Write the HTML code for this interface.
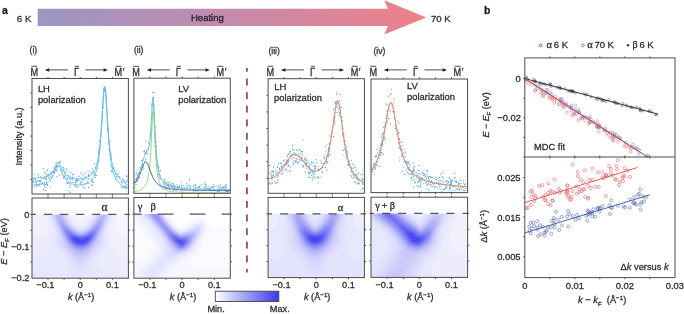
<!DOCTYPE html><html><head><meta charset="utf-8"><style>html,body{margin:0;padding:0;background:#fff;overflow:hidden}svg{display:block;font-family:"Liberation Sans", sans-serif;will-change:transform}text{stroke:#333;stroke-width:0.3px}</style></head><body><svg width="684" height="314" viewBox="0 0 684 314"><defs><linearGradient id="hg" x1="37.7" y1="0" x2="426.3" y2="0" gradientUnits="userSpaceOnUse"><stop offset="0" stop-color="#9a97c4"/><stop offset="0.42" stop-color="#bf8cb0"/><stop offset="1" stop-color="#ee8189"/></linearGradient></defs>
<polygon points="37.7,8.8 387.9,8.8 384.2,0.2 426.3,17.4 384.2,34.6 387.9,26 37.7,26" fill="url(#hg)"/>
<text x="2.00" y="13.60" font-size="10.5" text-anchor="start" font-weight="bold" font-style="normal" fill="#111" >a</text>
<text x="16.80" y="21.90" font-size="9.8" text-anchor="start" font-weight="normal" font-style="normal" fill="#2b2b2b" >6 K</text>
<text x="191.00" y="20.80" font-size="9.5" text-anchor="start" font-weight="normal" font-style="normal" fill="#2a2030" style="stroke:#2a2030">Heating</text>
<text x="431.00" y="21.90" font-size="9.6" text-anchor="start" font-weight="normal" font-style="normal" fill="#2b2b2b" >70 K</text>
<text x="484.00" y="14.00" font-size="10.5" text-anchor="start" font-weight="bold" font-style="normal" fill="#111" >b</text>
<text x="29.60" y="52.60" font-size="8.6" text-anchor="start" font-weight="normal" font-style="normal" fill="#333" >(i)</text>
<text transform="translate(30.40,75.5) scale(0.88,1)" font-size="10.4" fill="#2b2b2b">M</text>
<line x1="31.40" y1="66.3" x2="37.20" y2="66.3" stroke="#2b2b2b" stroke-width="0.85"/>
<text transform="translate(73.90,75.5) scale(0.88,1)" font-size="10.4" fill="#2b2b2b">Γ</text>
<line x1="74.80" y1="66.3" x2="78.90" y2="66.3" stroke="#2b2b2b" stroke-width="0.85"/>
<text transform="translate(114.60,75.5) scale(0.88,1)" font-size="10.4" fill="#2b2b2b">M<tspan dx="0.6">′</tspan></text>
<line x1="115.60" y1="66.3" x2="121.40" y2="66.3" stroke="#2b2b2b" stroke-width="0.85"/>
<line x1="47.80" y1="69.9" x2="67.80" y2="69.9" stroke="#222" stroke-width="0.8"/>
<polygon points="44.80,69.9 49.20,68.15 49.20,71.65" fill="#222"/>
<line x1="85.40" y1="69.9" x2="105.00" y2="69.9" stroke="#222" stroke-width="0.8"/>
<polygon points="108.00,69.9 103.60,68.15 103.60,71.65" fill="#222"/>
<text x="133.90" y="52.60" font-size="8.6" text-anchor="start" font-weight="normal" font-style="normal" fill="#333" >(ii)</text>
<text transform="translate(132.30,75.5) scale(0.88,1)" font-size="10.4" fill="#2b2b2b">M</text>
<line x1="133.30" y1="66.3" x2="139.10" y2="66.3" stroke="#2b2b2b" stroke-width="0.85"/>
<text transform="translate(175.80,75.5) scale(0.88,1)" font-size="10.4" fill="#2b2b2b">Γ</text>
<line x1="176.70" y1="66.3" x2="180.80" y2="66.3" stroke="#2b2b2b" stroke-width="0.85"/>
<text transform="translate(216.50,75.5) scale(0.88,1)" font-size="10.4" fill="#2b2b2b">M<tspan dx="0.6">′</tspan></text>
<line x1="217.50" y1="66.3" x2="223.30" y2="66.3" stroke="#2b2b2b" stroke-width="0.85"/>
<line x1="149.70" y1="69.9" x2="169.70" y2="69.9" stroke="#222" stroke-width="0.8"/>
<polygon points="146.70,69.9 151.10,68.15 151.10,71.65" fill="#222"/>
<line x1="187.30" y1="69.9" x2="206.90" y2="69.9" stroke="#222" stroke-width="0.8"/>
<polygon points="209.90,69.9 205.50,68.15 205.50,71.65" fill="#222"/>
<text x="268.40" y="54.40" font-size="8.6" text-anchor="start" font-weight="normal" font-style="normal" fill="#333" >(iii)</text>
<text transform="translate(266.50,75.5) scale(0.88,1)" font-size="10.4" fill="#2b2b2b">M</text>
<line x1="267.50" y1="66.3" x2="273.30" y2="66.3" stroke="#2b2b2b" stroke-width="0.85"/>
<text transform="translate(310.00,75.5) scale(0.88,1)" font-size="10.4" fill="#2b2b2b">Γ</text>
<line x1="310.90" y1="66.3" x2="315.00" y2="66.3" stroke="#2b2b2b" stroke-width="0.85"/>
<text transform="translate(350.70,75.5) scale(0.88,1)" font-size="10.4" fill="#2b2b2b">M<tspan dx="0.6">′</tspan></text>
<line x1="351.70" y1="66.3" x2="357.50" y2="66.3" stroke="#2b2b2b" stroke-width="0.85"/>
<line x1="283.90" y1="69.9" x2="303.90" y2="69.9" stroke="#222" stroke-width="0.8"/>
<polygon points="280.90,69.9 285.30,68.15 285.30,71.65" fill="#222"/>
<line x1="321.50" y1="69.9" x2="341.10" y2="69.9" stroke="#222" stroke-width="0.8"/>
<polygon points="344.10,69.9 339.70,68.15 339.70,71.65" fill="#222"/>
<text x="373.50" y="54.40" font-size="8.6" text-anchor="start" font-weight="normal" font-style="normal" fill="#333" >(iv)</text>
<text transform="translate(369.40,75.5) scale(0.88,1)" font-size="10.4" fill="#2b2b2b">M</text>
<line x1="370.40" y1="66.3" x2="376.20" y2="66.3" stroke="#2b2b2b" stroke-width="0.85"/>
<text transform="translate(412.90,75.5) scale(0.88,1)" font-size="10.4" fill="#2b2b2b">Γ</text>
<line x1="413.80" y1="66.3" x2="417.90" y2="66.3" stroke="#2b2b2b" stroke-width="0.85"/>
<text transform="translate(453.60,75.5) scale(0.88,1)" font-size="10.4" fill="#2b2b2b">M<tspan dx="0.6">′</tspan></text>
<line x1="454.60" y1="66.3" x2="460.40" y2="66.3" stroke="#2b2b2b" stroke-width="0.85"/>
<line x1="386.80" y1="69.9" x2="406.80" y2="69.9" stroke="#222" stroke-width="0.8"/>
<polygon points="383.80,69.9 388.20,68.15 388.20,71.65" fill="#222"/>
<line x1="424.40" y1="69.9" x2="444.00" y2="69.9" stroke="#222" stroke-width="0.8"/>
<polygon points="447.00,69.9 442.60,68.15 442.60,71.65" fill="#222"/>
<path fill="#4d9fd6" opacity="0.9" d="M62.6 167.1h1.1v1.1h-1.1zM38.3 173.5h1.1v1.1h-1.1zM83.1 178.5h1.1v1.1h-1.1zM80.4 177.2h1.1v1.1h-1.1zM35.0 178.6h1.1v1.1h-1.1zM40.1 176.6h1.1v1.1h-1.1zM72.4 176.7h1.1v1.1h-1.1zM52.9 171.3h1.1v1.1h-1.1zM92.0 168.6h1.1v1.1h-1.1zM69.7 178.0h1.1v1.1h-1.1zM125.7 175.3h1.1v1.1h-1.1zM59.3 161.6h1.1v1.1h-1.1zM45.3 174.1h1.1v1.1h-1.1zM110.2 152.8h1.1v1.1h-1.1zM48.8 178.6h1.1v1.1h-1.1zM67.3 177.8h1.1v1.1h-1.1zM84.3 176.5h1.1v1.1h-1.1zM51.2 171.7h1.1v1.1h-1.1zM97.1 162.9h1.1v1.1h-1.1zM87.9 174.9h1.1v1.1h-1.1zM75.1 179.7h1.1v1.1h-1.1zM98.9 140.8h1.1v1.1h-1.1zM54.9 169.9h1.1v1.1h-1.1zM115.9 176.0h1.1v1.1h-1.1zM101.8 115.0h1.1v1.1h-1.1zM42.8 167.9h1.1v1.1h-1.1zM71.7 177.3h1.1v1.1h-1.1zM78.6 180.0h1.1v1.1h-1.1zM35.1 180.2h1.1v1.1h-1.1zM86.7 181.6h1.1v1.1h-1.1zM115.9 176.2h1.1v1.1h-1.1zM88.8 171.0h1.1v1.1h-1.1zM87.4 182.5h1.1v1.1h-1.1zM122.6 178.3h1.1v1.1h-1.1zM77.1 178.7h1.1v1.1h-1.1zM99.1 147.5h1.1v1.1h-1.1zM93.9 163.3h1.1v1.1h-1.1zM58.8 163.4h1.1v1.1h-1.1zM68.6 176.5h1.1v1.1h-1.1zM75.9 178.6h1.1v1.1h-1.1zM47.6 174.3h1.1v1.1h-1.1zM105.6 96.2h1.1v1.1h-1.1zM43.8 176.5h1.1v1.1h-1.1zM115.5 170.2h1.1v1.1h-1.1zM39.1 181.1h1.1v1.1h-1.1zM116.7 173.9h1.1v1.1h-1.1zM110.5 154.9h1.1v1.1h-1.1zM71.5 179.2h1.1v1.1h-1.1zM66.0 168.1h1.1v1.1h-1.1zM45.9 181.5h1.1v1.1h-1.1zM48.4 174.4h1.1v1.1h-1.1zM78.2 175.8h1.1v1.1h-1.1zM88.3 176.0h1.1v1.1h-1.1zM71.8 177.1h1.1v1.1h-1.1zM67.0 182.8h1.1v1.1h-1.1zM98.1 158.5h1.1v1.1h-1.1zM81.1 181.6h1.1v1.1h-1.1zM36.6 180.7h1.1v1.1h-1.1zM118.2 175.7h1.1v1.1h-1.1zM108.4 149.2h1.1v1.1h-1.1zM69.3 177.7h1.1v1.1h-1.1zM92.6 171.0h1.1v1.1h-1.1zM37.4 175.3h1.1v1.1h-1.1zM47.0 174.5h1.1v1.1h-1.1zM64.2 172.4h1.1v1.1h-1.1zM46.0 175.9h1.1v1.1h-1.1zM41.2 177.5h1.1v1.1h-1.1zM115.8 173.4h1.1v1.1h-1.1zM90.7 172.8h1.1v1.1h-1.1zM64.9 171.2h1.1v1.1h-1.1zM66.5 170.2h1.1v1.1h-1.1zM76.4 179.4h1.1v1.1h-1.1zM41.2 176.9h1.1v1.1h-1.1zM64.4 173.4h1.1v1.1h-1.1zM46.9 169.3h1.1v1.1h-1.1zM33.6 173.7h1.1v1.1h-1.1zM45.5 177.3h1.1v1.1h-1.1zM83.8 173.7h1.1v1.1h-1.1zM125.9 180.6h1.1v1.1h-1.1zM114.7 173.0h1.1v1.1h-1.1zM66.8 177.5h1.1v1.1h-1.1zM47.5 174.7h1.1v1.1h-1.1zM106.6 121.3h1.1v1.1h-1.1zM63.2 169.9h1.1v1.1h-1.1zM126.5 175.9h1.1v1.1h-1.1zM113.7 167.6h1.1v1.1h-1.1zM102.8 106.8h1.1v1.1h-1.1zM53.3 172.4h1.1v1.1h-1.1zM34.1 177.8h1.1v1.1h-1.1zM34.0 177.9h1.1v1.1h-1.1zM98.2 149.8h1.1v1.1h-1.1zM123.7 187.4h1.1v1.1h-1.1zM126.8 179.2h1.1v1.1h-1.1zM123.6 181.8h1.1v1.1h-1.1zM53.3 167.2h1.1v1.1h-1.1zM50.4 171.8h1.1v1.1h-1.1zM118.3 172.7h1.1v1.1h-1.1zM112.5 171.7h1.1v1.1h-1.1zM108.6 140.7h1.1v1.1h-1.1zM39.5 181.0h1.1v1.1h-1.1zM106.9 129.6h1.1v1.1h-1.1zM103.8 90.6h1.1v1.1h-1.1zM107.6 128.7h1.1v1.1h-1.1zM63.5 168.5h1.1v1.1h-1.1zM69.6 184.9h1.1v1.1h-1.1zM70.1 171.9h1.1v1.1h-1.1zM47.8 176.8h1.1v1.1h-1.1zM43.6 172.5h1.1v1.1h-1.1zM109.3 140.3h1.1v1.1h-1.1zM45.5 171.8h1.1v1.1h-1.1zM94.8 176.7h1.1v1.1h-1.1zM65.2 175.4h1.1v1.1h-1.1zM32.7 178.0h1.1v1.1h-1.1zM125.1 183.2h1.1v1.1h-1.1zM121.5 182.5h1.1v1.1h-1.1zM73.3 173.5h1.1v1.1h-1.1zM51.7 176.2h1.1v1.1h-1.1zM55.7 165.2h1.1v1.1h-1.1zM88.0 173.8h1.1v1.1h-1.1zM56.4 165.1h1.1v1.1h-1.1zM119.3 177.0h1.1v1.1h-1.1zM65.5 178.3h1.1v1.1h-1.1zM118.7 176.3h1.1v1.1h-1.1zM72.0 174.1h1.1v1.1h-1.1zM82.7 179.7h1.1v1.1h-1.1zM81.9 174.5h1.1v1.1h-1.1zM49.0 173.8h1.1v1.1h-1.1zM77.1 180.0h1.1v1.1h-1.1zM101.4 122.3h1.1v1.1h-1.1zM81.4 179.0h1.1v1.1h-1.1zM85.0 177.0h1.1v1.1h-1.1zM85.5 178.7h1.1v1.1h-1.1zM55.4 166.2h1.1v1.1h-1.1zM80.4 172.6h1.1v1.1h-1.1zM85.6 176.7h1.1v1.1h-1.1zM74.2 184.9h1.1v1.1h-1.1zM90.5 178.4h1.1v1.1h-1.1zM98.3 153.0h1.1v1.1h-1.1zM75.0 181.5h1.1v1.1h-1.1zM122.3 180.5h1.1v1.1h-1.1zM98.9 140.6h1.1v1.1h-1.1zM56.4 169.7h1.1v1.1h-1.1zM85.4 171.4h1.1v1.1h-1.1zM44.6 178.6h1.1v1.1h-1.1zM43.1 177.9h1.1v1.1h-1.1zM54.6 166.0h1.1v1.1h-1.1zM38.4 180.0h1.1v1.1h-1.1zM118.0 181.7h1.1v1.1h-1.1z"/>
<path fill="#4d9fd6" opacity="0.9" d="M46.3 183.0h1.1v1.1h-1.1zM45.2 186.9h1.1v1.1h-1.1zM116.6 178.4h1.1v1.1h-1.1zM123.4 186.3h1.1v1.1h-1.1zM69.8 191.8h1.1v1.1h-1.1zM111.8 167.4h1.1v1.1h-1.1zM46.9 185.0h1.1v1.1h-1.1zM64.1 175.7h1.1v1.1h-1.1zM50.3 180.9h1.1v1.1h-1.1zM33.2 180.2h1.1v1.1h-1.1zM84.9 183.9h1.1v1.1h-1.1zM63.4 175.8h1.1v1.1h-1.1zM91.6 180.1h1.1v1.1h-1.1zM126.5 187.1h1.1v1.1h-1.1zM107.5 128.3h1.1v1.1h-1.1zM57.0 165.9h1.1v1.1h-1.1zM35.2 184.0h1.1v1.1h-1.1zM43.9 185.4h1.1v1.1h-1.1zM72.1 178.8h1.1v1.1h-1.1zM56.3 170.1h1.1v1.1h-1.1zM45.8 178.8h1.1v1.1h-1.1zM99.0 153.8h1.1v1.1h-1.1zM40.0 179.7h1.1v1.1h-1.1zM72.4 181.9h1.1v1.1h-1.1zM38.3 180.2h1.1v1.1h-1.1zM108.8 149.5h1.1v1.1h-1.1zM39.4 183.3h1.1v1.1h-1.1zM114.7 178.2h1.1v1.1h-1.1zM75.2 186.1h1.1v1.1h-1.1zM120.9 181.3h1.1v1.1h-1.1zM57.2 162.3h1.1v1.1h-1.1zM54.4 167.8h1.1v1.1h-1.1zM41.9 183.0h1.1v1.1h-1.1zM50.8 177.1h1.1v1.1h-1.1zM61.5 173.9h1.1v1.1h-1.1zM59.4 161.1h1.1v1.1h-1.1zM79.7 183.0h1.1v1.1h-1.1zM33.1 182.0h1.1v1.1h-1.1zM55.5 162.3h1.1v1.1h-1.1zM84.6 183.0h1.1v1.1h-1.1zM49.7 186.7h1.1v1.1h-1.1zM41.6 182.5h1.1v1.1h-1.1zM110.5 165.4h1.1v1.1h-1.1zM112.0 167.4h1.1v1.1h-1.1zM69.3 187.0h1.1v1.1h-1.1zM126.3 187.1h1.1v1.1h-1.1zM64.5 175.4h1.1v1.1h-1.1zM92.8 181.8h1.1v1.1h-1.1zM70.4 183.5h1.1v1.1h-1.1zM43.9 182.2h1.1v1.1h-1.1zM38.2 184.3h1.1v1.1h-1.1zM47.1 183.9h1.1v1.1h-1.1zM39.5 180.7h1.1v1.1h-1.1zM96.1 174.9h1.1v1.1h-1.1zM58.6 165.6h1.1v1.1h-1.1zM75.7 181.6h1.1v1.1h-1.1zM46.6 184.1h1.1v1.1h-1.1zM124.3 185.5h1.1v1.1h-1.1zM125.3 188.7h1.1v1.1h-1.1zM124.6 187.0h1.1v1.1h-1.1zM61.3 171.5h1.1v1.1h-1.1zM68.2 181.6h1.1v1.1h-1.1zM77.2 186.2h1.1v1.1h-1.1zM80.1 184.2h1.1v1.1h-1.1zM69.9 181.4h1.1v1.1h-1.1zM35.4 181.9h1.1v1.1h-1.1zM53.8 171.8h1.1v1.1h-1.1zM87.9 187.1h1.1v1.1h-1.1zM94.9 174.0h1.1v1.1h-1.1zM100.5 129.9h1.1v1.1h-1.1zM62.9 177.3h1.1v1.1h-1.1zM126.5 184.3h1.1v1.1h-1.1zM93.5 171.8h1.1v1.1h-1.1zM35.6 181.2h1.1v1.1h-1.1zM92.0 184.4h1.1v1.1h-1.1zM102.2 104.2h1.1v1.1h-1.1zM81.9 185.5h1.1v1.1h-1.1zM80.1 181.5h1.1v1.1h-1.1zM111.2 171.2h1.1v1.1h-1.1zM87.8 178.6h1.1v1.1h-1.1zM98.3 160.6h1.1v1.1h-1.1zM53.6 171.1h1.1v1.1h-1.1zM66.2 179.7h1.1v1.1h-1.1zM41.5 181.7h1.1v1.1h-1.1zM92.0 182.0h1.1v1.1h-1.1zM91.8 180.3h1.1v1.1h-1.1zM108.4 142.9h1.1v1.1h-1.1zM83.1 187.3h1.1v1.1h-1.1zM95.0 167.3h1.1v1.1h-1.1zM55.7 165.4h1.1v1.1h-1.1zM38.5 184.6h1.1v1.1h-1.1zM51.2 172.3h1.1v1.1h-1.1zM102.8 88.8h1.1v1.1h-1.1zM68.3 182.3h1.1v1.1h-1.1zM77.6 186.3h1.1v1.1h-1.1zM90.9 184.7h1.1v1.1h-1.1zM93.4 174.5h1.1v1.1h-1.1zM55.9 166.4h1.1v1.1h-1.1zM103.1 94.8h1.1v1.1h-1.1zM32.6 180.9h1.1v1.1h-1.1zM37.2 184.8h1.1v1.1h-1.1zM98.2 151.6h1.1v1.1h-1.1zM96.6 167.8h1.1v1.1h-1.1zM76.2 180.7h1.1v1.1h-1.1zM76.4 179.5h1.1v1.1h-1.1zM50.6 173.7h1.1v1.1h-1.1zM125.8 186.3h1.1v1.1h-1.1zM75.7 184.3h1.1v1.1h-1.1zM110.6 157.7h1.1v1.1h-1.1zM57.3 166.2h1.1v1.1h-1.1zM51.6 174.7h1.1v1.1h-1.1zM87.5 183.0h1.1v1.1h-1.1zM45.0 190.0h1.1v1.1h-1.1zM44.2 184.1h1.1v1.1h-1.1zM110.6 170.1h1.1v1.1h-1.1zM99.3 148.8h1.1v1.1h-1.1zM53.7 169.4h1.1v1.1h-1.1zM33.7 186.5h1.1v1.1h-1.1zM60.5 169.3h1.1v1.1h-1.1zM44.9 184.1h1.1v1.1h-1.1zM112.5 168.7h1.1v1.1h-1.1zM42.9 189.1h1.1v1.1h-1.1zM120.8 186.0h1.1v1.1h-1.1zM59.3 174.6h1.1v1.1h-1.1zM67.3 189.9h1.1v1.1h-1.1zM88.3 174.9h1.1v1.1h-1.1zM66.2 182.3h1.1v1.1h-1.1zM36.0 183.3h1.1v1.1h-1.1zM41.2 182.5h1.1v1.1h-1.1zM121.7 187.1h1.1v1.1h-1.1zM55.4 168.8h1.1v1.1h-1.1zM49.7 175.7h1.1v1.1h-1.1zM67.4 175.0h1.1v1.1h-1.1zM109.8 158.7h1.1v1.1h-1.1zM92.3 171.6h1.1v1.1h-1.1zM84.4 187.2h1.1v1.1h-1.1zM100.9 120.4h1.1v1.1h-1.1zM74.9 182.5h1.1v1.1h-1.1zM104.1 89.3h1.1v1.1h-1.1zM36.1 186.2h1.1v1.1h-1.1zM120.9 182.2h1.1v1.1h-1.1zM64.5 175.4h1.1v1.1h-1.1zM60.1 169.2h1.1v1.1h-1.1zM56.5 176.3h1.1v1.1h-1.1zM94.7 174.7h1.1v1.1h-1.1zM69.4 178.8h1.1v1.1h-1.1z"/>
<path d="M32.38,178.03 L32.87,178.03 L33.35,178.03 L33.83,178.02 L34.32,178.02 L34.80,178.01 L35.28,178.00 L35.76,177.99 L36.25,177.98 L36.73,177.96 L37.21,177.94 L37.70,177.92 L38.18,177.89 L38.66,177.86 L39.15,177.83 L39.63,177.79 L40.11,177.75 L40.59,177.71 L41.08,177.65 L41.56,177.60 L42.04,177.53 L42.53,177.46 L43.01,177.38 L43.49,177.29 L43.98,177.19 L44.46,177.08 L44.94,176.96 L45.42,176.83 L45.91,176.68 L46.39,176.51 L46.87,176.33 L47.36,176.12 L47.84,175.89 L48.32,175.64 L48.81,175.35 L49.29,175.03 L49.77,174.68 L50.25,174.28 L50.74,173.83 L51.22,173.34 L51.70,172.79 L52.19,172.18 L52.67,171.50 L53.15,170.76 L53.64,169.96 L54.12,169.09 L54.60,168.17 L55.08,167.22 L55.57,166.27 L56.05,165.36 L56.53,164.52 L57.02,163.82 L57.50,163.30 L57.98,163.02 L58.47,162.99 L58.95,163.22 L59.43,163.70 L59.91,164.38 L60.40,165.21 L60.88,166.13 L61.36,167.11 L61.85,168.09 L62.33,169.05 L62.81,169.97 L63.30,170.83 L63.78,171.62 L64.26,172.35 L64.74,173.01 L65.23,173.61 L65.71,174.15 L66.19,174.64 L66.68,175.08 L67.16,175.47 L67.64,175.83 L68.12,176.15 L68.61,176.44 L69.09,176.70 L69.57,176.93 L70.06,177.15 L70.54,177.34 L71.02,177.51 L71.51,177.67 L71.99,177.81 L72.47,177.93 L72.96,178.05 L73.44,178.15 L73.92,178.24 L74.40,178.32 L74.89,178.39 L75.37,178.46 L75.85,178.51 L76.34,178.55 L76.82,178.59 L77.30,178.62 L77.78,178.64 L78.27,178.66 L78.75,178.66 L79.23,178.66 L79.72,178.66 L80.20,178.64 L80.68,178.62 L81.17,178.59 L81.65,178.55 L82.13,178.50 L82.62,178.44 L83.10,178.37 L83.58,178.30 L84.06,178.21 L84.55,178.11 L85.03,178.00 L85.51,177.88 L86.00,177.74 L86.48,177.58 L86.96,177.41 L87.44,177.22 L87.93,177.01 L88.41,176.78 L88.89,176.52 L89.38,176.24 L89.86,175.92 L90.34,175.57 L90.83,175.18 L91.31,174.75 L91.79,174.27 L92.28,173.73 L92.76,173.13 L93.24,172.46 L93.72,171.70 L94.21,170.85 L94.69,169.88 L95.17,168.79 L95.66,167.55 L96.14,166.14 L96.62,164.52 L97.11,162.66 L97.59,160.51 L98.07,158.04 L98.55,155.17 L99.04,151.85 L99.52,147.99 L100.00,143.51 L100.49,138.35 L100.97,132.45 L101.45,125.80 L101.94,118.49 L102.42,110.75 L102.90,103.00 L103.38,95.89 L103.87,90.26 L104.35,86.93 L104.83,86.47 L105.32,88.95 L105.80,93.97 L106.28,100.75 L106.77,108.44 L107.25,116.32 L107.73,123.88 L108.21,130.83 L108.70,137.05 L109.18,142.52 L109.66,147.29 L110.15,151.41 L110.63,154.98 L111.11,158.06 L111.59,160.73 L112.08,163.05 L112.56,165.07 L113.04,166.84 L113.53,168.39 L114.01,169.76 L114.49,170.97 L114.98,172.04 L115.46,173.00 L115.94,173.86 L116.43,174.64 L116.91,175.34 L117.39,175.97 L117.87,176.54 L118.36,177.07 L118.84,177.55 L119.32,177.99 L119.81,178.39 L120.29,178.76 L120.77,179.11 L121.26,179.43 L121.74,179.72 L122.22,180.00 L122.70,180.26 L123.19,180.50 L123.67,180.73 L124.15,180.94 L124.64,181.14 L125.12,181.33 L125.60,181.51 L126.09,181.68 L126.57,181.84 L127.05,181.99 L127.53,182.14 L128.02,182.28" fill="none" stroke="#62bde6" stroke-width="0.9"/>
<path d="M32.38,185.08 L32.87,185.07 L33.35,185.05 L33.83,185.03 L34.32,185.01 L34.80,184.99 L35.28,184.97 L35.76,184.94 L36.25,184.91 L36.73,184.87 L37.21,184.84 L37.70,184.79 L38.18,184.75 L38.66,184.70 L39.15,184.65 L39.63,184.59 L40.11,184.52 L40.59,184.45 L41.08,184.37 L41.56,184.29 L42.04,184.19 L42.53,184.09 L43.01,183.98 L43.49,183.86 L43.98,183.72 L44.46,183.57 L44.94,183.41 L45.42,183.23 L45.91,183.03 L46.39,182.81 L46.87,182.57 L47.36,182.30 L47.84,182.01 L48.32,181.68 L48.81,181.31 L49.29,180.90 L49.77,180.45 L50.25,179.95 L50.74,179.39 L51.22,178.76 L51.70,178.07 L52.19,177.30 L52.67,176.46 L53.15,175.53 L53.64,174.52 L54.12,173.44 L54.60,172.29 L55.08,171.11 L55.57,169.92 L56.05,168.77 L56.53,167.73 L57.02,166.85 L57.50,166.20 L57.98,165.84 L58.47,165.79 L58.95,166.07 L59.43,166.64 L59.91,167.46 L60.40,168.48 L60.88,169.61 L61.36,170.81 L61.85,172.01 L62.33,173.19 L62.81,174.31 L63.30,175.35 L63.78,176.32 L64.26,177.21 L64.74,178.02 L65.23,178.74 L65.71,179.40 L66.19,179.99 L66.68,180.53 L67.16,181.00 L67.64,181.43 L68.12,181.82 L68.61,182.17 L69.09,182.48 L69.57,182.76 L70.06,183.02 L70.54,183.24 L71.02,183.45 L71.51,183.63 L71.99,183.80 L72.47,183.95 L72.96,184.08 L73.44,184.20 L73.92,184.31 L74.40,184.40 L74.89,184.48 L75.37,184.56 L75.85,184.62 L76.34,184.67 L76.82,184.71 L77.30,184.74 L77.78,184.77 L78.27,184.78 L78.75,184.79 L79.23,184.79 L79.72,184.78 L80.20,184.76 L80.68,184.73 L81.17,184.70 L81.65,184.65 L82.13,184.60 L82.62,184.53 L83.10,184.46 L83.58,184.37 L84.06,184.27 L84.55,184.16 L85.03,184.04 L85.51,183.90 L86.00,183.75 L86.48,183.58 L86.96,183.40 L87.44,183.19 L87.93,182.96 L88.41,182.71 L88.89,182.43 L89.38,182.12 L89.86,181.77 L90.34,181.39 L90.83,180.97 L91.31,180.51 L91.79,179.99 L92.28,179.41 L92.76,178.76 L93.24,178.04 L93.72,177.23 L94.21,176.32 L94.69,175.29 L95.17,174.12 L95.66,172.80 L96.14,171.29 L96.62,169.56 L97.11,167.57 L97.59,165.29 L98.07,162.66 L98.55,159.60 L99.04,156.06 L99.52,151.96 L100.00,147.20 L100.49,141.71 L100.97,135.44 L101.45,128.37 L101.94,120.60 L102.42,112.37 L102.90,104.13 L103.38,96.57 L103.87,90.59 L104.35,87.04 L104.83,86.54 L105.32,89.17 L105.80,94.49 L106.28,101.68 L106.77,109.84 L107.25,118.19 L107.73,126.21 L108.21,133.59 L108.70,140.18 L109.18,145.99 L109.66,151.04 L110.15,155.41 L110.63,159.19 L111.11,162.45 L111.59,165.28 L112.08,167.73 L112.56,169.87 L113.04,171.73 L113.53,173.37 L114.01,174.82 L114.49,176.09 L114.98,177.23 L115.46,178.24 L115.94,179.14 L116.43,179.96 L116.91,180.69 L117.39,181.35 L117.87,181.95 L118.36,182.50 L118.84,183.00 L119.32,183.46 L119.81,183.88 L120.29,184.26 L120.77,184.62 L121.26,184.95 L121.74,185.26 L122.22,185.54 L122.70,185.81 L123.19,186.06 L123.67,186.29 L124.15,186.50 L124.64,186.71 L125.12,186.90 L125.60,187.08 L126.09,187.25 L126.57,187.42 L127.05,187.57 L127.53,187.71 L128.02,187.85" fill="none" stroke="#62bde6" stroke-width="0.9"/>
<path fill="#4d9fd6" opacity="0.9" d="M149.4 137.4h1.1v1.1h-1.1zM220.8 187.3h1.1v1.1h-1.1zM181.3 186.5h1.1v1.1h-1.1zM176.7 186.0h1.1v1.1h-1.1zM142.0 159.4h1.1v1.1h-1.1zM166.3 182.3h1.1v1.1h-1.1zM158.2 169.4h1.1v1.1h-1.1zM188.3 184.6h1.1v1.1h-1.1zM173.1 189.7h1.1v1.1h-1.1zM173.2 189.4h1.1v1.1h-1.1zM165.9 184.4h1.1v1.1h-1.1zM139.2 172.0h1.1v1.1h-1.1zM145.4 140.3h1.1v1.1h-1.1zM181.9 191.7h1.1v1.1h-1.1zM154.1 131.4h1.1v1.1h-1.1zM159.4 175.2h1.1v1.1h-1.1zM176.3 184.2h1.1v1.1h-1.1zM225.4 185.7h1.1v1.1h-1.1zM135.4 183.9h1.1v1.1h-1.1zM136.4 178.6h1.1v1.1h-1.1zM190.0 185.5h1.1v1.1h-1.1zM222.8 188.9h1.1v1.1h-1.1zM213.0 184.2h1.1v1.1h-1.1zM157.3 174.1h1.1v1.1h-1.1zM143.8 152.8h1.1v1.1h-1.1zM199.1 185.8h1.1v1.1h-1.1zM224.2 189.7h1.1v1.1h-1.1zM177.4 188.1h1.1v1.1h-1.1zM208.8 189.0h1.1v1.1h-1.1zM155.7 145.6h1.1v1.1h-1.1zM162.6 183.3h1.1v1.1h-1.1zM145.6 152.0h1.1v1.1h-1.1zM200.7 184.6h1.1v1.1h-1.1zM144.1 150.1h1.1v1.1h-1.1zM189.6 186.8h1.1v1.1h-1.1zM170.7 185.3h1.1v1.1h-1.1zM162.4 188.7h1.1v1.1h-1.1zM195.5 186.7h1.1v1.1h-1.1zM218.6 190.9h1.1v1.1h-1.1zM157.1 164.4h1.1v1.1h-1.1zM226.0 189.6h1.1v1.1h-1.1zM135.4 181.1h1.1v1.1h-1.1zM181.4 189.1h1.1v1.1h-1.1zM158.1 173.8h1.1v1.1h-1.1zM197.7 186.8h1.1v1.1h-1.1zM136.5 177.6h1.1v1.1h-1.1zM165.9 188.0h1.1v1.1h-1.1zM152.4 91.8h1.1v1.1h-1.1zM210.2 189.0h1.1v1.1h-1.1zM153.1 109.8h1.1v1.1h-1.1zM226.9 190.9h1.1v1.1h-1.1zM155.5 141.1h1.1v1.1h-1.1zM154.6 133.6h1.1v1.1h-1.1zM225.2 191.3h1.1v1.1h-1.1zM181.1 186.9h1.1v1.1h-1.1zM173.5 184.7h1.1v1.1h-1.1zM197.5 187.0h1.1v1.1h-1.1zM171.3 186.6h1.1v1.1h-1.1zM153.8 112.5h1.1v1.1h-1.1zM138.3 173.2h1.1v1.1h-1.1zM139.1 177.0h1.1v1.1h-1.1zM218.6 185.2h1.1v1.1h-1.1zM204.0 182.2h1.1v1.1h-1.1zM165.1 183.5h1.1v1.1h-1.1zM151.2 103.9h1.1v1.1h-1.1zM136.3 179.0h1.1v1.1h-1.1zM197.4 190.5h1.1v1.1h-1.1zM165.3 181.5h1.1v1.1h-1.1zM149.6 133.2h1.1v1.1h-1.1zM167.2 184.6h1.1v1.1h-1.1zM225.6 183.8h1.1v1.1h-1.1zM153.3 92.1h1.1v1.1h-1.1zM167.7 182.5h1.1v1.1h-1.1zM138.0 176.9h1.1v1.1h-1.1zM222.1 188.5h1.1v1.1h-1.1zM151.9 111.4h1.1v1.1h-1.1zM136.2 171.7h1.1v1.1h-1.1zM172.9 184.7h1.1v1.1h-1.1zM137.2 180.7h1.1v1.1h-1.1zM136.6 169.2h1.1v1.1h-1.1zM158.1 167.1h1.1v1.1h-1.1zM205.4 186.7h1.1v1.1h-1.1zM159.6 177.4h1.1v1.1h-1.1zM225.8 190.6h1.1v1.1h-1.1zM202.5 190.1h1.1v1.1h-1.1zM163.8 182.4h1.1v1.1h-1.1zM206.2 188.5h1.1v1.1h-1.1zM135.6 184.0h1.1v1.1h-1.1zM155.8 164.4h1.1v1.1h-1.1zM225.4 187.9h1.1v1.1h-1.1zM170.6 186.0h1.1v1.1h-1.1zM180.9 184.7h1.1v1.1h-1.1zM222.9 186.9h1.1v1.1h-1.1zM204.6 184.1h1.1v1.1h-1.1zM212.7 188.3h1.1v1.1h-1.1zM164.9 187.5h1.1v1.1h-1.1zM164.1 186.2h1.1v1.1h-1.1zM140.9 160.0h1.1v1.1h-1.1zM152.3 97.4h1.1v1.1h-1.1zM139.5 172.4h1.1v1.1h-1.1zM136.5 179.4h1.1v1.1h-1.1zM227.9 189.8h1.1v1.1h-1.1zM218.6 186.7h1.1v1.1h-1.1zM141.4 163.9h1.1v1.1h-1.1zM142.6 166.3h1.1v1.1h-1.1zM176.4 187.1h1.1v1.1h-1.1zM155.9 159.0h1.1v1.1h-1.1zM198.4 186.6h1.1v1.1h-1.1zM205.5 186.4h1.1v1.1h-1.1zM145.0 158.6h1.1v1.1h-1.1zM214.5 189.8h1.1v1.1h-1.1zM169.3 181.8h1.1v1.1h-1.1zM204.5 188.0h1.1v1.1h-1.1zM156.9 160.7h1.1v1.1h-1.1zM148.1 142.3h1.1v1.1h-1.1zM164.8 185.9h1.1v1.1h-1.1zM171.5 182.7h1.1v1.1h-1.1zM155.6 150.3h1.1v1.1h-1.1zM143.1 168.7h1.1v1.1h-1.1zM179.1 185.2h1.1v1.1h-1.1zM137.1 175.8h1.1v1.1h-1.1zM151.6 103.3h1.1v1.1h-1.1zM169.2 188.9h1.1v1.1h-1.1zM216.9 190.9h1.1v1.1h-1.1zM208.4 188.1h1.1v1.1h-1.1zM224.6 186.0h1.1v1.1h-1.1zM193.1 186.1h1.1v1.1h-1.1zM154.3 128.4h1.1v1.1h-1.1zM153.0 96.8h1.1v1.1h-1.1zM157.9 173.7h1.1v1.1h-1.1zM152.9 105.3h1.1v1.1h-1.1zM151.1 105.9h1.1v1.1h-1.1zM163.4 180.4h1.1v1.1h-1.1zM186.2 183.2h1.1v1.1h-1.1zM139.4 167.0h1.1v1.1h-1.1zM186.4 186.4h1.1v1.1h-1.1zM195.0 187.1h1.1v1.1h-1.1zM200.4 187.7h1.1v1.1h-1.1zM172.8 187.0h1.1v1.1h-1.1zM225.3 186.6h1.1v1.1h-1.1zM163.4 184.7h1.1v1.1h-1.1zM173.5 187.8h1.1v1.1h-1.1zM216.7 186.2h1.1v1.1h-1.1zM152.3 97.7h1.1v1.1h-1.1zM203.6 188.6h1.1v1.1h-1.1zM220.3 188.6h1.1v1.1h-1.1zM174.2 185.5h1.1v1.1h-1.1zM218.5 191.5h1.1v1.1h-1.1zM177.8 187.1h1.1v1.1h-1.1zM186.5 187.7h1.1v1.1h-1.1zM195.1 187.5h1.1v1.1h-1.1zM193.4 189.1h1.1v1.1h-1.1zM169.1 187.1h1.1v1.1h-1.1zM160.6 178.1h1.1v1.1h-1.1zM183.6 186.7h1.1v1.1h-1.1zM180.6 188.3h1.1v1.1h-1.1zM211.0 187.0h1.1v1.1h-1.1zM145.5 152.7h1.1v1.1h-1.1zM224.4 185.8h1.1v1.1h-1.1zM138.4 173.1h1.1v1.1h-1.1zM193.2 184.5h1.1v1.1h-1.1zM212.9 186.2h1.1v1.1h-1.1zM154.7 127.0h1.1v1.1h-1.1zM172.3 183.3h1.1v1.1h-1.1zM150.9 128.3h1.1v1.1h-1.1zM154.3 133.0h1.1v1.1h-1.1zM170.3 183.8h1.1v1.1h-1.1zM145.1 152.6h1.1v1.1h-1.1zM219.9 184.4h1.1v1.1h-1.1zM137.2 180.6h1.1v1.1h-1.1zM136.9 177.9h1.1v1.1h-1.1zM214.2 186.1h1.1v1.1h-1.1zM186.4 185.5h1.1v1.1h-1.1zM193.8 189.4h1.1v1.1h-1.1zM189.5 185.5h1.1v1.1h-1.1zM174.4 188.5h1.1v1.1h-1.1zM175.6 189.7h1.1v1.1h-1.1zM135.5 181.0h1.1v1.1h-1.1zM156.0 158.2h1.1v1.1h-1.1zM207.0 188.2h1.1v1.1h-1.1zM150.6 130.8h1.1v1.1h-1.1zM179.0 186.3h1.1v1.1h-1.1zM174.8 186.0h1.1v1.1h-1.1zM142.1 165.8h1.1v1.1h-1.1zM137.2 173.7h1.1v1.1h-1.1zM194.7 184.5h1.1v1.1h-1.1zM208.4 186.5h1.1v1.1h-1.1zM182.7 184.7h1.1v1.1h-1.1zM169.8 184.5h1.1v1.1h-1.1zM225.1 185.3h1.1v1.1h-1.1zM204.0 188.0h1.1v1.1h-1.1zM228.1 190.7h1.1v1.1h-1.1zM180.8 181.5h1.1v1.1h-1.1zM149.2 144.2h1.1v1.1h-1.1zM209.4 187.9h1.1v1.1h-1.1zM167.1 185.1h1.1v1.1h-1.1zM206.3 185.5h1.1v1.1h-1.1zM159.8 170.1h1.1v1.1h-1.1zM212.0 186.8h1.1v1.1h-1.1zM222.1 186.3h1.1v1.1h-1.1zM153.4 107.1h1.1v1.1h-1.1zM164.1 178.9h1.1v1.1h-1.1zM136.8 175.1h1.1v1.1h-1.1zM223.7 187.4h1.1v1.1h-1.1zM198.9 187.2h1.1v1.1h-1.1zM209.1 189.8h1.1v1.1h-1.1zM144.4 160.7h1.1v1.1h-1.1zM168.0 185.8h1.1v1.1h-1.1zM218.5 190.1h1.1v1.1h-1.1zM143.4 150.9h1.1v1.1h-1.1zM171.3 186.3h1.1v1.1h-1.1zM210.3 189.6h1.1v1.1h-1.1zM189.0 179.6h1.1v1.1h-1.1zM168.1 184.7h1.1v1.1h-1.1zM150.3 134.8h1.1v1.1h-1.1zM205.1 183.8h1.1v1.1h-1.1zM157.8 166.6h1.1v1.1h-1.1zM195.0 184.8h1.1v1.1h-1.1zM197.4 188.9h1.1v1.1h-1.1zM163.5 181.2h1.1v1.1h-1.1zM147.7 148.3h1.1v1.1h-1.1zM192.8 191.5h1.1v1.1h-1.1zM219.8 187.5h1.1v1.1h-1.1zM146.0 150.3h1.1v1.1h-1.1zM135.4 173.5h1.1v1.1h-1.1zM167.8 183.8h1.1v1.1h-1.1zM154.9 145.2h1.1v1.1h-1.1zM153.0 104.8h1.1v1.1h-1.1zM193.5 189.9h1.1v1.1h-1.1zM223.7 188.7h1.1v1.1h-1.1zM156.8 161.3h1.1v1.1h-1.1zM194.9 187.4h1.1v1.1h-1.1zM217.4 188.3h1.1v1.1h-1.1zM158.8 176.7h1.1v1.1h-1.1zM134.4 182.3h1.1v1.1h-1.1zM167.1 187.7h1.1v1.1h-1.1zM204.1 186.4h1.1v1.1h-1.1zM157.3 164.8h1.1v1.1h-1.1zM184.6 188.5h1.1v1.1h-1.1zM172.5 186.3h1.1v1.1h-1.1zM208.5 187.8h1.1v1.1h-1.1zM134.4 187.0h1.1v1.1h-1.1zM147.0 153.3h1.1v1.1h-1.1zM152.5 103.8h1.1v1.1h-1.1zM195.2 190.6h1.1v1.1h-1.1z"/>
<path d="M134.04,181.27 L134.28,181.01 L134.52,180.73 L134.77,180.45 L135.01,180.15 L135.25,179.84 L135.49,179.52 L135.73,179.18 L135.97,178.83 L136.22,178.47 L136.46,178.09 L136.70,177.69 L136.94,177.27 L137.18,176.84 L137.42,176.39 L137.66,175.92 L137.91,175.43 L138.15,174.92 L138.39,174.39 L138.63,173.84 L138.87,173.27 L139.11,172.67 L139.35,172.05 L139.60,171.41 L139.84,170.75 L140.08,170.07 L140.32,169.36 L140.56,168.63 L140.80,167.89 L141.05,167.12 L141.29,166.34 L141.53,165.55 L141.77,164.74 L142.01,163.93 L142.25,163.10 L142.49,162.28 L142.74,161.46 L142.98,160.64 L143.22,159.84 L143.46,159.05 L143.70,158.29 L143.94,157.54 L144.18,156.83 L144.43,156.16 L144.67,155.52 L144.91,154.92 L145.15,154.36 L145.39,153.84 L145.63,153.36 L145.88,152.92 L146.12,152.51 L146.36,152.12 L146.60,151.76 L146.84,151.40 L147.08,151.04 L147.32,150.67 L147.57,150.26 L147.81,149.81 L148.05,149.29 L148.29,148.68 L148.53,147.95 L148.77,147.09 L149.01,146.07 L149.26,144.85 L149.50,143.41 L149.74,141.70 L149.98,139.69 L150.22,137.35 L150.46,134.63 L150.71,131.53 L150.95,128.01 L151.19,124.11 L151.43,119.86 L151.67,115.38 L151.91,110.84 L152.15,106.49 L152.40,102.65 L152.64,99.68 L152.88,97.92 L153.12,97.62 L153.36,98.86 L153.60,101.56 L153.84,105.47 L154.09,110.25 L154.33,115.54 L154.57,121.03 L154.81,126.46 L155.05,131.65 L155.29,136.51 L155.54,140.97 L155.78,145.03 L156.02,148.69 L156.26,151.98 L156.50,154.93 L156.74,157.57 L156.98,159.93 L157.23,162.05 L157.47,163.96 L157.71,165.67 L157.95,167.22 L158.19,168.61 L158.43,169.88 L158.67,171.04 L158.92,172.09 L159.16,173.05 L159.40,173.93 L159.64,174.74 L159.88,175.48 L160.12,176.17 L160.37,176.81 L160.61,177.40 L160.85,177.95 L161.09,178.46 L161.33,178.93 L161.57,179.38 L161.81,179.79 L162.06,180.18 L162.30,180.55 L162.54,180.89 L162.78,181.22 L163.02,181.52 L163.26,181.81 L163.50,182.09 L163.75,182.34 L163.99,182.59 L164.23,182.82 L164.47,183.04 L164.71,183.25 L164.95,183.45 L165.20,183.64 L165.44,183.82 L165.68,184.00 L165.92,184.16 L166.16,184.32 L166.40,184.47 L166.64,184.62 L166.89,184.76 L167.13,184.89 L167.37,185.02 L167.61,185.14 L167.85,185.26 L168.09,185.37 L168.33,185.48 L168.58,185.58 L168.82,185.69 L169.06,185.78 L169.30,185.88 L169.54,185.97 L169.78,186.05 L170.03,186.14 L170.27,186.22 L170.51,186.30 L170.75,186.37 L170.99,186.45 L171.23,186.52 L171.47,186.59 L171.72,186.65 L171.96,186.72 L172.20,186.78 L172.44,186.84 L172.68,186.90 L172.92,186.96 L173.16,187.01 L173.41,187.06 L173.65,187.12 L173.89,187.17 L174.13,187.22 L174.37,187.26 L174.61,187.31 L174.86,187.35 L175.10,187.40 L175.34,187.44 L175.58,187.48 L175.82,187.52 L176.06,187.56 L176.30,187.60 L176.55,187.64 L176.79,187.67 L177.03,187.71 L177.27,187.74 L177.51,187.78 L177.75,187.81 L177.99,187.84 L178.24,187.87 L178.48,187.91 L178.72,187.93 L178.96,187.96 L179.20,187.99 L179.44,188.02 L179.69,188.05 L179.93,188.07 L180.17,188.10 L180.41,188.12 L180.65,188.15 L180.89,188.17 L181.13,188.20 L181.38,188.22 L181.62,188.24 L181.86,188.27 L182.10,188.29 L182.34,188.31 L182.58,188.33 L182.82,188.35 L183.07,188.37 L183.31,188.39 L183.55,188.41 L183.79,188.43 L184.03,188.44 L184.27,188.46 L184.52,188.48 L184.76,188.50 L185.00,188.51 L185.24,188.53 L185.48,188.55 L185.72,188.56 L185.96,188.58 L186.21,188.59 L186.45,188.61 L186.69,188.62 L186.93,188.64 L187.17,188.65 L187.41,188.67 L187.65,188.68 L187.90,188.69 L188.14,188.71 L188.38,188.72 L188.62,188.73 L188.86,188.75 L189.10,188.76 L189.35,188.77 L189.59,188.78 L189.83,188.79 L190.07,188.81 L190.31,188.82 L190.55,188.83 L190.79,188.84 L191.04,188.85 L191.28,188.86 L191.52,188.87 L191.76,188.88 L192.00,188.89 L192.24,188.90 L192.48,188.91 L192.73,188.92 L192.97,188.93 L193.21,188.94 L193.45,188.95 L193.69,188.96 L193.93,188.97 L194.18,188.97 L194.42,188.98 L194.66,188.99 L194.90,189.00 L195.14,189.01 L195.38,189.02 L195.62,189.02 L195.87,189.03 L196.11,189.04 L196.35,189.05 L196.59,189.05 L196.83,189.06 L197.07,189.07 L197.31,189.08 L197.56,189.08 L197.80,189.09 L198.04,189.10 L198.28,189.10 L198.52,189.11 L198.76,189.12 L199.01,189.12 L199.25,189.13 L199.49,189.13 L199.73,189.14 L199.97,189.15 L200.21,189.15 L200.45,189.16 L200.70,189.16 L200.94,189.17 L201.18,189.18 L201.42,189.18 L201.66,189.19 L201.90,189.19 L202.14,189.20 L202.39,189.20 L202.63,189.21 L202.87,189.21 L203.11,189.22 L203.35,189.22 L203.59,189.23 L203.84,189.23 L204.08,189.24 L204.32,189.24 L204.56,189.25 L204.80,189.25 L205.04,189.26 L205.28,189.26 L205.53,189.27 L205.77,189.27 L206.01,189.28 L206.25,189.28 L206.49,189.28 L206.73,189.29 L206.97,189.29 L207.22,189.30 L207.46,189.30 L207.70,189.30 L207.94,189.31 L208.18,189.31 L208.42,189.32 L208.67,189.32 L208.91,189.32 L209.15,189.33 L209.39,189.33 L209.63,189.34 L209.87,189.34 L210.11,189.34 L210.36,189.35 L210.60,189.35 L210.84,189.35 L211.08,189.36 L211.32,189.36 L211.56,189.36 L211.80,189.37 L212.05,189.37 L212.29,189.37 L212.53,189.38 L212.77,189.38 L213.01,189.38 L213.25,189.38 L213.50,189.39 L213.74,189.39 L213.98,189.39 L214.22,189.40 L214.46,189.40 L214.70,189.40 L214.94,189.41 L215.19,189.41 L215.43,189.41 L215.67,189.41 L215.91,189.42 L216.15,189.42 L216.39,189.42 L216.63,189.42 L216.88,189.43 L217.12,189.43 L217.36,189.43 L217.60,189.43 L217.84,189.44 L218.08,189.44 L218.33,189.44 L218.57,189.44 L218.81,189.45 L219.05,189.45 L219.29,189.45 L219.53,189.45 L219.77,189.46 L220.02,189.46 L220.26,189.46 L220.50,189.46 L220.74,189.47 L220.98,189.47 L221.22,189.47 L221.46,189.47 L221.71,189.47 L221.95,189.48 L222.19,189.48 L222.43,189.48 L222.67,189.48 L222.91,189.48 L223.16,189.49 L223.40,189.49 L223.64,189.49 L223.88,189.49 L224.12,189.49 L224.36,189.50 L224.60,189.50 L224.85,189.50 L225.09,189.50 L225.33,189.50 L225.57,189.51 L225.81,189.51 L226.05,189.51 L226.29,189.51 L226.54,189.51 L226.78,189.51 L227.02,189.52 L227.26,189.52 L227.50,189.52 L227.74,189.52 L227.99,189.52 L228.23,189.52 L228.47,189.53 L228.71,189.53 L228.95,189.53 L229.19,189.53 L229.43,189.53 L229.68,189.53 L229.92,189.54 L230.16,189.54" fill="none" stroke="#62bde6" stroke-width="1.0"/>
<path d="M134.04,191.52 L134.28,191.49 L134.52,191.46 L134.77,191.42 L135.01,191.39 L135.25,191.35 L135.49,191.31 L135.73,191.27 L135.97,191.22 L136.22,191.18 L136.46,191.13 L136.70,191.09 L136.94,191.03 L137.18,190.98 L137.42,190.93 L137.66,190.87 L137.91,190.81 L138.15,190.75 L138.39,190.68 L138.63,190.61 L138.87,190.54 L139.11,190.46 L139.35,190.38 L139.60,190.30 L139.84,190.21 L140.08,190.11 L140.32,190.02 L140.56,189.91 L140.80,189.80 L141.05,189.68 L141.29,189.56 L141.53,189.43 L141.77,189.29 L142.01,189.14 L142.25,188.99 L142.49,188.82 L142.74,188.64 L142.98,188.45 L143.22,188.25 L143.46,188.04 L143.70,187.80 L143.94,187.55 L144.18,187.29 L144.43,187.00 L144.67,186.69 L144.91,186.35 L145.15,185.99 L145.39,185.59 L145.63,185.17 L145.88,184.70 L146.12,184.19 L146.36,183.64 L146.60,183.03 L146.84,182.36 L147.08,181.63 L147.32,180.82 L147.57,179.92 L147.81,178.93 L148.05,177.83 L148.29,176.60 L148.53,175.23 L148.77,173.70 L149.01,171.98 L149.26,170.05 L149.50,167.88 L149.74,165.44 L149.98,162.69 L150.22,159.60 L150.46,156.15 L150.71,152.30 L150.95,148.05 L151.19,143.41 L151.43,138.44 L151.67,133.24 L151.91,128.00 L152.15,122.97 L152.40,118.49 L152.64,114.92 L152.88,112.60 L153.12,111.80 L153.36,112.60 L153.60,114.92 L153.84,118.49 L154.09,122.97 L154.33,128.00 L154.57,133.24 L154.81,138.44 L155.05,143.41 L155.29,148.05 L155.54,152.30 L155.78,156.15 L156.02,159.60 L156.26,162.69 L156.50,165.44 L156.74,167.88 L156.98,170.05 L157.23,171.98 L157.47,173.70 L157.71,175.23 L157.95,176.60 L158.19,177.83 L158.43,178.93 L158.67,179.92 L158.92,180.82 L159.16,181.63 L159.40,182.36 L159.64,183.03 L159.88,183.64 L160.12,184.19 L160.37,184.70 L160.61,185.17 L160.85,185.59 L161.09,185.99 L161.33,186.35 L161.57,186.69 L161.81,187.00 L162.06,187.29 L162.30,187.55 L162.54,187.80 L162.78,188.04 L163.02,188.25 L163.26,188.45 L163.50,188.64 L163.75,188.82 L163.99,188.99 L164.23,189.14 L164.47,189.29 L164.71,189.43 L164.95,189.56 L165.20,189.68 L165.44,189.80 L165.68,189.91 L165.92,190.02 L166.16,190.11 L166.40,190.21 L166.64,190.30 L166.89,190.38 L167.13,190.46 L167.37,190.54 L167.61,190.61 L167.85,190.68 L168.09,190.75 L168.33,190.81 L168.58,190.87 L168.82,190.93 L169.06,190.98 L169.30,191.03 L169.54,191.09 L169.78,191.13 L170.03,191.18 L170.27,191.22 L170.51,191.27 L170.75,191.31 L170.99,191.35 L171.23,191.39 L171.47,191.42 L171.72,191.46 L171.96,191.49 L172.20,191.52 L172.44,191.55 L172.68,191.58 L172.92,191.61 L173.16,191.64 L173.41,191.67 L173.65,191.69 L173.89,191.72 L174.13,191.74 L174.37,191.77 L174.61,191.79 L174.86,191.81 L175.10,191.83 L175.34,191.85 L175.58,191.87 L175.82,191.89 L176.06,191.91 L176.30,191.93 L176.55,191.95 L176.79,191.97 L177.03,191.98 L177.27,192.00 L177.51,192.01 L177.75,192.03 L177.99,192.04 L178.24,192.06 L178.48,192.07 L178.72,192.09 L178.96,192.10 L179.20,192.11 L179.44,192.12 L179.69,192.14 L179.93,192.15 L180.17,192.16 L180.41,192.17 L180.65,192.18 L180.89,192.19 L181.13,192.20 L181.38,192.21 L181.62,192.22 L181.86,192.23 L182.10,192.24 L182.34,192.25 L182.58,192.26 L182.82,192.27 L183.07,192.28 L183.31,192.28 L183.55,192.29 L183.79,192.30 L184.03,192.31 L184.27,192.32 L184.52,192.32 L184.76,192.33 L185.00,192.34 L185.24,192.34 L185.48,192.35 L185.72,192.36 L185.96,192.36 L186.21,192.37 L186.45,192.38 L186.69,192.38 L186.93,192.39 L187.17,192.39 L187.41,192.40 L187.65,192.41 L187.90,192.41 L188.14,192.42 L188.38,192.42 L188.62,192.43 L188.86,192.43 L189.10,192.44 L189.35,192.44 L189.59,192.45 L189.83,192.45 L190.07,192.46 L190.31,192.46 L190.55,192.46 L190.79,192.47 L191.04,192.47 L191.28,192.48 L191.52,192.48 L191.76,192.48 L192.00,192.49 L192.24,192.49 L192.48,192.50 L192.73,192.50 L192.97,192.50 L193.21,192.51 L193.45,192.51 L193.69,192.51 L193.93,192.52 L194.18,192.52 L194.42,192.52 L194.66,192.53 L194.90,192.53 L195.14,192.53 L195.38,192.54 L195.62,192.54 L195.87,192.54 L196.11,192.55 L196.35,192.55 L196.59,192.55 L196.83,192.55 L197.07,192.56 L197.31,192.56 L197.56,192.56 L197.80,192.56 L198.04,192.57 L198.28,192.57 L198.52,192.57 L198.76,192.57 L199.01,192.58 L199.25,192.58 L199.49,192.58 L199.73,192.58 L199.97,192.59 L200.21,192.59 L200.45,192.59 L200.70,192.59 L200.94,192.59 L201.18,192.60 L201.42,192.60 L201.66,192.60 L201.90,192.60 L202.14,192.60 L202.39,192.61 L202.63,192.61 L202.87,192.61 L203.11,192.61 L203.35,192.61 L203.59,192.61 L203.84,192.62 L204.08,192.62 L204.32,192.62 L204.56,192.62 L204.80,192.62 L205.04,192.63 L205.28,192.63 L205.53,192.63 L205.77,192.63 L206.01,192.63 L206.25,192.63 L206.49,192.63 L206.73,192.64 L206.97,192.64 L207.22,192.64 L207.46,192.64 L207.70,192.64 L207.94,192.64 L208.18,192.64 L208.42,192.65 L208.67,192.65 L208.91,192.65 L209.15,192.65 L209.39,192.65 L209.63,192.65 L209.87,192.65 L210.11,192.65 L210.36,192.66 L210.60,192.66 L210.84,192.66 L211.08,192.66 L211.32,192.66 L211.56,192.66 L211.80,192.66 L212.05,192.66 L212.29,192.67 L212.53,192.67 L212.77,192.67 L213.01,192.67 L213.25,192.67 L213.50,192.67 L213.74,192.67 L213.98,192.67 L214.22,192.67 L214.46,192.67 L214.70,192.68 L214.94,192.68 L215.19,192.68 L215.43,192.68 L215.67,192.68 L215.91,192.68 L216.15,192.68 L216.39,192.68 L216.63,192.68 L216.88,192.68 L217.12,192.68 L217.36,192.69 L217.60,192.69 L217.84,192.69 L218.08,192.69 L218.33,192.69 L218.57,192.69 L218.81,192.69 L219.05,192.69 L219.29,192.69 L219.53,192.69 L219.77,192.69 L220.02,192.69 L220.26,192.70 L220.50,192.70 L220.74,192.70 L220.98,192.70 L221.22,192.70 L221.46,192.70 L221.71,192.70 L221.95,192.70 L222.19,192.70 L222.43,192.70 L222.67,192.70 L222.91,192.70 L223.16,192.70 L223.40,192.70 L223.64,192.71 L223.88,192.71 L224.12,192.71 L224.36,192.71 L224.60,192.71 L224.85,192.71 L225.09,192.71 L225.33,192.71 L225.57,192.71 L225.81,192.71 L226.05,192.71 L226.29,192.71 L226.54,192.71 L226.78,192.71 L227.02,192.71 L227.26,192.71 L227.50,192.71 L227.74,192.72 L227.99,192.72 L228.23,192.72 L228.47,192.72 L228.71,192.72 L228.95,192.72 L229.19,192.72 L229.43,192.72 L229.68,192.72 L229.92,192.72 L230.16,192.72" fill="none" stroke="#8fcf6a" stroke-width="0.9"/>
<path d="M134.12,183.44 L134.44,183.12 L134.77,182.79 L135.09,182.44 L135.41,182.07 L135.73,181.68 L136.05,181.26 L136.38,180.82 L136.70,180.36 L137.02,179.87 L137.34,179.35 L137.66,178.80 L137.99,178.22 L138.31,177.62 L138.63,176.97 L138.95,176.30 L139.27,175.59 L139.60,174.85 L139.92,174.08 L140.24,173.28 L140.56,172.45 L140.88,171.60 L141.21,170.72 L141.53,169.83 L141.85,168.94 L142.17,168.04 L142.49,167.16 L142.82,166.30 L143.14,165.48 L143.46,164.70 L143.78,163.99 L144.10,163.36 L144.43,162.82 L144.75,162.38 L145.07,162.06 L145.39,161.87 L145.71,161.80 L146.04,161.87 L146.36,162.06 L146.68,162.38 L147.00,162.82 L147.32,163.36 L147.65,163.99 L147.97,164.70 L148.29,165.48 L148.61,166.30 L148.93,167.16 L149.26,168.04 L149.58,168.94 L149.90,169.83 L150.22,170.72 L150.54,171.60 L150.87,172.45 L151.19,173.28 L151.51,174.08 L151.83,174.85 L152.15,175.59 L152.48,176.30 L152.80,176.97 L153.12,177.62 L153.44,178.22 L153.76,178.80 L154.09,179.35 L154.41,179.87 L154.73,180.36 L155.05,180.82 L155.37,181.26 L155.70,181.68 L156.02,182.07 L156.34,182.44 L156.66,182.79 L156.98,183.12 L157.31,183.44 L157.63,183.73 L157.95,184.02 L158.27,184.28 L158.59,184.53 L158.92,184.77 L159.24,185.00 L159.56,185.22 L159.88,185.42 L160.20,185.61 L160.53,185.80 L160.85,185.97 L161.17,186.14 L161.49,186.30 L161.81,186.45 L162.14,186.60 L162.46,186.73 L162.78,186.86 L163.10,186.99 L163.42,187.11 L163.75,187.22 L164.07,187.33 L164.39,187.44 L164.71,187.54 L165.03,187.64 L165.36,187.73 L165.68,187.82 L166.00,187.90 L166.32,187.98 L166.64,188.06 L166.97,188.13 L167.29,188.21 L167.61,188.28 L167.93,188.34 L168.25,188.41 L168.58,188.47 L168.90,188.53 L169.22,188.58 L169.54,188.64 L169.86,188.69 L170.19,188.74 L170.51,188.79 L170.83,188.84 L171.15,188.89 L171.47,188.93 L171.80,188.97 L172.12,189.02 L172.44,189.06 L172.76,189.09 L173.08,189.13 L173.41,189.17 L173.73,189.20 L174.05,189.24 L174.37,189.27 L174.69,189.30 L175.02,189.33 L175.34,189.36 L175.66,189.39 L175.98,189.42 L176.30,189.45 L176.63,189.48 L176.95,189.50 L177.27,189.53 L177.59,189.55 L177.91,189.58 L178.24,189.60 L178.56,189.62 L178.88,189.64 L179.20,189.66 L179.52,189.68 L179.85,189.70 L180.17,189.72 L180.49,189.74 L180.81,189.76 L181.13,189.78 L181.46,189.80 L181.78,189.82 L182.10,189.83 L182.42,189.85 L182.74,189.86 L183.07,189.88 L183.39,189.89 L183.71,189.91 L184.03,189.92 L184.35,189.94 L184.68,189.95 L185.00,189.97 L185.32,189.98 L185.64,189.99 L185.96,190.00 L186.29,190.02 L186.61,190.03 L186.93,190.04 L187.25,190.05 L187.57,190.06 L187.90,190.07 L188.22,190.08 L188.54,190.09 L188.86,190.10 L189.18,190.11 L189.51,190.12 L189.83,190.13 L190.15,190.14 L190.47,190.15 L190.79,190.16 L191.12,190.17 L191.44,190.18 L191.76,190.19 L192.08,190.20 L192.40,190.20 L192.73,190.21 L193.05,190.22 L193.37,190.23 L193.69,190.24 L194.01,190.24 L194.34,190.25 L194.66,190.26 L194.98,190.26 L195.30,190.27 L195.62,190.28 L195.95,190.28 L196.27,190.29 L196.59,190.30 L196.91,190.30 L197.23,190.31 L197.56,190.31 L197.88,190.32 L198.20,190.33 L198.52,190.33 L198.84,190.34 L199.17,190.34 L199.49,190.35 L199.81,190.35 L200.13,190.36 L200.45,190.36 L200.78,190.37 L201.10,190.37 L201.42,190.38 L201.74,190.38 L202.06,190.39 L202.39,190.39 L202.71,190.40 L203.03,190.40 L203.35,190.41 L203.67,190.41 L204.00,190.41 L204.32,190.42 L204.64,190.42 L204.96,190.43 L205.28,190.43 L205.61,190.43 L205.93,190.44 L206.25,190.44 L206.57,190.45 L206.89,190.45 L207.22,190.45 L207.54,190.46 L207.86,190.46 L208.18,190.46 L208.50,190.47 L208.83,190.47 L209.15,190.47 L209.47,190.48 L209.79,190.48 L210.11,190.48 L210.44,190.49 L210.76,190.49 L211.08,190.49 L211.40,190.50 L211.72,190.50 L212.05,190.50 L212.37,190.50 L212.69,190.51 L213.01,190.51 L213.33,190.51 L213.66,190.52 L213.98,190.52 L214.30,190.52 L214.62,190.52 L214.94,190.53 L215.27,190.53 L215.59,190.53 L215.91,190.53 L216.23,190.54 L216.55,190.54 L216.88,190.54 L217.20,190.54 L217.52,190.55 L217.84,190.55 L218.16,190.55 L218.49,190.55 L218.81,190.55 L219.13,190.56 L219.45,190.56 L219.77,190.56 L220.10,190.56 L220.42,190.56 L220.74,190.57 L221.06,190.57 L221.38,190.57 L221.71,190.57 L222.03,190.57 L222.35,190.58 L222.67,190.58 L222.99,190.58 L223.32,190.58 L223.64,190.58 L223.96,190.59 L224.28,190.59 L224.60,190.59 L224.93,190.59 L225.25,190.59 L225.57,190.59 L225.89,190.60 L226.21,190.60 L226.54,190.60 L226.86,190.60 L227.18,190.60 L227.50,190.60 L227.82,190.60 L228.15,190.61 L228.47,190.61 L228.79,190.61 L229.11,190.61 L229.43,190.61 L229.76,190.61 L230.08,190.61" fill="none" stroke="#2c3f8c" stroke-width="0.9"/>
<path fill="#4d9fd6" opacity="0.9" d="M346.0 150.7h1.1v1.1h-1.1zM296.4 149.3h1.1v1.1h-1.1zM272.1 170.6h1.1v1.1h-1.1zM336.5 111.8h1.1v1.1h-1.1zM312.3 177.4h1.1v1.1h-1.1zM339.1 113.2h1.1v1.1h-1.1zM277.6 172.4h1.1v1.1h-1.1zM289.8 151.0h1.1v1.1h-1.1zM339.8 109.9h1.1v1.1h-1.1zM334.5 101.9h1.1v1.1h-1.1zM293.1 162.2h1.1v1.1h-1.1zM320.9 176.4h1.1v1.1h-1.1zM317.9 166.0h1.1v1.1h-1.1zM293.0 164.3h1.1v1.1h-1.1zM288.4 170.5h1.1v1.1h-1.1zM352.4 167.8h1.1v1.1h-1.1zM290.2 155.6h1.1v1.1h-1.1zM339.3 94.0h1.1v1.1h-1.1zM299.0 159.4h1.1v1.1h-1.1zM352.4 173.7h1.1v1.1h-1.1zM355.1 172.4h1.1v1.1h-1.1zM328.3 153.1h1.1v1.1h-1.1zM362.0 187.8h1.1v1.1h-1.1zM312.8 165.7h1.1v1.1h-1.1zM350.2 174.7h1.1v1.1h-1.1zM309.6 169.5h1.1v1.1h-1.1zM297.1 162.6h1.1v1.1h-1.1zM287.9 160.7h1.1v1.1h-1.1zM355.4 177.4h1.1v1.1h-1.1zM281.4 166.3h1.1v1.1h-1.1zM357.1 177.4h1.1v1.1h-1.1zM300.7 156.9h1.1v1.1h-1.1zM271.4 176.5h1.1v1.1h-1.1zM334.3 120.6h1.1v1.1h-1.1zM338.6 115.1h1.1v1.1h-1.1zM273.8 180.4h1.1v1.1h-1.1zM346.4 158.2h1.1v1.1h-1.1zM346.6 154.0h1.1v1.1h-1.1zM351.2 170.9h1.1v1.1h-1.1zM355.7 174.2h1.1v1.1h-1.1zM287.3 160.8h1.1v1.1h-1.1zM278.2 163.0h1.1v1.1h-1.1zM345.8 149.9h1.1v1.1h-1.1zM328.7 143.8h1.1v1.1h-1.1zM295.2 161.7h1.1v1.1h-1.1zM277.0 167.0h1.1v1.1h-1.1zM287.2 154.1h1.1v1.1h-1.1zM298.2 156.4h1.1v1.1h-1.1zM292.2 153.8h1.1v1.1h-1.1zM294.7 155.0h1.1v1.1h-1.1zM298.4 161.3h1.1v1.1h-1.1zM360.5 189.7h1.1v1.1h-1.1zM327.1 154.6h1.1v1.1h-1.1zM270.4 182.2h1.1v1.1h-1.1zM342.1 124.7h1.1v1.1h-1.1zM300.9 160.2h1.1v1.1h-1.1zM288.3 165.6h1.1v1.1h-1.1zM350.7 160.0h1.1v1.1h-1.1zM283.9 159.4h1.1v1.1h-1.1zM361.9 173.6h1.1v1.1h-1.1zM344.4 144.3h1.1v1.1h-1.1zM285.2 168.3h1.1v1.1h-1.1zM347.8 160.2h1.1v1.1h-1.1zM292.6 149.4h1.1v1.1h-1.1zM288.1 160.3h1.1v1.1h-1.1zM335.0 111.7h1.1v1.1h-1.1zM328.9 147.0h1.1v1.1h-1.1zM275.2 173.7h1.1v1.1h-1.1zM343.4 149.6h1.1v1.1h-1.1zM328.1 154.8h1.1v1.1h-1.1zM305.5 159.5h1.1v1.1h-1.1zM353.4 164.2h1.1v1.1h-1.1zM269.8 172.6h1.1v1.1h-1.1zM287.3 160.8h1.1v1.1h-1.1zM315.8 159.0h1.1v1.1h-1.1zM304.0 159.0h1.1v1.1h-1.1zM311.9 172.5h1.1v1.1h-1.1zM318.7 169.0h1.1v1.1h-1.1zM329.8 154.0h1.1v1.1h-1.1zM301.1 159.9h1.1v1.1h-1.1zM348.8 160.9h1.1v1.1h-1.1zM331.4 133.0h1.1v1.1h-1.1zM309.8 171.8h1.1v1.1h-1.1zM342.1 132.9h1.1v1.1h-1.1zM312.0 171.2h1.1v1.1h-1.1zM352.9 172.4h1.1v1.1h-1.1zM296.5 150.0h1.1v1.1h-1.1zM335.3 102.4h1.1v1.1h-1.1zM282.5 169.9h1.1v1.1h-1.1zM291.3 158.5h1.1v1.1h-1.1zM282.9 160.5h1.1v1.1h-1.1zM299.1 149.8h1.1v1.1h-1.1zM277.2 171.5h1.1v1.1h-1.1zM304.5 163.4h1.1v1.1h-1.1zM362.4 179.4h1.1v1.1h-1.1zM309.4 176.8h1.1v1.1h-1.1zM286.4 163.0h1.1v1.1h-1.1zM287.3 161.9h1.1v1.1h-1.1zM304.9 157.6h1.1v1.1h-1.1zM343.8 139.8h1.1v1.1h-1.1zM334.4 123.6h1.1v1.1h-1.1zM312.2 170.0h1.1v1.1h-1.1zM281.1 173.6h1.1v1.1h-1.1zM339.0 112.1h1.1v1.1h-1.1zM355.1 181.6h1.1v1.1h-1.1zM339.8 106.5h1.1v1.1h-1.1zM308.1 165.8h1.1v1.1h-1.1zM352.4 163.5h1.1v1.1h-1.1zM342.2 134.5h1.1v1.1h-1.1zM333.0 136.1h1.1v1.1h-1.1zM329.4 150.4h1.1v1.1h-1.1zM328.1 149.0h1.1v1.1h-1.1zM276.9 182.0h1.1v1.1h-1.1zM336.3 93.7h1.1v1.1h-1.1zM328.2 150.1h1.1v1.1h-1.1zM311.4 163.9h1.1v1.1h-1.1zM327.4 161.2h1.1v1.1h-1.1zM357.3 174.0h1.1v1.1h-1.1zM285.1 168.8h1.1v1.1h-1.1zM304.9 171.6h1.1v1.1h-1.1zM314.7 169.0h1.1v1.1h-1.1zM319.9 168.6h1.1v1.1h-1.1zM282.9 163.9h1.1v1.1h-1.1zM317.6 182.4h1.1v1.1h-1.1zM277.2 179.6h1.1v1.1h-1.1zM336.7 106.3h1.1v1.1h-1.1zM316.9 176.6h1.1v1.1h-1.1zM317.8 177.6h1.1v1.1h-1.1zM307.0 162.2h1.1v1.1h-1.1zM333.5 119.1h1.1v1.1h-1.1zM305.3 163.6h1.1v1.1h-1.1zM362.5 184.0h1.1v1.1h-1.1zM301.7 154.6h1.1v1.1h-1.1zM306.0 163.1h1.1v1.1h-1.1zM268.7 182.5h1.1v1.1h-1.1zM334.9 103.4h1.1v1.1h-1.1zM301.4 159.1h1.1v1.1h-1.1zM339.0 100.2h1.1v1.1h-1.1zM358.2 182.1h1.1v1.1h-1.1zM344.8 148.1h1.1v1.1h-1.1zM305.3 163.0h1.1v1.1h-1.1zM342.4 127.8h1.1v1.1h-1.1zM345.6 156.3h1.1v1.1h-1.1zM321.7 171.1h1.1v1.1h-1.1zM289.2 151.6h1.1v1.1h-1.1zM329.1 147.4h1.1v1.1h-1.1zM346.5 152.6h1.1v1.1h-1.1zM295.8 160.4h1.1v1.1h-1.1zM320.4 160.6h1.1v1.1h-1.1zM301.7 150.9h1.1v1.1h-1.1zM349.6 166.4h1.1v1.1h-1.1zM291.9 148.5h1.1v1.1h-1.1zM308.6 167.3h1.1v1.1h-1.1zM337.1 100.1h1.1v1.1h-1.1zM294.6 153.5h1.1v1.1h-1.1zM313.7 165.9h1.1v1.1h-1.1zM308.8 172.9h1.1v1.1h-1.1zM302.4 166.6h1.1v1.1h-1.1zM357.1 176.8h1.1v1.1h-1.1zM347.4 160.6h1.1v1.1h-1.1zM354.9 174.8h1.1v1.1h-1.1zM347.7 163.4h1.1v1.1h-1.1zM328.6 147.6h1.1v1.1h-1.1zM359.3 179.6h1.1v1.1h-1.1zM330.8 136.7h1.1v1.1h-1.1zM281.2 166.6h1.1v1.1h-1.1zM290.0 155.4h1.1v1.1h-1.1zM282.1 172.7h1.1v1.1h-1.1zM354.7 174.4h1.1v1.1h-1.1zM353.5 176.6h1.1v1.1h-1.1zM326.2 155.6h1.1v1.1h-1.1zM353.8 181.4h1.1v1.1h-1.1zM343.5 136.9h1.1v1.1h-1.1zM334.3 116.4h1.1v1.1h-1.1zM318.7 169.6h1.1v1.1h-1.1zM352.7 177.9h1.1v1.1h-1.1zM321.0 167.6h1.1v1.1h-1.1zM280.9 165.7h1.1v1.1h-1.1zM315.0 164.9h1.1v1.1h-1.1zM281.4 166.7h1.1v1.1h-1.1zM314.9 177.2h1.1v1.1h-1.1zM350.8 168.6h1.1v1.1h-1.1zM321.7 171.7h1.1v1.1h-1.1zM331.7 126.7h1.1v1.1h-1.1zM307.9 171.3h1.1v1.1h-1.1zM360.2 174.2h1.1v1.1h-1.1zM328.8 142.9h1.1v1.1h-1.1zM270.2 183.5h1.1v1.1h-1.1zM357.4 182.7h1.1v1.1h-1.1zM299.3 148.9h1.1v1.1h-1.1zM314.2 171.2h1.1v1.1h-1.1zM354.1 166.5h1.1v1.1h-1.1zM327.8 149.6h1.1v1.1h-1.1zM300.1 153.4h1.1v1.1h-1.1zM313.2 174.2h1.1v1.1h-1.1zM318.2 169.1h1.1v1.1h-1.1zM309.4 172.0h1.1v1.1h-1.1zM308.2 176.9h1.1v1.1h-1.1zM295.7 157.8h1.1v1.1h-1.1zM347.4 164.8h1.1v1.1h-1.1zM293.6 149.5h1.1v1.1h-1.1zM316.3 162.6h1.1v1.1h-1.1zM343.9 143.5h1.1v1.1h-1.1zM299.4 158.5h1.1v1.1h-1.1zM324.1 158.2h1.1v1.1h-1.1zM328.7 147.4h1.1v1.1h-1.1zM337.2 103.4h1.1v1.1h-1.1zM352.9 174.3h1.1v1.1h-1.1zM296.4 154.7h1.1v1.1h-1.1zM326.2 144.5h1.1v1.1h-1.1zM331.0 131.5h1.1v1.1h-1.1zM326.5 169.6h1.1v1.1h-1.1zM327.0 161.6h1.1v1.1h-1.1zM325.0 167.1h1.1v1.1h-1.1zM333.2 116.7h1.1v1.1h-1.1zM311.6 161.9h1.1v1.1h-1.1zM341.1 117.1h1.1v1.1h-1.1zM271.0 175.7h1.1v1.1h-1.1zM342.2 120.5h1.1v1.1h-1.1zM303.0 165.3h1.1v1.1h-1.1zM346.9 155.2h1.1v1.1h-1.1zM292.3 162.2h1.1v1.1h-1.1zM296.6 159.0h1.1v1.1h-1.1zM309.0 165.6h1.1v1.1h-1.1zM329.4 142.4h1.1v1.1h-1.1zM322.2 166.5h1.1v1.1h-1.1zM271.2 170.9h1.1v1.1h-1.1zM323.0 157.5h1.1v1.1h-1.1zM356.1 177.6h1.1v1.1h-1.1zM304.8 162.8h1.1v1.1h-1.1zM324.6 146.2h1.1v1.1h-1.1zM313.3 176.1h1.1v1.1h-1.1zM307.2 159.7h1.1v1.1h-1.1zM287.9 153.7h1.1v1.1h-1.1zM282.1 167.3h1.1v1.1h-1.1zM333.5 117.5h1.1v1.1h-1.1zM279.2 169.6h1.1v1.1h-1.1zM351.4 170.5h1.1v1.1h-1.1zM279.9 162.5h1.1v1.1h-1.1zM290.8 154.4h1.1v1.1h-1.1zM338.3 101.9h1.1v1.1h-1.1zM342.2 127.5h1.1v1.1h-1.1zM336.3 92.1h1.1v1.1h-1.1zM275.5 181.7h1.1v1.1h-1.1zM328.1 152.3h1.1v1.1h-1.1zM357.5 183.4h1.1v1.1h-1.1zM291.9 144.8h1.1v1.1h-1.1zM268.8 183.3h1.1v1.1h-1.1zM275.1 183.1h1.1v1.1h-1.1zM297.4 155.2h1.1v1.1h-1.1zM350.6 171.5h1.1v1.1h-1.1zM314.4 165.7h1.1v1.1h-1.1zM322.9 162.6h1.1v1.1h-1.1zM309.8 169.9h1.1v1.1h-1.1zM344.4 148.5h1.1v1.1h-1.1zM302.5 165.2h1.1v1.1h-1.1zM307.8 172.9h1.1v1.1h-1.1zM304.7 159.8h1.1v1.1h-1.1zM343.2 154.4h1.1v1.1h-1.1zM322.2 166.4h1.1v1.1h-1.1zM361.5 179.4h1.1v1.1h-1.1zM335.3 101.4h1.1v1.1h-1.1zM325.9 163.0h1.1v1.1h-1.1zM361.8 178.1h1.1v1.1h-1.1zM297.2 162.0h1.1v1.1h-1.1zM308.8 163.6h1.1v1.1h-1.1zM333.6 122.2h1.1v1.1h-1.1zM325.5 150.5h1.1v1.1h-1.1zM294.8 160.7h1.1v1.1h-1.1zM324.1 156.5h1.1v1.1h-1.1zM346.2 152.9h1.1v1.1h-1.1zM347.9 161.9h1.1v1.1h-1.1zM345.8 146.8h1.1v1.1h-1.1zM293.9 159.9h1.1v1.1h-1.1zM349.6 163.0h1.1v1.1h-1.1zM355.7 183.4h1.1v1.1h-1.1zM300.9 151.4h1.1v1.1h-1.1zM344.4 140.6h1.1v1.1h-1.1zM286.8 160.5h1.1v1.1h-1.1zM290.0 170.6h1.1v1.1h-1.1zM326.0 160.8h1.1v1.1h-1.1zM287.4 165.7h1.1v1.1h-1.1zM292.0 154.4h1.1v1.1h-1.1zM311.8 179.3h1.1v1.1h-1.1zM275.9 172.0h1.1v1.1h-1.1zM289.9 166.4h1.1v1.1h-1.1zM323.4 154.4h1.1v1.1h-1.1zM317.8 176.5h1.1v1.1h-1.1zM313.4 173.3h1.1v1.1h-1.1zM286.0 163.8h1.1v1.1h-1.1zM284.9 165.2h1.1v1.1h-1.1zM321.9 171.2h1.1v1.1h-1.1zM306.3 168.2h1.1v1.1h-1.1zM271.7 177.6h1.1v1.1h-1.1zM328.5 146.5h1.1v1.1h-1.1zM343.5 133.6h1.1v1.1h-1.1zM300.7 151.0h1.1v1.1h-1.1zM317.6 168.5h1.1v1.1h-1.1zM351.1 176.3h1.1v1.1h-1.1zM292.7 153.4h1.1v1.1h-1.1zM342.7 149.9h1.1v1.1h-1.1zM341.5 116.0h1.1v1.1h-1.1zM346.5 150.9h1.1v1.1h-1.1zM271.1 178.4h1.1v1.1h-1.1zM286.8 159.4h1.1v1.1h-1.1zM272.3 175.2h1.1v1.1h-1.1zM321.2 162.8h1.1v1.1h-1.1zM358.9 183.2h1.1v1.1h-1.1zM355.3 169.7h1.1v1.1h-1.1zM305.8 161.4h1.1v1.1h-1.1zM279.0 168.1h1.1v1.1h-1.1zM321.9 167.2h1.1v1.1h-1.1zM329.3 135.3h1.1v1.1h-1.1zM305.4 166.2h1.1v1.1h-1.1zM310.7 161.6h1.1v1.1h-1.1zM288.8 153.1h1.1v1.1h-1.1zM301.4 157.6h1.1v1.1h-1.1zM354.6 167.1h1.1v1.1h-1.1zM271.9 182.6h1.1v1.1h-1.1zM343.4 141.0h1.1v1.1h-1.1zM362.6 188.2h1.1v1.1h-1.1zM272.8 171.8h1.1v1.1h-1.1zM358.1 172.3h1.1v1.1h-1.1zM332.8 125.9h1.1v1.1h-1.1zM340.6 106.9h1.1v1.1h-1.1zM277.6 175.3h1.1v1.1h-1.1zM279.4 167.8h1.1v1.1h-1.1zM313.9 168.5h1.1v1.1h-1.1zM281.2 165.6h1.1v1.1h-1.1zM332.9 109.0h1.1v1.1h-1.1zM286.2 160.6h1.1v1.1h-1.1zM270.9 174.5h1.1v1.1h-1.1zM357.6 179.8h1.1v1.1h-1.1zM351.1 167.2h1.1v1.1h-1.1zM310.6 171.0h1.1v1.1h-1.1zM276.8 165.4h1.1v1.1h-1.1zM328.1 156.0h1.1v1.1h-1.1zM311.1 174.8h1.1v1.1h-1.1zM313.5 162.0h1.1v1.1h-1.1zM328.1 147.8h1.1v1.1h-1.1zM272.9 174.1h1.1v1.1h-1.1zM336.3 106.5h1.1v1.1h-1.1zM351.5 171.2h1.1v1.1h-1.1zM293.1 157.1h1.1v1.1h-1.1zM293.6 151.9h1.1v1.1h-1.1zM348.5 164.6h1.1v1.1h-1.1zM314.8 167.7h1.1v1.1h-1.1zM298.1 152.7h1.1v1.1h-1.1zM361.9 182.6h1.1v1.1h-1.1zM272.9 171.0h1.1v1.1h-1.1zM287.8 164.5h1.1v1.1h-1.1zM313.5 171.3h1.1v1.1h-1.1zM286.9 155.9h1.1v1.1h-1.1zM302.6 139.2h1.1v1.1h-1.1zM356.8 178.4h1.1v1.1h-1.1zM276.8 176.9h1.1v1.1h-1.1zM273.0 166.6h1.1v1.1h-1.1zM337.6 108.3h1.1v1.1h-1.1zM268.9 165.0h1.1v1.1h-1.1zM345.4 152.1h1.1v1.1h-1.1zM347.8 164.2h1.1v1.1h-1.1zM309.4 168.8h1.1v1.1h-1.1zM355.5 174.8h1.1v1.1h-1.1zM280.7 162.9h1.1v1.1h-1.1zM284.8 162.5h1.1v1.1h-1.1zM286.4 170.3h1.1v1.1h-1.1zM275.1 169.7h1.1v1.1h-1.1zM315.3 166.7h1.1v1.1h-1.1z"/>
<path d="M268.43,178.77 L268.92,178.70 L269.40,178.63 L269.88,178.54 L270.37,178.44 L270.85,178.32 L271.33,178.19 L271.81,178.04 L272.30,177.88 L272.78,177.69 L273.26,177.49 L273.75,177.26 L274.23,177.01 L274.71,176.73 L275.19,176.43 L275.68,176.11 L276.16,175.76 L276.64,175.38 L277.13,174.97 L277.61,174.54 L278.09,174.07 L278.58,173.58 L279.06,173.06 L279.54,172.51 L280.02,171.93 L280.51,171.32 L280.99,170.69 L281.47,170.04 L281.96,169.36 L282.44,168.66 L282.92,167.95 L283.41,167.21 L283.89,166.47 L284.37,165.71 L284.86,164.95 L285.34,164.19 L285.82,163.42 L286.30,162.66 L286.79,161.91 L287.27,161.17 L287.75,160.45 L288.24,159.75 L288.72,159.08 L289.20,158.43 L289.69,157.82 L290.17,157.24 L290.65,156.71 L291.13,156.22 L291.62,155.78 L292.10,155.39 L292.58,155.06 L293.07,154.78 L293.55,154.55 L294.03,154.39 L294.51,154.28 L295.00,154.23 L295.48,154.25 L295.96,154.32 L296.45,154.45 L296.93,154.63 L297.41,154.87 L297.90,155.16 L298.38,155.51 L298.86,155.89 L299.35,156.32 L299.83,156.80 L300.31,157.30 L300.79,157.84 L301.28,158.41 L301.76,159.00 L302.24,159.61 L302.73,160.23 L303.21,160.87 L303.69,161.51 L304.18,162.15 L304.66,162.79 L305.14,163.43 L305.62,164.05 L306.11,164.66 L306.59,165.26 L307.07,165.84 L307.56,166.40 L308.04,166.93 L308.52,167.44 L309.00,167.91 L309.49,168.36 L309.97,168.78 L310.45,169.16 L310.94,169.51 L311.42,169.83 L311.90,170.11 L312.39,170.35 L312.87,170.56 L313.35,170.74 L313.83,170.87 L314.32,170.97 L314.80,171.04 L315.28,171.06 L315.77,171.05 L316.25,171.00 L316.73,170.92 L317.22,170.80 L317.70,170.64 L318.18,170.44 L318.67,170.20 L319.15,169.91 L319.63,169.59 L320.11,169.22 L320.60,168.81 L321.08,168.34 L321.56,167.83 L322.05,167.26 L322.53,166.63 L323.01,165.94 L323.50,165.19 L323.98,164.36 L324.46,163.45 L324.94,162.46 L325.43,161.38 L325.91,160.19 L326.39,158.90 L326.88,157.49 L327.36,155.95 L327.84,154.28 L328.32,152.45 L328.81,150.47 L329.29,148.31 L329.77,145.97 L330.26,143.45 L330.74,140.73 L331.22,137.82 L331.71,134.72 L332.19,131.44 L332.67,128.01 L333.16,124.48 L333.64,120.88 L334.12,117.29 L334.60,113.81 L335.09,110.53 L335.57,107.57 L336.05,105.06 L336.54,103.11 L337.02,101.82 L337.50,101.27 L337.99,101.49 L338.47,102.47 L338.95,104.17 L339.43,106.50 L339.92,109.35 L340.40,112.61 L340.88,116.15 L341.37,119.86 L341.85,123.63 L342.33,127.40 L342.81,131.08 L343.30,134.63 L343.78,138.03 L344.26,141.24 L344.75,144.26 L345.23,147.09 L345.71,149.72 L346.20,152.17 L346.68,154.44 L347.16,156.54 L347.64,158.48 L348.13,160.28 L348.61,161.94 L349.09,163.48 L349.58,164.91 L350.06,166.23 L350.54,167.45 L351.03,168.59 L351.51,169.64 L351.99,170.62 L352.48,171.54 L352.96,172.39 L353.44,173.19 L353.92,173.93 L354.41,174.63 L354.89,175.28 L355.37,175.89 L355.86,176.47 L356.34,177.01 L356.82,177.52 L357.31,178.00 L357.79,178.46 L358.27,178.89 L358.75,179.30 L359.24,179.68 L359.72,180.05 L360.20,180.40 L360.69,180.73 L361.17,181.04 L361.65,181.35 L362.13,181.63 L362.62,181.91 L363.10,182.17 L363.58,182.42 L364.07,182.66" fill="none" stroke="#e08a6e" stroke-width="1.1"/>
<path fill="#4d9fd6" opacity="0.9" d="M396.9 129.8h1.1v1.1h-1.1zM438.8 176.8h1.1v1.1h-1.1zM448.8 187.6h1.1v1.1h-1.1zM376.8 161.3h1.1v1.1h-1.1zM441.2 190.5h1.1v1.1h-1.1zM375.8 155.9h1.1v1.1h-1.1zM448.8 189.6h1.1v1.1h-1.1zM454.0 177.1h1.1v1.1h-1.1zM418.1 165.0h1.1v1.1h-1.1zM416.5 174.6h1.1v1.1h-1.1zM454.7 185.6h1.1v1.1h-1.1zM450.8 181.8h1.1v1.1h-1.1zM405.9 160.7h1.1v1.1h-1.1zM427.9 176.7h1.1v1.1h-1.1zM420.3 178.7h1.1v1.1h-1.1zM382.1 143.6h1.1v1.1h-1.1zM401.5 154.4h1.1v1.1h-1.1zM443.0 188.8h1.1v1.1h-1.1zM376.4 149.0h1.1v1.1h-1.1zM418.2 186.5h1.1v1.1h-1.1zM420.0 184.4h1.1v1.1h-1.1zM372.4 168.8h1.1v1.1h-1.1zM463.9 185.4h1.1v1.1h-1.1zM380.4 143.6h1.1v1.1h-1.1zM394.6 118.5h1.1v1.1h-1.1zM379.8 151.9h1.1v1.1h-1.1zM438.0 183.0h1.1v1.1h-1.1zM428.4 180.2h1.1v1.1h-1.1zM426.1 188.4h1.1v1.1h-1.1zM380.4 149.6h1.1v1.1h-1.1zM454.4 185.5h1.1v1.1h-1.1zM382.3 141.7h1.1v1.1h-1.1zM418.1 181.2h1.1v1.1h-1.1zM382.2 140.0h1.1v1.1h-1.1zM409.6 164.4h1.1v1.1h-1.1zM453.6 180.2h1.1v1.1h-1.1zM384.7 139.1h1.1v1.1h-1.1zM386.3 123.2h1.1v1.1h-1.1zM450.2 180.4h1.1v1.1h-1.1zM411.1 173.3h1.1v1.1h-1.1zM451.6 189.9h1.1v1.1h-1.1zM461.4 186.5h1.1v1.1h-1.1zM445.5 186.3h1.1v1.1h-1.1zM402.8 152.7h1.1v1.1h-1.1zM412.5 162.5h1.1v1.1h-1.1zM458.6 186.6h1.1v1.1h-1.1zM449.2 183.8h1.1v1.1h-1.1zM420.4 179.5h1.1v1.1h-1.1zM463.0 182.4h1.1v1.1h-1.1zM411.2 173.1h1.1v1.1h-1.1zM431.6 186.1h1.1v1.1h-1.1zM377.1 152.2h1.1v1.1h-1.1zM412.3 173.6h1.1v1.1h-1.1zM383.9 131.1h1.1v1.1h-1.1zM464.1 184.0h1.1v1.1h-1.1zM448.6 177.0h1.1v1.1h-1.1zM373.8 173.7h1.1v1.1h-1.1zM432.4 182.9h1.1v1.1h-1.1zM396.9 120.5h1.1v1.1h-1.1zM422.8 172.6h1.1v1.1h-1.1zM394.7 125.1h1.1v1.1h-1.1zM420.7 190.2h1.1v1.1h-1.1zM398.2 132.1h1.1v1.1h-1.1zM400.0 149.5h1.1v1.1h-1.1zM427.9 183.1h1.1v1.1h-1.1zM462.8 189.6h1.1v1.1h-1.1zM415.5 175.5h1.1v1.1h-1.1zM422.0 177.2h1.1v1.1h-1.1zM383.1 132.1h1.1v1.1h-1.1zM398.8 147.6h1.1v1.1h-1.1zM394.0 111.1h1.1v1.1h-1.1zM378.9 165.7h1.1v1.1h-1.1zM429.4 184.2h1.1v1.1h-1.1zM425.5 182.3h1.1v1.1h-1.1zM439.1 186.2h1.1v1.1h-1.1zM415.0 182.0h1.1v1.1h-1.1zM415.8 177.5h1.1v1.1h-1.1zM400.4 149.0h1.1v1.1h-1.1zM420.0 174.0h1.1v1.1h-1.1zM407.5 167.3h1.1v1.1h-1.1zM404.5 161.5h1.1v1.1h-1.1zM453.7 184.7h1.1v1.1h-1.1zM417.9 169.8h1.1v1.1h-1.1zM398.0 132.0h1.1v1.1h-1.1zM445.0 184.6h1.1v1.1h-1.1zM385.8 103.6h1.1v1.1h-1.1zM413.0 168.4h1.1v1.1h-1.1zM376.4 165.2h1.1v1.1h-1.1zM441.5 180.4h1.1v1.1h-1.1zM381.0 142.7h1.1v1.1h-1.1zM441.8 171.4h1.1v1.1h-1.1zM385.4 126.5h1.1v1.1h-1.1zM435.7 178.9h1.1v1.1h-1.1zM430.0 176.0h1.1v1.1h-1.1zM420.5 186.1h1.1v1.1h-1.1zM441.8 184.2h1.1v1.1h-1.1zM416.4 185.0h1.1v1.1h-1.1zM446.3 187.3h1.1v1.1h-1.1zM382.7 154.1h1.1v1.1h-1.1zM454.6 176.9h1.1v1.1h-1.1zM427.0 180.5h1.1v1.1h-1.1zM418.5 170.2h1.1v1.1h-1.1zM410.8 172.6h1.1v1.1h-1.1zM446.2 179.7h1.1v1.1h-1.1zM407.1 171.9h1.1v1.1h-1.1zM414.1 182.7h1.1v1.1h-1.1zM398.7 139.1h1.1v1.1h-1.1zM408.2 173.1h1.1v1.1h-1.1zM401.6 155.4h1.1v1.1h-1.1zM446.5 181.1h1.1v1.1h-1.1zM413.3 178.7h1.1v1.1h-1.1zM388.2 108.3h1.1v1.1h-1.1zM426.0 177.6h1.1v1.1h-1.1zM426.6 170.7h1.1v1.1h-1.1zM401.7 145.6h1.1v1.1h-1.1zM451.9 178.5h1.1v1.1h-1.1zM390.2 123.3h1.1v1.1h-1.1zM411.6 171.1h1.1v1.1h-1.1zM375.0 163.5h1.1v1.1h-1.1zM445.2 184.1h1.1v1.1h-1.1zM422.5 172.6h1.1v1.1h-1.1zM420.4 178.1h1.1v1.1h-1.1zM436.6 186.7h1.1v1.1h-1.1zM427.9 177.9h1.1v1.1h-1.1zM404.4 151.6h1.1v1.1h-1.1zM421.2 181.0h1.1v1.1h-1.1zM380.0 154.5h1.1v1.1h-1.1zM424.7 176.1h1.1v1.1h-1.1zM425.9 170.6h1.1v1.1h-1.1zM417.5 186.1h1.1v1.1h-1.1zM413.0 186.4h1.1v1.1h-1.1zM403.6 174.1h1.1v1.1h-1.1zM421.7 177.4h1.1v1.1h-1.1zM401.2 155.7h1.1v1.1h-1.1zM465.0 183.2h1.1v1.1h-1.1zM381.1 152.8h1.1v1.1h-1.1zM456.9 188.8h1.1v1.1h-1.1zM456.2 187.9h1.1v1.1h-1.1zM398.5 138.7h1.1v1.1h-1.1zM419.9 181.2h1.1v1.1h-1.1zM388.1 107.4h1.1v1.1h-1.1zM431.3 185.7h1.1v1.1h-1.1zM431.9 177.0h1.1v1.1h-1.1zM446.5 183.1h1.1v1.1h-1.1zM400.1 148.1h1.1v1.1h-1.1zM399.9 147.6h1.1v1.1h-1.1zM389.4 110.3h1.1v1.1h-1.1zM418.5 181.1h1.1v1.1h-1.1zM432.9 183.6h1.1v1.1h-1.1zM421.8 171.8h1.1v1.1h-1.1zM410.2 170.3h1.1v1.1h-1.1zM382.2 133.1h1.1v1.1h-1.1zM380.8 136.4h1.1v1.1h-1.1zM380.1 144.9h1.1v1.1h-1.1zM450.0 179.6h1.1v1.1h-1.1zM429.7 180.9h1.1v1.1h-1.1zM371.7 170.5h1.1v1.1h-1.1zM444.9 187.8h1.1v1.1h-1.1zM404.6 152.2h1.1v1.1h-1.1zM386.8 114.1h1.1v1.1h-1.1zM457.8 183.3h1.1v1.1h-1.1zM426.7 183.9h1.1v1.1h-1.1zM407.7 161.5h1.1v1.1h-1.1zM375.7 155.1h1.1v1.1h-1.1zM463.1 189.9h1.1v1.1h-1.1zM412.9 176.1h1.1v1.1h-1.1zM374.7 166.8h1.1v1.1h-1.1zM460.4 183.1h1.1v1.1h-1.1zM457.3 188.8h1.1v1.1h-1.1zM449.3 187.0h1.1v1.1h-1.1zM463.2 179.6h1.1v1.1h-1.1zM418.3 173.1h1.1v1.1h-1.1zM408.1 168.8h1.1v1.1h-1.1zM439.9 182.8h1.1v1.1h-1.1zM455.0 181.1h1.1v1.1h-1.1zM417.2 175.2h1.1v1.1h-1.1zM387.2 118.2h1.1v1.1h-1.1zM405.1 155.7h1.1v1.1h-1.1zM398.5 122.6h1.1v1.1h-1.1zM424.7 175.1h1.1v1.1h-1.1zM407.7 161.9h1.1v1.1h-1.1zM409.4 166.4h1.1v1.1h-1.1zM450.2 183.9h1.1v1.1h-1.1zM404.4 160.6h1.1v1.1h-1.1zM397.8 132.8h1.1v1.1h-1.1zM393.4 98.4h1.1v1.1h-1.1zM403.4 156.3h1.1v1.1h-1.1zM385.5 122.6h1.1v1.1h-1.1zM396.5 134.0h1.1v1.1h-1.1zM451.1 181.3h1.1v1.1h-1.1zM451.2 181.1h1.1v1.1h-1.1zM448.2 182.2h1.1v1.1h-1.1zM440.2 179.7h1.1v1.1h-1.1zM406.9 161.5h1.1v1.1h-1.1zM462.3 186.6h1.1v1.1h-1.1zM419.2 176.6h1.1v1.1h-1.1zM383.1 127.0h1.1v1.1h-1.1zM438.7 184.1h1.1v1.1h-1.1zM427.2 169.7h1.1v1.1h-1.1zM406.0 163.8h1.1v1.1h-1.1zM391.0 89.2h1.1v1.1h-1.1zM454.7 181.0h1.1v1.1h-1.1zM422.9 174.8h1.1v1.1h-1.1zM396.6 129.8h1.1v1.1h-1.1zM434.0 187.5h1.1v1.1h-1.1zM425.3 182.1h1.1v1.1h-1.1zM378.8 147.4h1.1v1.1h-1.1zM387.6 104.7h1.1v1.1h-1.1zM434.5 186.2h1.1v1.1h-1.1zM381.0 152.0h1.1v1.1h-1.1zM418.8 179.1h1.1v1.1h-1.1zM399.1 138.1h1.1v1.1h-1.1zM392.3 103.4h1.1v1.1h-1.1zM382.6 139.3h1.1v1.1h-1.1zM409.4 173.9h1.1v1.1h-1.1zM458.3 183.9h1.1v1.1h-1.1zM383.2 135.3h1.1v1.1h-1.1zM436.1 181.7h1.1v1.1h-1.1zM434.6 185.8h1.1v1.1h-1.1zM434.1 178.4h1.1v1.1h-1.1zM438.0 183.2h1.1v1.1h-1.1zM404.5 148.5h1.1v1.1h-1.1zM431.2 180.8h1.1v1.1h-1.1zM458.6 183.3h1.1v1.1h-1.1zM441.4 184.2h1.1v1.1h-1.1zM374.3 166.1h1.1v1.1h-1.1zM386.1 115.5h1.1v1.1h-1.1zM407.2 161.2h1.1v1.1h-1.1zM374.2 167.7h1.1v1.1h-1.1zM387.8 95.8h1.1v1.1h-1.1zM395.1 127.8h1.1v1.1h-1.1zM412.5 174.7h1.1v1.1h-1.1zM451.0 184.3h1.1v1.1h-1.1zM374.6 168.8h1.1v1.1h-1.1zM453.0 186.3h1.1v1.1h-1.1zM394.1 117.6h1.1v1.1h-1.1zM381.2 143.4h1.1v1.1h-1.1zM458.8 188.8h1.1v1.1h-1.1zM442.9 177.5h1.1v1.1h-1.1zM408.5 163.3h1.1v1.1h-1.1zM442.7 182.1h1.1v1.1h-1.1zM379.1 157.4h1.1v1.1h-1.1zM437.3 177.8h1.1v1.1h-1.1zM441.8 180.5h1.1v1.1h-1.1zM414.2 181.0h1.1v1.1h-1.1zM375.7 163.8h1.1v1.1h-1.1zM419.9 183.2h1.1v1.1h-1.1zM460.1 179.9h1.1v1.1h-1.1zM374.7 156.1h1.1v1.1h-1.1zM438.3 182.0h1.1v1.1h-1.1zM423.2 183.2h1.1v1.1h-1.1zM464.1 189.8h1.1v1.1h-1.1zM394.6 127.4h1.1v1.1h-1.1zM376.2 164.7h1.1v1.1h-1.1zM389.9 94.3h1.1v1.1h-1.1zM400.4 142.0h1.1v1.1h-1.1zM435.2 176.8h1.1v1.1h-1.1zM393.4 111.6h1.1v1.1h-1.1zM413.4 166.7h1.1v1.1h-1.1zM460.9 188.1h1.1v1.1h-1.1zM455.9 182.0h1.1v1.1h-1.1zM384.2 136.5h1.1v1.1h-1.1zM449.2 186.5h1.1v1.1h-1.1zM423.4 179.2h1.1v1.1h-1.1zM434.8 185.8h1.1v1.1h-1.1zM428.3 189.6h1.1v1.1h-1.1zM450.7 182.9h1.1v1.1h-1.1zM381.5 145.1h1.1v1.1h-1.1zM390.4 93.0h1.1v1.1h-1.1zM376.3 161.2h1.1v1.1h-1.1zM438.2 180.1h1.1v1.1h-1.1zM413.7 169.9h1.1v1.1h-1.1zM415.7 172.1h1.1v1.1h-1.1zM405.5 161.9h1.1v1.1h-1.1zM371.5 166.7h1.1v1.1h-1.1zM439.7 185.7h1.1v1.1h-1.1zM465.1 188.1h1.1v1.1h-1.1zM417.7 177.6h1.1v1.1h-1.1zM412.4 169.9h1.1v1.1h-1.1zM459.3 189.8h1.1v1.1h-1.1zM433.5 182.5h1.1v1.1h-1.1zM383.8 125.3h1.1v1.1h-1.1zM373.1 164.6h1.1v1.1h-1.1zM399.1 157.7h1.1v1.1h-1.1zM388.4 118.0h1.1v1.1h-1.1zM386.7 110.5h1.1v1.1h-1.1zM402.0 149.4h1.1v1.1h-1.1zM401.4 140.7h1.1v1.1h-1.1zM406.0 169.7h1.1v1.1h-1.1zM450.8 186.4h1.1v1.1h-1.1zM393.6 101.5h1.1v1.1h-1.1zM431.1 180.2h1.1v1.1h-1.1zM449.6 187.8h1.1v1.1h-1.1zM418.2 180.0h1.1v1.1h-1.1zM399.4 145.0h1.1v1.1h-1.1zM426.6 173.6h1.1v1.1h-1.1zM386.3 110.3h1.1v1.1h-1.1zM413.3 170.9h1.1v1.1h-1.1zM374.3 164.8h1.1v1.1h-1.1zM412.9 169.7h1.1v1.1h-1.1zM451.7 179.7h1.1v1.1h-1.1zM411.5 179.6h1.1v1.1h-1.1zM397.8 142.6h1.1v1.1h-1.1zM411.1 177.1h1.1v1.1h-1.1zM403.2 166.7h1.1v1.1h-1.1zM450.2 182.1h1.1v1.1h-1.1zM457.8 183.4h1.1v1.1h-1.1zM413.3 169.3h1.1v1.1h-1.1zM424.9 182.0h1.1v1.1h-1.1zM378.7 150.3h1.1v1.1h-1.1zM401.7 171.2h1.1v1.1h-1.1zM458.2 182.3h1.1v1.1h-1.1zM454.0 172.8h1.1v1.1h-1.1zM430.3 183.8h1.1v1.1h-1.1zM448.8 177.8h1.1v1.1h-1.1zM429.3 178.5h1.1v1.1h-1.1zM399.1 160.4h1.1v1.1h-1.1zM416.9 181.9h1.1v1.1h-1.1zM433.0 183.7h1.1v1.1h-1.1zM456.0 181.1h1.1v1.1h-1.1zM373.1 162.9h1.1v1.1h-1.1zM413.7 165.8h1.1v1.1h-1.1zM378.7 157.4h1.1v1.1h-1.1zM426.6 184.8h1.1v1.1h-1.1zM410.7 178.0h1.1v1.1h-1.1zM408.7 169.8h1.1v1.1h-1.1zM381.5 136.9h1.1v1.1h-1.1zM423.4 169.4h1.1v1.1h-1.1zM381.3 140.6h1.1v1.1h-1.1zM379.6 154.9h1.1v1.1h-1.1zM421.7 178.8h1.1v1.1h-1.1zM424.0 173.6h1.1v1.1h-1.1zM392.3 111.0h1.1v1.1h-1.1zM420.0 179.0h1.1v1.1h-1.1zM427.3 176.2h1.1v1.1h-1.1zM377.5 153.9h1.1v1.1h-1.1zM412.9 168.3h1.1v1.1h-1.1zM439.5 188.3h1.1v1.1h-1.1zM443.6 172.7h1.1v1.1h-1.1zM440.2 173.6h1.1v1.1h-1.1zM380.3 144.9h1.1v1.1h-1.1zM387.0 120.8h1.1v1.1h-1.1zM383.7 137.8h1.1v1.1h-1.1zM445.4 180.9h1.1v1.1h-1.1zM406.4 163.1h1.1v1.1h-1.1zM371.9 171.5h1.1v1.1h-1.1zM399.4 148.0h1.1v1.1h-1.1zM430.5 176.9h1.1v1.1h-1.1zM454.6 189.5h1.1v1.1h-1.1zM386.7 114.7h1.1v1.1h-1.1zM444.2 188.8h1.1v1.1h-1.1zM436.2 181.8h1.1v1.1h-1.1zM406.5 167.6h1.1v1.1h-1.1zM441.7 176.3h1.1v1.1h-1.1zM374.7 166.9h1.1v1.1h-1.1zM428.8 176.0h1.1v1.1h-1.1zM448.0 181.0h1.1v1.1h-1.1zM381.4 134.1h1.1v1.1h-1.1zM395.0 127.7h1.1v1.1h-1.1z"/>
<path d="M371.00,170.56 L371.48,169.97 L371.97,169.35 L372.45,168.70 L372.93,168.02 L373.42,167.29 L373.90,166.53 L374.38,165.73 L374.86,164.88 L375.35,163.99 L375.83,163.04 L376.31,162.03 L376.80,160.97 L377.28,159.83 L377.76,158.63 L378.25,157.35 L378.73,155.99 L379.21,154.54 L379.69,153.00 L380.18,151.36 L380.66,149.61 L381.14,147.75 L381.63,145.77 L382.11,143.67 L382.59,141.44 L383.08,139.08 L383.56,136.60 L384.04,133.99 L384.52,131.26 L385.01,128.44 L385.49,125.54 L385.97,122.60 L386.46,119.64 L386.94,116.72 L387.42,113.90 L387.91,111.24 L388.39,108.81 L388.87,106.70 L389.35,104.96 L389.84,103.67 L390.32,102.87 L390.80,102.60 L391.29,102.87 L391.77,103.67 L392.25,104.96 L392.74,106.70 L393.22,108.81 L393.70,111.24 L394.18,113.90 L394.67,116.72 L395.15,119.64 L395.63,122.60 L396.12,125.54 L396.60,128.44 L397.08,131.26 L397.56,133.99 L398.05,136.60 L398.53,139.08 L399.01,141.44 L399.50,143.67 L399.98,145.77 L400.46,147.75 L400.95,149.61 L401.43,151.36 L401.91,153.00 L402.40,154.54 L402.88,155.99 L403.36,157.35 L403.84,158.63 L404.33,159.83 L404.81,160.97 L405.29,162.03 L405.78,163.04 L406.26,163.99 L406.74,164.88 L407.23,165.73 L407.71,166.53 L408.19,167.29 L408.67,168.02 L409.16,168.70 L409.64,169.35 L410.12,169.97 L410.61,170.56 L411.09,171.13 L411.57,171.66 L412.06,172.17 L412.54,172.66 L413.02,173.13 L413.50,173.58 L413.99,174.01 L414.47,174.42 L414.95,174.81 L415.44,175.19 L415.92,175.55 L416.40,175.90 L416.88,176.24 L417.37,176.56 L417.85,176.87 L418.33,177.17 L418.82,177.46 L419.30,177.74 L419.78,178.00 L420.27,178.26 L420.75,178.51 L421.23,178.75 L421.72,178.98 L422.20,179.21 L422.68,179.42 L423.16,179.63 L423.65,179.84 L424.13,180.03 L424.61,180.22 L425.10,180.41 L425.58,180.58 L426.06,180.76 L426.55,180.93 L427.03,181.09 L427.51,181.24 L427.99,181.40 L428.48,181.55 L428.96,181.69 L429.44,181.83 L429.93,181.97 L430.41,182.10 L430.89,182.23 L431.38,182.35 L431.86,182.47 L432.34,182.59 L432.82,182.70 L433.31,182.81 L433.79,182.92 L434.27,183.03 L434.76,183.13 L435.24,183.23 L435.72,183.33 L436.21,183.42 L436.69,183.51 L437.17,183.60 L437.65,183.69 L438.14,183.78 L438.62,183.86 L439.10,183.94 L439.59,184.02 L440.07,184.10 L440.55,184.17 L441.04,184.25 L441.52,184.32 L442.00,184.39 L442.48,184.46 L442.97,184.53 L443.45,184.59 L443.93,184.66 L444.42,184.72 L444.90,184.78 L445.38,184.84 L445.87,184.90 L446.35,184.95 L446.83,185.01 L447.31,185.06 L447.80,185.12 L448.28,185.17 L448.76,185.22 L449.25,185.27 L449.73,185.32 L450.21,185.37 L450.69,185.41 L451.18,185.46 L451.66,185.50 L452.14,185.55 L452.63,185.59 L453.11,185.63 L453.59,185.67 L454.08,185.72 L454.56,185.75 L455.04,185.79 L455.53,185.83 L456.01,185.87 L456.49,185.91 L456.97,185.94 L457.46,185.98 L457.94,186.01 L458.42,186.05 L458.91,186.08 L459.39,186.11 L459.87,186.14 L460.36,186.17 L460.84,186.21 L461.32,186.24 L461.80,186.26 L462.29,186.29 L462.77,186.32 L463.25,186.35 L463.74,186.38 L464.22,186.41 L464.70,186.43 L465.19,186.46 L465.67,186.48 L466.15,186.51 L466.63,186.53 L467.12,186.56 L467.60,186.58" fill="none" stroke="#e08a6e" stroke-width="1.1"/>
<defs><filter id="b1" x="-50%" y="-50%" width="200%" height="200%"><feGaussianBlur stdDeviation="2.2"/></filter><filter id="b2" x="-50%" y="-50%" width="200%" height="200%"><feGaussianBlur stdDeviation="4"/></filter><filter id="b3" x="-50%" y="-50%" width="200%" height="200%"><feGaussianBlur stdDeviation="7"/></filter></defs>
<clipPath id="c0"><rect x="32.00" y="214.40" width="96.40" height="63.80"/></clipPath>
<clipPath id="c1"><rect x="133.90" y="214.10" width="96.40" height="64.10"/></clipPath>
<clipPath id="c2"><rect x="268.10" y="213.80" width="96.30" height="63.80"/></clipPath>
<clipPath id="c3"><rect x="371.00" y="213.40" width="96.60" height="64.00"/></clipPath>
<defs><linearGradient id="bgA" x1="0" y1="214" x2="0" y2="278" gradientUnits="userSpaceOnUse"><stop offset="0" stop-color="#f1f1fd"/><stop offset="1" stop-color="#e3e3f9"/></linearGradient><linearGradient id="bgB" x1="0" y1="214" x2="0" y2="278" gradientUnits="userSpaceOnUse"><stop offset="0" stop-color="#f6f6fe"/><stop offset="1" stop-color="#eeeefc"/></linearGradient><linearGradient id="bgC" x1="0" y1="214" x2="0" y2="278" gradientUnits="userSpaceOnUse"><stop offset="0" stop-color="#e8e8fb"/><stop offset="1" stop-color="#dcdcf7"/></linearGradient><linearGradient id="bandg" x1="0" y1="212" x2="0" y2="244" gradientUnits="userSpaceOnUse"><stop offset="0" stop-color="#b8b8f8"/><stop offset="1" stop-color="#4040ee"/></linearGradient></defs>
<filter id="sm" x="-5%" y="-5%" width="110%" height="110%"><feGaussianBlur stdDeviation="0.9"/></filter>
<g clip-path="url(#c0)"><g filter="url(#sm)"><path fill="#fafaff" d="M124.0 210.4h10v2h-10zM124.0 212.4h10v2h-10zM124.0 214.4h10v2h-10zM126.0 216.4h8v2h-8zM128.0 218.4h6v2h-6z"/><path fill="#f6f6fe" d="M28.0 210.4h10v2h-10zM72.0 210.4h18v2h-18zM118.0 210.4h6v2h-6zM28.0 212.4h10v2h-10zM74.0 212.4h14v2h-14zM118.0 212.4h6v2h-6zM28.0 214.4h8v2h-8zM76.0 214.4h12v2h-12zM118.0 214.4h6v2h-6zM78.0 216.4h6v2h-6zM116.0 216.4h10v2h-10zM80.0 218.4h2v2h-2zM116.0 218.4h12v2h-12zM116.0 220.4h18v2h-18zM116.0 222.4h18v2h-18zM116.0 224.4h18v2h-18zM116.0 226.4h18v2h-18zM116.0 228.4h18v2h-18zM118.0 230.4h16v2h-16zM118.0 232.4h16v2h-16zM122.0 234.4h12v2h-12zM126.0 236.4h8v2h-8z"/><path fill="#f1f1fe" d="M38.0 210.4h6v2h-6zM68.0 210.4h4v2h-4zM90.0 210.4h4v2h-4zM116.0 210.4h2v2h-2zM38.0 212.4h6v2h-6zM70.0 212.4h4v2h-4zM88.0 212.4h4v2h-4zM114.0 212.4h4v2h-4zM36.0 214.4h8v2h-8zM72.0 214.4h4v2h-4zM88.0 214.4h4v2h-4zM114.0 214.4h4v2h-4zM28.0 216.4h18v2h-18zM72.0 216.4h6v2h-6zM84.0 216.4h6v2h-6zM114.0 216.4h2v2h-2zM28.0 218.4h18v2h-18zM74.0 218.4h6v2h-6zM82.0 218.4h6v2h-6zM114.0 218.4h2v2h-2zM28.0 220.4h18v2h-18zM76.0 220.4h10v2h-10zM112.0 220.4h4v2h-4zM28.0 222.4h18v2h-18zM78.0 222.4h6v2h-6zM112.0 222.4h4v2h-4zM28.0 224.4h18v2h-18zM112.0 224.4h4v2h-4zM28.0 226.4h18v2h-18zM110.0 226.4h6v2h-6zM28.0 228.4h18v2h-18zM110.0 228.4h6v2h-6zM28.0 230.4h18v2h-18zM110.0 230.4h8v2h-8zM28.0 232.4h16v2h-16zM110.0 232.4h8v2h-8zM34.0 234.4h6v2h-6zM110.0 234.4h12v2h-12zM112.0 236.4h14v2h-14zM112.0 238.4h22v2h-22zM112.0 240.4h22v2h-22zM114.0 242.4h20v2h-20zM114.0 244.4h20v2h-20zM114.0 246.4h20v2h-20zM116.0 248.4h18v2h-18zM116.0 250.4h18v2h-18zM118.0 252.4h16v2h-16zM124.0 254.4h10v2h-10zM132.0 256.4h2v2h-2z"/><path fill="#ececfd" d="M44.0 210.4h2v2h-2zM66.0 210.4h2v2h-2zM94.0 210.4h2v2h-2zM114.0 210.4h2v2h-2zM44.0 212.4h4v2h-4zM68.0 212.4h2v2h-2zM92.0 212.4h2v2h-2zM44.0 214.4h4v2h-4zM68.0 214.4h4v2h-4zM92.0 214.4h2v2h-2zM112.0 214.4h2v2h-2zM46.0 216.4h2v2h-2zM70.0 216.4h2v2h-2zM90.0 216.4h2v2h-2zM112.0 216.4h2v2h-2zM46.0 218.4h4v2h-4zM72.0 218.4h2v2h-2zM88.0 218.4h2v2h-2zM112.0 218.4h2v2h-2zM46.0 220.4h4v2h-4zM72.0 220.4h4v2h-4zM86.0 220.4h2v2h-2zM110.0 220.4h2v2h-2zM46.0 222.4h4v2h-4zM74.0 222.4h4v2h-4zM84.0 222.4h4v2h-4zM110.0 222.4h2v2h-2zM46.0 224.4h4v2h-4zM78.0 224.4h6v2h-6zM110.0 224.4h2v2h-2zM46.0 226.4h6v2h-6zM108.0 226.4h2v2h-2zM46.0 228.4h6v2h-6zM108.0 228.4h2v2h-2zM46.0 230.4h6v2h-6zM108.0 230.4h2v2h-2zM44.0 232.4h8v2h-8zM108.0 232.4h2v2h-2zM28.0 234.4h6v2h-6zM40.0 234.4h12v2h-12zM106.0 234.4h4v2h-4zM28.0 236.4h24v2h-24zM108.0 236.4h4v2h-4zM28.0 238.4h22v2h-22zM108.0 238.4h4v2h-4zM28.0 240.4h22v2h-22zM108.0 240.4h4v2h-4zM28.0 242.4h22v2h-22zM108.0 242.4h6v2h-6zM28.0 244.4h20v2h-20zM108.0 244.4h6v2h-6zM28.0 246.4h20v2h-20zM108.0 246.4h6v2h-6zM28.0 248.4h20v2h-20zM106.0 248.4h10v2h-10zM28.0 250.4h20v2h-20zM106.0 250.4h10v2h-10zM32.0 252.4h16v2h-16zM104.0 252.4h14v2h-14zM102.0 254.4h22v2h-22zM100.0 256.4h32v2h-32zM100.0 258.4h34v2h-34zM98.0 260.4h36v2h-36zM98.0 262.4h36v2h-36zM98.0 264.4h36v2h-36zM100.0 266.4h34v2h-34zM104.0 268.4h30v2h-30zM114.0 270.4h20v2h-20zM122.0 272.4h12v2h-12zM132.0 274.4h2v2h-2z"/><path fill="#e7e7fd" d="M46.0 210.4h2v2h-2zM112.0 210.4h2v2h-2zM66.0 212.4h2v2h-2zM94.0 212.4h2v2h-2zM112.0 212.4h2v2h-2zM48.0 214.4h2v2h-2zM48.0 216.4h2v2h-2zM68.0 216.4h2v2h-2zM92.0 216.4h2v2h-2zM110.0 216.4h2v2h-2zM70.0 218.4h2v2h-2zM90.0 218.4h2v2h-2zM110.0 218.4h2v2h-2zM50.0 220.4h2v2h-2zM88.0 220.4h2v2h-2zM50.0 222.4h2v2h-2zM108.0 222.4h2v2h-2zM50.0 224.4h2v2h-2zM76.0 224.4h2v2h-2zM84.0 224.4h2v2h-2zM108.0 224.4h2v2h-2zM52.0 226.4h2v2h-2zM78.0 226.4h6v2h-6zM52.0 228.4h2v2h-2zM106.0 228.4h2v2h-2zM52.0 230.4h2v2h-2zM106.0 230.4h2v2h-2zM52.0 232.4h4v2h-4zM106.0 232.4h2v2h-2zM52.0 234.4h4v2h-4zM104.0 234.4h2v2h-2zM52.0 236.4h2v2h-2zM104.0 236.4h4v2h-4zM50.0 238.4h4v2h-4zM104.0 238.4h4v2h-4zM50.0 240.4h4v2h-4zM106.0 240.4h2v2h-2zM50.0 242.4h4v2h-4zM106.0 242.4h2v2h-2zM48.0 244.4h6v2h-6zM104.0 244.4h4v2h-4zM48.0 246.4h6v2h-6zM104.0 246.4h4v2h-4zM48.0 248.4h8v2h-8zM104.0 248.4h2v2h-2zM48.0 250.4h10v2h-10zM102.0 250.4h4v2h-4zM28.0 252.4h4v2h-4zM48.0 252.4h12v2h-12zM100.0 252.4h4v2h-4zM28.0 254.4h34v2h-34zM98.0 254.4h4v2h-4zM28.0 256.4h36v2h-36zM96.0 256.4h4v2h-4zM28.0 258.4h38v2h-38zM94.0 258.4h6v2h-6zM28.0 260.4h38v2h-38zM92.0 260.4h6v2h-6zM28.0 262.4h40v2h-40zM92.0 262.4h6v2h-6zM28.0 264.4h40v2h-40zM92.0 264.4h6v2h-6zM28.0 266.4h40v2h-40zM90.0 266.4h10v2h-10zM28.0 268.4h42v2h-42zM90.0 268.4h14v2h-14zM32.0 270.4h38v2h-38zM88.0 270.4h26v2h-26zM40.0 272.4h30v2h-30zM88.0 272.4h34v2h-34zM50.0 274.4h22v2h-22zM86.0 274.4h46v2h-46zM58.0 276.4h12v2h-12zM84.0 276.4h50v2h-50zM84.0 278.4h50v2h-50zM86.0 280.4h48v2h-48z"/><path fill="#e3e3fd" d="M64.0 210.4h2v2h-2zM96.0 210.4h2v2h-2zM48.0 212.4h2v2h-2zM66.0 214.4h2v2h-2zM94.0 214.4h2v2h-2zM110.0 214.4h2v2h-2zM50.0 216.4h2v2h-2zM50.0 218.4h2v2h-2zM68.0 218.4h2v2h-2zM70.0 220.4h2v2h-2zM90.0 220.4h2v2h-2zM108.0 220.4h2v2h-2zM52.0 222.4h2v2h-2zM72.0 222.4h2v2h-2zM88.0 222.4h2v2h-2zM52.0 224.4h2v2h-2zM74.0 224.4h2v2h-2zM86.0 224.4h2v2h-2zM106.0 224.4h2v2h-2zM76.0 226.4h2v2h-2zM84.0 226.4h2v2h-2zM106.0 226.4h2v2h-2zM54.0 228.4h2v2h-2zM80.0 228.4h2v2h-2zM54.0 230.4h2v2h-2zM104.0 230.4h2v2h-2zM104.0 232.4h2v2h-2zM56.0 234.4h2v2h-2zM54.0 236.4h4v2h-4zM54.0 238.4h4v2h-4zM54.0 240.4h2v2h-2zM104.0 240.4h2v2h-2zM54.0 242.4h2v2h-2zM102.0 242.4h4v2h-4zM54.0 244.4h4v2h-4zM102.0 244.4h2v2h-2zM54.0 246.4h4v2h-4zM102.0 246.4h2v2h-2zM56.0 248.4h4v2h-4zM100.0 248.4h4v2h-4zM58.0 250.4h4v2h-4zM98.0 250.4h4v2h-4zM60.0 252.4h4v2h-4zM96.0 252.4h4v2h-4zM62.0 254.4h4v2h-4zM94.0 254.4h4v2h-4zM64.0 256.4h4v2h-4zM92.0 256.4h4v2h-4zM66.0 258.4h2v2h-2zM92.0 258.4h2v2h-2zM66.0 260.4h4v2h-4zM90.0 260.4h2v2h-2zM68.0 262.4h4v2h-4zM88.0 262.4h4v2h-4zM68.0 264.4h4v2h-4zM88.0 264.4h4v2h-4zM68.0 266.4h6v2h-6zM86.0 266.4h4v2h-4zM70.0 268.4h6v2h-6zM84.0 268.4h6v2h-6zM28.0 270.4h4v2h-4zM70.0 270.4h18v2h-18zM28.0 272.4h12v2h-12zM70.0 272.4h18v2h-18zM28.0 274.4h22v2h-22zM72.0 274.4h14v2h-14zM28.0 276.4h30v2h-30zM70.0 276.4h14v2h-14zM28.0 278.4h56v2h-56zM28.0 280.4h58v2h-58z"/><path fill="#dedefc" d="M48.0 210.4h2v2h-2zM64.0 212.4h2v2h-2zM96.0 212.4h2v2h-2zM110.0 212.4h2v2h-2zM50.0 214.4h2v2h-2zM66.0 216.4h2v2h-2zM92.0 218.4h2v2h-2zM108.0 218.4h2v2h-2zM52.0 220.4h2v2h-2zM106.0 222.4h2v2h-2zM54.0 224.4h2v2h-2zM72.0 224.4h2v2h-2zM88.0 224.4h2v2h-2zM54.0 226.4h2v2h-2zM74.0 226.4h2v2h-2zM78.0 228.4h2v2h-2zM82.0 228.4h2v2h-2zM104.0 228.4h2v2h-2zM56.0 230.4h2v2h-2zM56.0 232.4h2v2h-2zM102.0 232.4h2v2h-2zM102.0 234.4h2v2h-2zM102.0 236.4h2v2h-2zM102.0 238.4h2v2h-2zM56.0 240.4h2v2h-2zM102.0 240.4h2v2h-2zM56.0 242.4h2v2h-2zM58.0 244.4h2v2h-2zM100.0 244.4h2v2h-2zM58.0 246.4h2v2h-2zM100.0 246.4h2v2h-2zM60.0 248.4h2v2h-2zM98.0 248.4h2v2h-2zM62.0 250.4h2v2h-2zM96.0 250.4h2v2h-2zM64.0 252.4h2v2h-2zM94.0 252.4h2v2h-2zM66.0 254.4h2v2h-2zM92.0 254.4h2v2h-2zM68.0 256.4h2v2h-2zM90.0 256.4h2v2h-2zM68.0 258.4h4v2h-4zM90.0 258.4h2v2h-2zM70.0 260.4h2v2h-2zM88.0 260.4h2v2h-2zM72.0 262.4h2v2h-2zM86.0 262.4h2v2h-2zM72.0 264.4h4v2h-4zM84.0 264.4h4v2h-4zM74.0 266.4h12v2h-12zM76.0 268.4h8v2h-8z"/><path fill="#d9d9fc" d="M62.0 210.4h2v2h-2zM110.0 210.4h2v2h-2zM50.0 212.4h2v2h-2zM94.0 216.4h2v2h-2zM108.0 216.4h2v2h-2zM52.0 218.4h2v2h-2zM68.0 220.4h2v2h-2zM70.0 222.4h2v2h-2zM90.0 222.4h2v2h-2zM86.0 226.4h2v2h-2zM104.0 226.4h2v2h-2zM56.0 228.4h2v2h-2zM76.0 228.4h2v2h-2zM58.0 234.4h2v2h-2zM58.0 236.4h2v2h-2zM100.0 236.4h2v2h-2zM58.0 238.4h2v2h-2zM100.0 238.4h2v2h-2zM58.0 240.4h2v2h-2zM100.0 240.4h2v2h-2zM58.0 242.4h2v2h-2zM100.0 242.4h2v2h-2zM60.0 244.4h2v2h-2zM60.0 246.4h2v2h-2zM98.0 246.4h2v2h-2zM62.0 248.4h2v2h-2zM96.0 248.4h2v2h-2zM64.0 250.4h2v2h-2zM94.0 250.4h2v2h-2zM66.0 252.4h2v2h-2zM92.0 252.4h2v2h-2zM68.0 254.4h2v2h-2zM90.0 254.4h2v2h-2zM70.0 256.4h2v2h-2zM88.0 256.4h2v2h-2zM72.0 258.4h2v2h-2zM88.0 258.4h2v2h-2zM72.0 260.4h4v2h-4zM86.0 260.4h2v2h-2zM74.0 262.4h4v2h-4zM82.0 262.4h4v2h-4zM76.0 264.4h8v2h-8z"/><path fill="#d4d4fc" d="M98.0 210.4h2v2h-2zM64.0 214.4h2v2h-2zM96.0 214.4h2v2h-2zM108.0 214.4h2v2h-2zM52.0 216.4h2v2h-2zM66.0 218.4h2v2h-2zM92.0 220.4h2v2h-2zM106.0 220.4h2v2h-2zM54.0 222.4h2v2h-2zM104.0 224.4h2v2h-2zM56.0 226.4h2v2h-2zM84.0 228.4h2v2h-2zM102.0 230.4h2v2h-2zM58.0 232.4h2v2h-2zM100.0 234.4h2v2h-2zM60.0 238.4h2v2h-2zM60.0 240.4h2v2h-2zM60.0 242.4h2v2h-2zM98.0 242.4h2v2h-2zM98.0 244.4h2v2h-2zM62.0 246.4h2v2h-2zM96.0 246.4h2v2h-2zM64.0 248.4h2v2h-2zM66.0 250.4h2v2h-2zM68.0 252.4h2v2h-2zM70.0 254.4h2v2h-2zM72.0 256.4h2v2h-2zM74.0 258.4h2v2h-2zM86.0 258.4h2v2h-2zM76.0 260.4h2v2h-2zM82.0 260.4h4v2h-4zM78.0 262.4h4v2h-4z"/><path fill="#d0d0fb" d="M50.0 210.4h2v2h-2zM62.0 212.4h2v2h-2zM98.0 212.4h2v2h-2zM108.0 212.4h2v2h-2zM52.0 214.4h2v2h-2zM94.0 218.4h2v2h-2zM106.0 218.4h2v2h-2zM54.0 220.4h2v2h-2zM70.0 224.4h2v2h-2zM72.0 226.4h2v2h-2zM88.0 226.4h2v2h-2zM102.0 228.4h2v2h-2zM58.0 230.4h2v2h-2zM78.0 230.4h4v2h-4zM60.0 236.4h2v2h-2zM98.0 238.4h2v2h-2zM98.0 240.4h2v2h-2zM62.0 242.4h2v2h-2zM62.0 244.4h2v2h-2zM96.0 244.4h2v2h-2zM64.0 246.4h2v2h-2zM94.0 248.4h2v2h-2zM92.0 250.4h2v2h-2zM90.0 252.4h2v2h-2zM88.0 254.4h2v2h-2zM74.0 256.4h2v2h-2zM86.0 256.4h2v2h-2zM76.0 258.4h2v2h-2zM82.0 258.4h4v2h-4zM78.0 260.4h4v2h-4z"/><path fill="#cbcbfb" d="M64.0 216.4h2v2h-2zM96.0 216.4h2v2h-2zM106.0 216.4h2v2h-2zM54.0 218.4h2v2h-2zM68.0 222.4h2v2h-2zM92.0 222.4h2v2h-2zM104.0 222.4h2v2h-2zM56.0 224.4h2v2h-2zM90.0 224.4h2v2h-2zM74.0 228.4h2v2h-2zM86.0 228.4h2v2h-2zM82.0 230.4h2v2h-2zM100.0 232.4h2v2h-2zM60.0 234.4h2v2h-2zM62.0 240.4h2v2h-2zM96.0 242.4h2v2h-2zM64.0 244.4h2v2h-2zM94.0 246.4h2v2h-2zM66.0 248.4h2v2h-2zM92.0 248.4h2v2h-2zM68.0 250.4h2v2h-2zM90.0 250.4h2v2h-2zM70.0 252.4h2v2h-2zM88.0 252.4h2v2h-2zM72.0 254.4h2v2h-2zM86.0 254.4h2v2h-2zM76.0 256.4h2v2h-2zM84.0 256.4h2v2h-2zM78.0 258.4h4v2h-4z"/><path fill="#c6c6fa" d="M60.0 210.4h2v2h-2zM100.0 210.4h2v2h-2zM108.0 210.4h2v2h-2zM52.0 212.4h2v2h-2zM62.0 214.4h2v2h-2zM66.0 220.4h2v2h-2zM94.0 220.4h2v2h-2zM56.0 222.4h2v2h-2zM102.0 226.4h2v2h-2zM58.0 228.4h2v2h-2zM60.0 232.4h2v2h-2zM98.0 236.4h2v2h-2zM62.0 238.4h2v2h-2zM96.0 240.4h2v2h-2zM64.0 242.4h2v2h-2zM94.0 244.4h2v2h-2zM66.0 246.4h2v2h-2zM68.0 248.4h2v2h-2zM70.0 250.4h2v2h-2zM72.0 252.4h2v2h-2zM74.0 254.4h2v2h-2zM84.0 254.4h2v2h-2zM78.0 256.4h6v2h-6z"/><path fill="#c1c1fa" d="M52.0 210.4h2v2h-2zM98.0 214.4h2v2h-2zM106.0 214.4h2v2h-2zM54.0 216.4h2v2h-2zM64.0 218.4h2v2h-2zM104.0 220.4h2v2h-2zM58.0 226.4h2v2h-2zM76.0 230.4h2v2h-2zM84.0 230.4h2v2h-2zM100.0 230.4h2v2h-2zM98.0 234.4h2v2h-2zM62.0 236.4h2v2h-2zM92.0 246.4h2v2h-2zM90.0 248.4h2v2h-2zM88.0 250.4h2v2h-2zM86.0 252.4h2v2h-2zM76.0 254.4h2v2h-2zM82.0 254.4h2v2h-2z"/><path fill="#bdbdfa" d="M60.0 212.4h2v2h-2zM100.0 212.4h2v2h-2zM106.0 212.4h2v2h-2zM54.0 214.4h2v2h-2zM96.0 218.4h2v2h-2zM104.0 218.4h2v2h-2zM56.0 220.4h2v2h-2zM68.0 224.4h2v2h-2zM102.0 224.4h2v2h-2zM70.0 226.4h2v2h-2zM72.0 228.4h2v2h-2zM60.0 230.4h2v2h-2zM96.0 238.4h2v2h-2zM64.0 240.4h2v2h-2zM94.0 242.4h2v2h-2zM66.0 244.4h2v2h-2zM68.0 246.4h2v2h-2zM70.0 248.4h2v2h-2zM72.0 250.4h2v2h-2zM74.0 252.4h2v2h-2zM84.0 252.4h2v2h-2zM78.0 254.4h4v2h-4z"/><path fill="#b8b8f9" d="M106.0 210.4h2v2h-2zM54.0 212.4h2v2h-2zM62.0 216.4h2v2h-2zM98.0 216.4h2v2h-2zM104.0 216.4h2v2h-2zM56.0 218.4h2v2h-2zM66.0 222.4h2v2h-2zM58.0 224.4h2v2h-2zM92.0 224.4h2v2h-2zM90.0 226.4h2v2h-2zM88.0 228.4h2v2h-2zM100.0 228.4h2v2h-2zM80.0 232.4h2v2h-2zM62.0 234.4h2v2h-2zM66.0 242.4h2v2h-2zM92.0 244.4h2v2h-2zM90.0 246.4h2v2h-2zM88.0 248.4h2v2h-2zM86.0 250.4h2v2h-2zM76.0 252.4h4v2h-4zM82.0 252.4h2v2h-2z"/><path fill="#b3b3f9" d="M54.0 210.4h2v2h-2zM58.0 210.4h2v2h-2zM102.0 210.4h2v2h-2zM60.0 214.4h2v2h-2zM100.0 214.4h2v2h-2zM104.0 214.4h2v2h-2zM56.0 216.4h2v2h-2zM64.0 220.4h2v2h-2zM94.0 222.4h2v2h-2zM102.0 222.4h2v2h-2zM74.0 230.4h2v2h-2zM78.0 232.4h2v2h-2zM98.0 232.4h2v2h-2zM96.0 236.4h2v2h-2zM64.0 238.4h2v2h-2zM94.0 240.4h2v2h-2zM68.0 244.4h2v2h-2zM72.0 248.4h2v2h-2zM74.0 250.4h2v2h-2zM84.0 250.4h2v2h-2zM80.0 252.4h2v2h-2z"/><path fill="#aeaef8" d="M56.0 210.4h2v2h-2zM104.0 210.4h2v2h-2zM56.0 212.4h4v2h-4zM102.0 212.4h4v2h-4zM56.0 214.4h2v2h-2zM102.0 214.4h2v2h-2zM62.0 218.4h2v2h-2zM98.0 218.4h2v2h-2zM96.0 220.4h2v2h-2zM102.0 220.4h2v2h-2zM58.0 222.4h2v2h-2zM100.0 226.4h2v2h-2zM60.0 228.4h2v2h-2zM86.0 230.4h2v2h-2zM82.0 232.4h2v2h-2zM70.0 246.4h2v2h-2zM86.0 248.4h2v2h-2zM76.0 250.4h2v2h-2zM82.0 250.4h2v2h-2z"/><path fill="#aaaaf8" d="M58.0 214.4h2v2h-2zM60.0 216.4h2v2h-2zM100.0 216.4h4v2h-4zM102.0 218.4h2v2h-2zM58.0 220.4h2v2h-2zM98.0 230.4h2v2h-2zM62.0 232.4h2v2h-2zM64.0 236.4h2v2h-2zM66.0 240.4h2v2h-2zM92.0 242.4h2v2h-2zM90.0 244.4h2v2h-2zM88.0 246.4h2v2h-2zM74.0 248.4h2v2h-2zM78.0 250.4h4v2h-4z"/><path fill="#a5a5f8" d="M58.0 216.4h2v2h-2zM58.0 218.4h4v2h-4zM100.0 218.4h2v2h-2zM64.0 222.4h2v2h-2zM66.0 224.4h2v2h-2zM100.0 224.4h2v2h-2zM60.0 226.4h2v2h-2zM68.0 226.4h2v2h-2zM92.0 226.4h2v2h-2zM70.0 228.4h2v2h-2zM76.0 232.4h2v2h-2zM96.0 234.4h2v2h-2zM94.0 238.4h2v2h-2zM68.0 242.4h2v2h-2zM72.0 246.4h2v2h-2zM84.0 248.4h2v2h-2z"/><path fill="#a0a0f7" d="M60.0 220.4h4v2h-4zM98.0 220.4h4v2h-4zM96.0 222.4h2v2h-2zM100.0 222.4h2v2h-2zM60.0 224.4h2v2h-2zM94.0 224.4h2v2h-2zM90.0 228.4h2v2h-2zM62.0 230.4h2v2h-2zM84.0 232.4h2v2h-2zM70.0 244.4h2v2h-2zM76.0 248.4h2v2h-2z"/><path fill="#9b9bf7" d="M60.0 222.4h2v2h-2zM98.0 222.4h2v2h-2zM98.0 228.4h2v2h-2zM72.0 230.4h2v2h-2zM88.0 230.4h2v2h-2zM64.0 234.4h2v2h-2zM66.0 238.4h2v2h-2zM92.0 240.4h2v2h-2zM86.0 246.4h2v2h-2zM78.0 248.4h6v2h-6z"/><path fill="#9797f7" d="M62.0 222.4h2v2h-2zM64.0 224.4h2v2h-2zM98.0 224.4h2v2h-2zM98.0 226.4h2v2h-2zM62.0 228.4h2v2h-2zM96.0 232.4h2v2h-2zM88.0 244.4h2v2h-2zM74.0 246.4h2v2h-2z"/><path fill="#9292f6" d="M62.0 224.4h2v2h-2zM96.0 224.4h2v2h-2zM62.0 226.4h2v2h-2zM66.0 226.4h2v2h-2zM94.0 226.4h2v2h-2zM94.0 236.4h2v2h-2zM90.0 242.4h2v2h-2z"/><path fill="#8d8df6" d="M96.0 226.4h2v2h-2zM68.0 228.4h2v2h-2zM92.0 228.4h2v2h-2zM96.0 230.4h2v2h-2zM64.0 232.4h2v2h-2zM74.0 232.4h2v2h-2zM86.0 232.4h2v2h-2zM68.0 240.4h2v2h-2zM72.0 244.4h2v2h-2zM84.0 246.4h2v2h-2z"/><path fill="#8888f5" d="M64.0 226.4h2v2h-2zM96.0 228.4h2v2h-2zM70.0 230.4h2v2h-2zM80.0 234.4h2v2h-2zM66.0 236.4h2v2h-2zM70.0 242.4h2v2h-2zM76.0 246.4h2v2h-2z"/><path fill="#8484f5" d="M64.0 228.4h2v2h-2zM64.0 230.4h2v2h-2zM90.0 230.4h2v2h-2zM78.0 234.4h2v2h-2zM82.0 234.4h2v2h-2zM94.0 234.4h2v2h-2zM92.0 238.4h2v2h-2zM78.0 246.4h2v2h-2zM82.0 246.4h2v2h-2z"/><path fill="#7f7ff5" d="M66.0 228.4h2v2h-2zM94.0 228.4h2v2h-2zM86.0 244.4h2v2h-2zM80.0 246.4h2v2h-2z"/><path fill="#7a7af4" d="M94.0 230.4h2v2h-2zM72.0 232.4h2v2h-2zM94.0 232.4h2v2h-2zM66.0 234.4h2v2h-2zM68.0 238.4h2v2h-2zM90.0 240.4h2v2h-2zM88.0 242.4h2v2h-2zM74.0 244.4h2v2h-2z"/><path fill="#7575f4" d="M66.0 230.4h4v2h-4zM92.0 230.4h2v2h-2zM66.0 232.4h2v2h-2zM88.0 232.4h2v2h-2zM76.0 234.4h2v2h-2zM84.0 234.4h2v2h-2z"/><path fill="#7171f3" d="M92.0 236.4h2v2h-2zM70.0 240.4h2v2h-2zM72.0 242.4h2v2h-2z"/><path fill="#6c6cf3" d="M92.0 232.4h2v2h-2zM84.0 244.4h2v2h-2z"/><path fill="#6767f3" d="M68.0 232.4h4v2h-4zM90.0 232.4h2v2h-2zM92.0 234.4h2v2h-2zM68.0 236.4h2v2h-2zM76.0 244.4h2v2h-2z"/><path fill="#6262f2" d="M74.0 234.4h2v2h-2zM86.0 234.4h2v2h-2zM90.0 238.4h2v2h-2zM82.0 244.4h2v2h-2z"/><path fill="#5e5ef2" d="M68.0 234.4h2v2h-2zM86.0 242.4h2v2h-2zM78.0 244.4h2v2h-2z"/><path fill="#5959f2" d="M70.0 238.4h2v2h-2zM88.0 240.4h2v2h-2zM80.0 244.4h2v2h-2z"/><path fill="#5454f1" d="M70.0 234.4h4v2h-4zM88.0 234.4h4v2h-4zM90.0 236.4h2v2h-2zM74.0 242.4h2v2h-2z"/><path fill="#4f4ff1" d="M80.0 236.4h2v2h-2zM72.0 240.4h2v2h-2z"/><path fill="#4b4bf0" d="M70.0 236.4h2v2h-2zM78.0 236.4h2v2h-2zM82.0 236.4h2v2h-2z"/><path fill="#4646f0" d="M72.0 236.4h6v2h-6zM84.0 236.4h6v2h-6zM72.0 238.4h18v2h-18zM74.0 240.4h14v2h-14zM76.0 242.4h10v2h-10z"/></g></g>
<g clip-path="url(#c1)"><g filter="url(#sm)"><path fill="#fafaff" d="M163.9 210.1h2v2h-2zM165.9 212.1h2v2h-2zM165.9 214.1h4v2h-4zM167.9 216.1h4v2h-4zM195.9 216.1h6v2h-6zM129.9 218.1h2v2h-2zM169.9 218.1h4v2h-4zM189.9 218.1h14v2h-14zM129.9 220.1h6v2h-6zM171.9 220.1h4v2h-4zM187.9 220.1h6v2h-6zM203.9 220.1h2v2h-2zM129.9 222.1h8v2h-8zM173.9 222.1h6v2h-6zM181.9 222.1h10v2h-10zM205.9 222.1h2v2h-2zM129.9 224.1h8v2h-8zM175.9 224.1h12v2h-12zM207.9 224.1h2v2h-2zM129.9 226.1h10v2h-10zM177.9 226.1h8v2h-8zM207.9 226.1h4v2h-4zM219.9 226.1h16v2h-16zM129.9 228.1h12v2h-12zM207.9 228.1h28v2h-28zM129.9 230.1h12v2h-12zM207.9 230.1h28v2h-28zM129.9 232.1h14v2h-14zM205.9 232.1h30v2h-30zM129.9 234.1h16v2h-16zM205.9 234.1h30v2h-30zM129.9 236.1h16v2h-16zM203.9 236.1h32v2h-32zM129.9 238.1h18v2h-18zM203.9 238.1h32v2h-32zM129.9 240.1h20v2h-20zM201.9 240.1h34v2h-34zM129.9 242.1h20v2h-20zM201.9 242.1h34v2h-34zM129.9 244.1h22v2h-22zM201.9 244.1h34v2h-34zM129.9 246.1h22v2h-22zM201.9 246.1h34v2h-34zM129.9 248.1h22v2h-22zM201.9 248.1h34v2h-34zM129.9 250.1h22v2h-22zM201.9 250.1h34v2h-34zM129.9 252.1h20v2h-20zM199.9 252.1h36v2h-36zM129.9 254.1h18v2h-18zM197.9 254.1h38v2h-38zM129.9 256.1h16v2h-16zM195.9 256.1h40v2h-40zM129.9 258.1h14v2h-14zM191.9 258.1h44v2h-44zM129.9 260.1h10v2h-10zM189.9 260.1h46v2h-46zM129.9 262.1h8v2h-8zM189.9 262.1h46v2h-46zM129.9 264.1h4v2h-4zM189.9 264.1h46v2h-46zM191.9 266.1h44v2h-44z"/><path fill="#f6f6fe" d="M161.9 210.1h2v2h-2zM129.9 212.1h2v2h-2zM163.9 212.1h2v2h-2zM129.9 214.1h4v2h-4zM129.9 216.1h6v2h-6zM165.9 216.1h2v2h-2zM131.9 218.1h6v2h-6zM167.9 218.1h2v2h-2zM135.9 220.1h4v2h-4zM169.9 220.1h2v2h-2zM193.9 220.1h10v2h-10zM137.9 222.1h4v2h-4zM171.9 222.1h2v2h-2zM191.9 222.1h2v2h-2zM203.9 222.1h2v2h-2zM137.9 224.1h4v2h-4zM173.9 224.1h2v2h-2zM187.9 224.1h4v2h-4zM205.9 224.1h2v2h-2zM139.9 226.1h4v2h-4zM175.9 226.1h2v2h-2zM185.9 226.1h2v2h-2zM205.9 226.1h2v2h-2zM141.9 228.1h4v2h-4zM177.9 228.1h6v2h-6zM205.9 228.1h2v2h-2zM141.9 230.1h6v2h-6zM205.9 230.1h2v2h-2zM143.9 232.1h4v2h-4zM203.9 232.1h2v2h-2zM145.9 234.1h4v2h-4zM203.9 234.1h2v2h-2zM145.9 236.1h6v2h-6zM201.9 236.1h2v2h-2zM147.9 238.1h4v2h-4zM201.9 238.1h2v2h-2zM149.9 240.1h4v2h-4zM199.9 240.1h2v2h-2zM149.9 242.1h6v2h-6zM199.9 242.1h2v2h-2zM151.9 244.1h4v2h-4zM199.9 244.1h2v2h-2zM151.9 246.1h6v2h-6zM197.9 246.1h4v2h-4zM151.9 248.1h6v2h-6zM197.9 248.1h4v2h-4zM151.9 250.1h6v2h-6zM195.9 250.1h6v2h-6zM149.9 252.1h6v2h-6zM193.9 252.1h6v2h-6zM147.9 254.1h8v2h-8zM189.9 254.1h8v2h-8zM145.9 256.1h8v2h-8zM185.9 256.1h10v2h-10zM143.9 258.1h8v2h-8zM183.9 258.1h8v2h-8zM139.9 260.1h10v2h-10zM181.9 260.1h8v2h-8zM137.9 262.1h10v2h-10zM179.9 262.1h10v2h-10zM133.9 264.1h10v2h-10zM175.9 264.1h14v2h-14zM129.9 266.1h12v2h-12zM173.9 266.1h18v2h-18zM129.9 268.1h10v2h-10zM171.9 268.1h64v2h-64zM129.9 270.1h10v2h-10zM169.9 270.1h66v2h-66zM129.9 272.1h8v2h-8zM169.9 272.1h66v2h-66zM129.9 274.1h8v2h-8zM167.9 274.1h68v2h-68zM129.9 276.1h8v2h-8zM165.9 276.1h70v2h-70zM129.9 278.1h8v2h-8zM163.9 278.1h72v2h-72zM129.9 280.1h8v2h-8zM161.9 280.1h74v2h-74zM129.9 282.1h10v2h-10zM161.9 282.1h74v2h-74z"/><path fill="#f1f1fe" d="M129.9 210.1h4v2h-4zM131.9 212.1h4v2h-4zM161.9 212.1h2v2h-2zM133.9 214.1h4v2h-4zM163.9 214.1h2v2h-2zM135.9 216.1h4v2h-4zM137.9 218.1h4v2h-4zM139.9 220.1h4v2h-4zM141.9 222.1h2v2h-2zM169.9 222.1h2v2h-2zM193.9 222.1h2v2h-2zM201.9 222.1h2v2h-2zM141.9 224.1h4v2h-4zM171.9 224.1h2v2h-2zM203.9 224.1h2v2h-2zM143.9 226.1h4v2h-4zM173.9 226.1h2v2h-2zM187.9 226.1h2v2h-2zM203.9 226.1h2v2h-2zM145.9 228.1h4v2h-4zM183.9 228.1h4v2h-4zM203.9 228.1h2v2h-2zM147.9 230.1h2v2h-2zM203.9 230.1h2v2h-2zM147.9 232.1h4v2h-4zM149.9 234.1h4v2h-4zM201.9 234.1h2v2h-2zM151.9 236.1h4v2h-4zM199.9 236.1h2v2h-2zM151.9 238.1h4v2h-4zM199.9 238.1h2v2h-2zM153.9 240.1h4v2h-4zM197.9 240.1h2v2h-2zM155.9 242.1h2v2h-2zM197.9 242.1h2v2h-2zM155.9 244.1h4v2h-4zM197.9 244.1h2v2h-2zM157.9 246.1h2v2h-2zM195.9 246.1h2v2h-2zM157.9 248.1h2v2h-2zM195.9 248.1h2v2h-2zM157.9 250.1h2v2h-2zM193.9 250.1h2v2h-2zM155.9 252.1h4v2h-4zM189.9 252.1h4v2h-4zM155.9 254.1h2v2h-2zM185.9 254.1h4v2h-4zM153.9 256.1h2v2h-2zM183.9 256.1h2v2h-2zM151.9 258.1h2v2h-2zM179.9 258.1h4v2h-4zM149.9 260.1h2v2h-2zM177.9 260.1h4v2h-4zM147.9 262.1h2v2h-2zM173.9 262.1h6v2h-6zM143.9 264.1h4v2h-4zM171.9 264.1h4v2h-4zM141.9 266.1h4v2h-4zM169.9 266.1h4v2h-4zM139.9 268.1h4v2h-4zM167.9 268.1h4v2h-4zM139.9 270.1h2v2h-2zM165.9 270.1h4v2h-4zM137.9 272.1h4v2h-4zM163.9 272.1h6v2h-6zM137.9 274.1h4v2h-4zM163.9 274.1h4v2h-4zM137.9 276.1h4v2h-4zM161.9 276.1h4v2h-4zM137.9 278.1h4v2h-4zM159.9 278.1h4v2h-4zM137.9 280.1h4v2h-4zM157.9 280.1h4v2h-4zM139.9 282.1h4v2h-4zM155.9 282.1h6v2h-6z"/><path fill="#ececfd" d="M133.9 210.1h4v2h-4zM159.9 210.1h2v2h-2zM135.9 212.1h4v2h-4zM137.9 214.1h2v2h-2zM139.9 216.1h2v2h-2zM141.9 218.1h2v2h-2zM165.9 218.1h2v2h-2zM143.9 220.1h2v2h-2zM167.9 220.1h2v2h-2zM143.9 222.1h4v2h-4zM195.9 222.1h6v2h-6zM145.9 224.1h4v2h-4zM191.9 224.1h2v2h-2zM147.9 226.1h4v2h-4zM189.9 226.1h2v2h-2zM149.9 228.1h2v2h-2zM175.9 228.1h2v2h-2zM149.9 230.1h4v2h-4zM179.9 230.1h2v2h-2zM201.9 230.1h2v2h-2zM151.9 232.1h4v2h-4zM201.9 232.1h2v2h-2zM153.9 234.1h2v2h-2zM155.9 236.1h2v2h-2zM155.9 238.1h4v2h-4zM197.9 238.1h2v2h-2zM157.9 240.1h2v2h-2zM157.9 242.1h4v2h-4zM159.9 244.1h2v2h-2zM195.9 244.1h2v2h-2zM159.9 246.1h2v2h-2zM193.9 246.1h2v2h-2zM159.9 248.1h2v2h-2zM193.9 248.1h2v2h-2zM159.9 250.1h2v2h-2zM191.9 250.1h2v2h-2zM159.9 252.1h2v2h-2zM187.9 252.1h2v2h-2zM157.9 254.1h4v2h-4zM183.9 254.1h2v2h-2zM155.9 256.1h4v2h-4zM179.9 256.1h4v2h-4zM153.9 258.1h4v2h-4zM177.9 258.1h2v2h-2zM151.9 260.1h4v2h-4zM173.9 260.1h4v2h-4zM149.9 262.1h4v2h-4zM171.9 262.1h2v2h-2zM147.9 264.1h4v2h-4zM167.9 264.1h4v2h-4zM145.9 266.1h4v2h-4zM165.9 266.1h4v2h-4zM143.9 268.1h4v2h-4zM165.9 268.1h2v2h-2zM141.9 270.1h4v2h-4zM163.9 270.1h2v2h-2zM141.9 272.1h2v2h-2zM161.9 272.1h2v2h-2zM141.9 274.1h2v2h-2zM159.9 274.1h4v2h-4zM141.9 276.1h2v2h-2zM157.9 276.1h4v2h-4zM141.9 278.1h2v2h-2zM155.9 278.1h4v2h-4zM141.9 280.1h4v2h-4zM153.9 280.1h4v2h-4zM143.9 282.1h12v2h-12z"/><path fill="#e7e7fd" d="M137.9 210.1h2v2h-2zM139.9 212.1h2v2h-2zM139.9 214.1h2v2h-2zM141.9 216.1h2v2h-2zM163.9 216.1h2v2h-2zM143.9 218.1h2v2h-2zM145.9 220.1h2v2h-2zM147.9 222.1h2v2h-2zM149.9 224.1h2v2h-2zM193.9 224.1h2v2h-2zM199.9 224.1h4v2h-4zM151.9 226.1h2v2h-2zM201.9 226.1h2v2h-2zM151.9 228.1h4v2h-4zM187.9 228.1h2v2h-2zM201.9 228.1h2v2h-2zM153.9 230.1h2v2h-2zM177.9 230.1h2v2h-2zM181.9 230.1h2v2h-2zM155.9 232.1h2v2h-2zM155.9 234.1h4v2h-4zM199.9 234.1h2v2h-2zM157.9 236.1h2v2h-2zM159.9 238.1h2v2h-2zM159.9 240.1h2v2h-2zM161.9 242.1h2v2h-2zM195.9 242.1h2v2h-2zM161.9 244.1h2v2h-2zM193.9 244.1h2v2h-2zM161.9 246.1h2v2h-2zM161.9 248.1h2v2h-2zM191.9 248.1h2v2h-2zM161.9 250.1h2v2h-2zM189.9 250.1h2v2h-2zM161.9 252.1h2v2h-2zM185.9 252.1h2v2h-2zM161.9 254.1h2v2h-2zM181.9 254.1h2v2h-2zM159.9 256.1h2v2h-2zM177.9 256.1h2v2h-2zM157.9 258.1h4v2h-4zM173.9 258.1h4v2h-4zM155.9 260.1h4v2h-4zM169.9 260.1h4v2h-4zM153.9 262.1h4v2h-4zM167.9 262.1h4v2h-4zM151.9 264.1h4v2h-4zM165.9 264.1h2v2h-2zM149.9 266.1h4v2h-4zM163.9 266.1h2v2h-2zM147.9 268.1h4v2h-4zM161.9 268.1h4v2h-4zM145.9 270.1h4v2h-4zM159.9 270.1h4v2h-4zM143.9 272.1h4v2h-4zM157.9 272.1h4v2h-4zM143.9 274.1h2v2h-2zM155.9 274.1h4v2h-4zM143.9 276.1h2v2h-2zM153.9 276.1h4v2h-4zM143.9 278.1h2v2h-2zM153.9 278.1h2v2h-2zM145.9 280.1h8v2h-8z"/><path fill="#e3e3fd" d="M139.9 210.1h2v2h-2zM141.9 214.1h2v2h-2zM161.9 214.1h2v2h-2zM143.9 216.1h2v2h-2zM145.9 218.1h2v2h-2zM147.9 220.1h2v2h-2zM149.9 222.1h2v2h-2zM167.9 222.1h2v2h-2zM151.9 224.1h2v2h-2zM169.9 224.1h2v2h-2zM195.9 224.1h4v2h-4zM171.9 226.1h2v2h-2zM191.9 226.1h2v2h-2zM173.9 228.1h2v2h-2zM155.9 230.1h2v2h-2zM183.9 230.1h2v2h-2zM157.9 232.1h2v2h-2zM199.9 232.1h2v2h-2zM159.9 236.1h2v2h-2zM197.9 236.1h2v2h-2zM161.9 240.1h2v2h-2zM195.9 240.1h2v2h-2zM163.9 244.1h2v2h-2zM163.9 246.1h2v2h-2zM191.9 246.1h2v2h-2zM163.9 248.1h2v2h-2zM189.9 248.1h2v2h-2zM163.9 250.1h2v2h-2zM187.9 250.1h2v2h-2zM163.9 252.1h2v2h-2zM183.9 252.1h2v2h-2zM163.9 254.1h2v2h-2zM179.9 254.1h2v2h-2zM161.9 256.1h4v2h-4zM173.9 256.1h4v2h-4zM161.9 258.1h12v2h-12zM159.9 260.1h10v2h-10zM157.9 262.1h10v2h-10zM155.9 264.1h10v2h-10zM153.9 266.1h10v2h-10zM151.9 268.1h10v2h-10zM149.9 270.1h10v2h-10zM147.9 272.1h10v2h-10zM145.9 274.1h10v2h-10zM145.9 276.1h8v2h-8zM145.9 278.1h8v2h-8z"/><path fill="#dedefc" d="M141.9 212.1h2v2h-2zM159.9 212.1h2v2h-2zM143.9 214.1h2v2h-2zM165.9 220.1h2v2h-2zM153.9 226.1h2v2h-2zM193.9 226.1h2v2h-2zM199.9 226.1h2v2h-2zM155.9 228.1h2v2h-2zM189.9 228.1h2v2h-2zM199.9 228.1h2v2h-2zM175.9 230.1h2v2h-2zM185.9 230.1h2v2h-2zM199.9 230.1h2v2h-2zM179.9 232.1h2v2h-2zM159.9 234.1h2v2h-2zM197.9 234.1h2v2h-2zM161.9 238.1h2v2h-2zM195.9 238.1h2v2h-2zM163.9 240.1h2v2h-2zM163.9 242.1h2v2h-2zM193.9 242.1h2v2h-2zM165.9 246.1h2v2h-2zM165.9 248.1h2v2h-2zM165.9 250.1h2v2h-2zM165.9 252.1h2v2h-2zM165.9 254.1h4v2h-4zM175.9 254.1h4v2h-4zM165.9 256.1h8v2h-8z"/><path fill="#d9d9fc" d="M141.9 210.1h2v2h-2zM157.9 210.1h2v2h-2zM145.9 216.1h2v2h-2zM147.9 218.1h2v2h-2zM149.9 220.1h2v2h-2zM151.9 222.1h2v2h-2zM195.9 226.1h4v2h-4zM191.9 228.1h2v2h-2zM157.9 230.1h2v2h-2zM187.9 230.1h2v2h-2zM197.9 232.1h2v2h-2zM161.9 236.1h2v2h-2zM165.9 244.1h2v2h-2zM191.9 244.1h2v2h-2zM167.9 248.1h2v2h-2zM167.9 250.1h2v2h-2zM185.9 250.1h2v2h-2zM167.9 252.1h4v2h-4zM181.9 252.1h2v2h-2zM169.9 254.1h6v2h-6z"/><path fill="#d4d4fc" d="M143.9 212.1h2v2h-2zM163.9 218.1h2v2h-2zM153.9 224.1h2v2h-2zM155.9 226.1h2v2h-2zM197.9 228.1h2v2h-2zM197.9 230.1h2v2h-2zM159.9 232.1h2v2h-2zM181.9 232.1h2v2h-2zM161.9 234.1h2v2h-2zM195.9 236.1h2v2h-2zM163.9 238.1h2v2h-2zM193.9 240.1h2v2h-2zM165.9 242.1h2v2h-2zM167.9 246.1h2v2h-2zM189.9 246.1h2v2h-2zM187.9 248.1h2v2h-2zM169.9 250.1h2v2h-2zM171.9 252.1h10v2h-10z"/><path fill="#d0d0fb" d="M145.9 214.1h2v2h-2zM161.9 216.1h2v2h-2zM169.9 226.1h2v2h-2zM193.9 228.1h4v2h-4zM189.9 230.1h2v2h-2zM177.9 232.1h2v2h-2zM183.9 232.1h2v2h-2zM195.9 234.1h2v2h-2zM165.9 240.1h2v2h-2zM191.9 242.1h2v2h-2zM167.9 244.1h2v2h-2zM169.9 248.1h2v2h-2zM171.9 250.1h2v2h-2zM183.9 250.1h2v2h-2z"/><path fill="#cbcbfb" d="M143.9 210.1h2v2h-2zM159.9 214.1h2v2h-2zM147.9 216.1h2v2h-2zM149.9 218.1h2v2h-2zM165.9 222.1h2v2h-2zM167.9 224.1h2v2h-2zM157.9 228.1h2v2h-2zM171.9 228.1h2v2h-2zM159.9 230.1h2v2h-2zM173.9 230.1h2v2h-2zM191.9 230.1h2v2h-2zM195.9 230.1h2v2h-2zM195.9 232.1h2v2h-2zM163.9 236.1h2v2h-2zM193.9 238.1h2v2h-2zM167.9 242.1h2v2h-2zM169.9 246.1h2v2h-2zM171.9 248.1h2v2h-2z"/><path fill="#c6c6fa" d="M145.9 212.1h2v2h-2zM157.9 212.1h2v2h-2zM151.9 220.1h2v2h-2zM153.9 222.1h2v2h-2zM193.9 230.1h2v2h-2zM161.9 232.1h2v2h-2zM185.9 232.1h4v2h-4zM193.9 236.1h2v2h-2zM165.9 238.1h2v2h-2zM169.9 244.1h2v2h-2zM189.9 244.1h2v2h-2zM187.9 246.1h2v2h-2zM185.9 248.1h2v2h-2zM173.9 250.1h2v2h-2zM181.9 250.1h2v2h-2z"/><path fill="#c1c1fa" d="M155.9 210.1h2v2h-2zM163.9 220.1h2v2h-2zM155.9 224.1h2v2h-2zM189.9 232.1h2v2h-2zM193.9 232.1h2v2h-2zM179.9 234.1h2v2h-2zM193.9 234.1h2v2h-2zM191.9 240.1h2v2h-2zM171.9 246.1h2v2h-2zM173.9 248.1h2v2h-2zM175.9 250.1h6v2h-6z"/><path fill="#bdbdfa" d="M147.9 214.1h2v2h-2zM157.9 226.1h2v2h-2zM175.9 232.1h2v2h-2zM191.9 232.1h2v2h-2zM163.9 234.1h2v2h-2zM167.9 240.1h2v2h-2z"/><path fill="#b8b8f9" d="M145.9 210.1h2v2h-2zM149.9 216.1h2v2h-2zM161.9 218.1h2v2h-2zM159.9 228.1h2v2h-2zM165.9 236.1h2v2h-2zM191.9 238.1h2v2h-2zM169.9 242.1h2v2h-2zM189.9 242.1h2v2h-2zM183.9 248.1h2v2h-2z"/><path fill="#b3b3f9" d="M159.9 216.1h2v2h-2zM151.9 218.1h2v2h-2zM153.9 220.1h2v2h-2zM165.9 224.1h2v2h-2zM167.9 226.1h2v2h-2zM169.9 228.1h2v2h-2zM161.9 230.1h2v2h-2zM181.9 234.1h2v2h-2zM191.9 234.1h2v2h-2zM191.9 236.1h2v2h-2zM171.9 244.1h2v2h-2zM173.9 246.1h2v2h-2z"/><path fill="#aeaef8" d="M147.9 212.1h2v2h-2zM157.9 214.1h2v2h-2zM155.9 222.1h2v2h-2zM163.9 222.1h2v2h-2zM171.9 230.1h2v2h-2zM163.9 232.1h2v2h-2zM183.9 234.1h2v2h-2zM189.9 234.1h2v2h-2zM187.9 244.1h2v2h-2zM185.9 246.1h2v2h-2zM175.9 248.1h2v2h-2z"/><path fill="#aaaaf8" d="M153.9 210.1h2v2h-2zM155.9 212.1h2v2h-2zM157.9 224.1h2v2h-2zM173.9 232.1h2v2h-2zM177.9 234.1h2v2h-2zM185.9 234.1h4v2h-4zM167.9 238.1h2v2h-2zM189.9 240.1h2v2h-2zM181.9 248.1h2v2h-2z"/><path fill="#a5a5f8" d="M147.9 210.1h2v2h-2zM149.9 214.1h2v2h-2zM161.9 220.1h2v2h-2zM159.9 226.1h2v2h-2zM165.9 234.1h2v2h-2zM189.9 236.1h2v2h-2zM189.9 238.1h2v2h-2zM169.9 240.1h2v2h-2zM175.9 246.1h2v2h-2zM177.9 248.1h2v2h-2z"/><path fill="#a0a0f7" d="M151.9 216.1h2v2h-2zM161.9 228.1h2v2h-2zM171.9 242.1h2v2h-2zM173.9 244.1h2v2h-2zM179.9 248.1h2v2h-2z"/><path fill="#9b9bf7" d="M151.9 210.1h2v2h-2zM149.9 212.1h2v2h-2zM153.9 218.1h2v2h-2zM159.9 218.1h2v2h-2zM155.9 220.1h2v2h-2zM157.9 222.1h2v2h-2zM163.9 224.1h2v2h-2zM165.9 226.1h2v2h-2zM167.9 228.1h2v2h-2zM163.9 230.1h2v2h-2zM187.9 242.1h2v2h-2z"/><path fill="#9797f7" d="M149.9 210.1h2v2h-2zM153.9 212.1h2v2h-2zM157.9 216.1h2v2h-2zM161.9 222.1h2v2h-2zM159.9 224.1h2v2h-2zM169.9 230.1h2v2h-2zM175.9 234.1h2v2h-2zM167.9 236.1h2v2h-2zM179.9 236.1h2v2h-2zM187.9 236.1h2v2h-2zM185.9 244.1h2v2h-2zM183.9 246.1h2v2h-2z"/><path fill="#9292f6" d="M151.9 212.1h2v2h-2zM151.9 214.1h2v2h-2zM155.9 214.1h2v2h-2zM159.9 220.1h2v2h-2zM159.9 222.1h2v2h-2zM161.9 224.1h2v2h-2zM161.9 226.1h4v2h-4zM163.9 228.1h2v2h-2zM165.9 232.1h2v2h-2zM171.9 232.1h2v2h-2zM187.9 240.1h2v2h-2z"/><path fill="#8d8df6" d="M153.9 214.1h2v2h-2zM153.9 216.1h2v2h-2zM155.9 218.1h4v2h-4zM157.9 220.1h2v2h-2zM165.9 228.1h2v2h-2zM165.9 230.1h2v2h-2zM181.9 236.1h6v2h-6zM169.9 238.1h2v2h-2zM187.9 238.1h2v2h-2z"/><path fill="#8888f5" d="M155.9 216.1h2v2h-2zM167.9 230.1h2v2h-2zM167.9 234.1h2v2h-2zM171.9 240.1h2v2h-2zM175.9 244.1h2v2h-2z"/><path fill="#8484f5" d="M167.9 232.1h4v2h-4zM173.9 234.1h2v2h-2zM173.9 242.1h2v2h-2z"/><path fill="#7f7ff5" d="M177.9 236.1h2v2h-2zM185.9 242.1h2v2h-2zM177.9 246.1h2v2h-2zM181.9 246.1h2v2h-2z"/><path fill="#7a7af4" d="M169.9 236.1h2v2h-2zM185.9 238.1h2v2h-2zM179.9 246.1h2v2h-2z"/><path fill="#7575f4" d="M169.9 234.1h4v2h-4zM185.9 240.1h2v2h-2zM183.9 244.1h2v2h-2z"/><path fill="#7171f3" d="M171.9 238.1h2v2h-2zM183.9 238.1h2v2h-2z"/><path fill="#6c6cf3" d="M171.9 236.1h2v2h-2zM175.9 236.1h2v2h-2zM177.9 244.1h2v2h-2z"/><path fill="#6767f3" d="M179.9 238.1h4v2h-4zM173.9 240.1h2v2h-2zM175.9 242.1h2v2h-2z"/><path fill="#6262f2" d="M173.9 236.1h2v2h-2zM183.9 242.1h2v2h-2z"/><path fill="#5e5ef2" d="M173.9 238.1h2v2h-2zM183.9 240.1h2v2h-2zM181.9 244.1h2v2h-2z"/><path fill="#5454f1" d="M177.9 238.1h2v2h-2z"/><path fill="#4f4ff1" d="M175.9 238.1h2v2h-2zM175.9 240.1h2v2h-2zM181.9 240.1h2v2h-2zM179.9 244.1h2v2h-2z"/><path fill="#4b4bf0" d="M177.9 242.1h2v2h-2zM181.9 242.1h2v2h-2z"/><path fill="#4646f0" d="M177.9 240.1h4v2h-4zM179.9 242.1h2v2h-2z"/></g></g>
<g clip-path="url(#c2)"><g filter="url(#sm)"><path fill="#ececfd" d="M264.1 209.8h14v2h-14zM314.1 209.8h2v2h-2zM354.1 209.8h16v2h-16zM264.1 211.8h14v2h-14zM354.1 211.8h16v2h-16zM264.1 213.8h14v2h-14zM354.1 213.8h16v2h-16zM264.1 215.8h14v2h-14zM354.1 215.8h16v2h-16zM264.1 217.8h14v2h-14zM354.1 217.8h16v2h-16zM264.1 219.8h14v2h-14zM354.1 219.8h16v2h-16zM264.1 221.8h14v2h-14zM354.1 221.8h16v2h-16zM264.1 223.8h12v2h-12zM354.1 223.8h16v2h-16zM264.1 225.8h12v2h-12zM356.1 225.8h14v2h-14zM264.1 227.8h8v2h-8zM358.1 227.8h12v2h-12z"/><path fill="#e7e7fd" d="M278.1 209.8h4v2h-4zM310.1 209.8h4v2h-4zM316.1 209.8h4v2h-4zM350.1 209.8h4v2h-4zM278.1 211.8h4v2h-4zM312.1 211.8h8v2h-8zM350.1 211.8h4v2h-4zM278.1 213.8h4v2h-4zM312.1 213.8h6v2h-6zM348.1 213.8h6v2h-6zM278.1 215.8h4v2h-4zM314.1 215.8h4v2h-4zM348.1 215.8h6v2h-6zM278.1 217.8h6v2h-6zM348.1 217.8h6v2h-6zM278.1 219.8h6v2h-6zM348.1 219.8h6v2h-6zM278.1 221.8h6v2h-6zM346.1 221.8h8v2h-8zM276.1 223.8h8v2h-8zM346.1 223.8h8v2h-8zM276.1 225.8h8v2h-8zM346.1 225.8h10v2h-10zM272.1 227.8h12v2h-12zM346.1 227.8h12v2h-12zM264.1 229.8h20v2h-20zM346.1 229.8h24v2h-24zM264.1 231.8h20v2h-20zM346.1 231.8h24v2h-24zM264.1 233.8h20v2h-20zM346.1 233.8h24v2h-24zM264.1 235.8h20v2h-20zM346.1 235.8h24v2h-24zM264.1 237.8h20v2h-20zM348.1 237.8h22v2h-22zM264.1 239.8h18v2h-18zM348.1 239.8h22v2h-22zM264.1 241.8h18v2h-18zM348.1 241.8h22v2h-22zM264.1 243.8h18v2h-18zM348.1 243.8h22v2h-22zM264.1 245.8h18v2h-18zM348.1 245.8h22v2h-22zM264.1 247.8h18v2h-18zM348.1 247.8h22v2h-22zM264.1 249.8h18v2h-18zM348.1 249.8h22v2h-22zM264.1 251.8h18v2h-18zM348.1 251.8h22v2h-22zM264.1 253.8h18v2h-18zM348.1 253.8h22v2h-22zM264.1 255.8h14v2h-14zM352.1 255.8h18v2h-18z"/><path fill="#e3e3fd" d="M282.1 209.8h2v2h-2zM308.1 209.8h2v2h-2zM320.1 209.8h4v2h-4zM348.1 209.8h2v2h-2zM282.1 211.8h2v2h-2zM308.1 211.8h4v2h-4zM320.1 211.8h2v2h-2zM346.1 211.8h4v2h-4zM282.1 213.8h2v2h-2zM310.1 213.8h2v2h-2zM318.1 213.8h4v2h-4zM346.1 213.8h2v2h-2zM282.1 215.8h4v2h-4zM310.1 215.8h4v2h-4zM318.1 215.8h2v2h-2zM346.1 215.8h2v2h-2zM284.1 217.8h2v2h-2zM312.1 217.8h6v2h-6zM346.1 217.8h2v2h-2zM284.1 219.8h2v2h-2zM314.1 219.8h2v2h-2zM344.1 219.8h4v2h-4zM284.1 221.8h2v2h-2zM344.1 221.8h2v2h-2zM284.1 223.8h4v2h-4zM344.1 223.8h2v2h-2zM284.1 225.8h4v2h-4zM344.1 225.8h2v2h-2zM284.1 227.8h4v2h-4zM342.1 227.8h4v2h-4zM284.1 229.8h4v2h-4zM342.1 229.8h4v2h-4zM284.1 231.8h4v2h-4zM342.1 231.8h4v2h-4zM284.1 233.8h4v2h-4zM342.1 233.8h4v2h-4zM284.1 235.8h4v2h-4zM342.1 235.8h4v2h-4zM284.1 237.8h4v2h-4zM342.1 237.8h6v2h-6zM282.1 239.8h6v2h-6zM342.1 239.8h6v2h-6zM282.1 241.8h6v2h-6zM342.1 241.8h6v2h-6zM282.1 243.8h6v2h-6zM342.1 243.8h6v2h-6zM282.1 245.8h8v2h-8zM342.1 245.8h6v2h-6zM282.1 247.8h8v2h-8zM340.1 247.8h8v2h-8zM282.1 249.8h10v2h-10zM338.1 249.8h10v2h-10zM282.1 251.8h12v2h-12zM336.1 251.8h12v2h-12zM282.1 253.8h14v2h-14zM334.1 253.8h14v2h-14zM278.1 255.8h20v2h-20zM332.1 255.8h20v2h-20zM264.1 257.8h36v2h-36zM330.1 257.8h40v2h-40zM264.1 259.8h36v2h-36zM330.1 259.8h40v2h-40zM264.1 261.8h38v2h-38zM328.1 261.8h42v2h-42zM264.1 263.8h40v2h-40zM326.1 263.8h44v2h-44zM264.1 265.8h40v2h-40zM326.1 265.8h44v2h-44zM264.1 267.8h42v2h-42zM324.1 267.8h46v2h-46zM264.1 269.8h42v2h-42zM324.1 269.8h46v2h-46zM264.1 271.8h44v2h-44zM322.1 271.8h48v2h-48zM264.1 273.8h46v2h-46zM320.1 273.8h50v2h-50zM264.1 275.8h106v2h-106zM264.1 277.8h106v2h-106zM264.1 279.8h106v2h-106z"/><path fill="#dedefc" d="M306.1 209.8h2v2h-2zM346.1 209.8h2v2h-2zM284.1 211.8h2v2h-2zM322.1 211.8h2v2h-2zM284.1 213.8h2v2h-2zM308.1 213.8h2v2h-2zM344.1 213.8h2v2h-2zM320.1 215.8h2v2h-2zM344.1 215.8h2v2h-2zM286.1 217.8h2v2h-2zM310.1 217.8h2v2h-2zM318.1 217.8h2v2h-2zM344.1 217.8h2v2h-2zM286.1 219.8h2v2h-2zM312.1 219.8h2v2h-2zM316.1 219.8h2v2h-2zM342.1 219.8h2v2h-2zM286.1 221.8h2v2h-2zM314.1 221.8h2v2h-2zM342.1 221.8h2v2h-2zM288.1 223.8h2v2h-2zM342.1 223.8h2v2h-2zM288.1 225.8h2v2h-2zM342.1 225.8h2v2h-2zM288.1 227.8h2v2h-2zM340.1 227.8h2v2h-2zM288.1 229.8h2v2h-2zM340.1 229.8h2v2h-2zM288.1 231.8h2v2h-2zM340.1 231.8h2v2h-2zM288.1 233.8h2v2h-2zM340.1 233.8h2v2h-2zM288.1 235.8h2v2h-2zM340.1 235.8h2v2h-2zM288.1 237.8h2v2h-2zM340.1 237.8h2v2h-2zM288.1 239.8h2v2h-2zM340.1 239.8h2v2h-2zM288.1 241.8h4v2h-4zM340.1 241.8h2v2h-2zM288.1 243.8h4v2h-4zM338.1 243.8h4v2h-4zM290.1 245.8h2v2h-2zM338.1 245.8h4v2h-4zM290.1 247.8h4v2h-4zM336.1 247.8h4v2h-4zM292.1 249.8h4v2h-4zM334.1 249.8h4v2h-4zM294.1 251.8h4v2h-4zM332.1 251.8h4v2h-4zM296.1 253.8h4v2h-4zM330.1 253.8h4v2h-4zM298.1 255.8h4v2h-4zM328.1 255.8h4v2h-4zM300.1 257.8h4v2h-4zM326.1 257.8h4v2h-4zM300.1 259.8h4v2h-4zM326.1 259.8h4v2h-4zM302.1 261.8h4v2h-4zM324.1 261.8h4v2h-4zM304.1 263.8h4v2h-4zM322.1 263.8h4v2h-4zM304.1 265.8h6v2h-6zM320.1 265.8h6v2h-6zM306.1 267.8h18v2h-18zM306.1 269.8h18v2h-18zM308.1 271.8h14v2h-14zM310.1 273.8h10v2h-10z"/><path fill="#d9d9fc" d="M284.1 209.8h2v2h-2zM324.1 209.8h2v2h-2zM344.1 209.8h2v2h-2zM306.1 211.8h2v2h-2zM344.1 211.8h2v2h-2zM286.1 213.8h2v2h-2zM322.1 213.8h2v2h-2zM286.1 215.8h2v2h-2zM308.1 215.8h2v2h-2zM342.1 215.8h2v2h-2zM320.1 217.8h2v2h-2zM342.1 217.8h2v2h-2zM288.1 219.8h2v2h-2zM310.1 219.8h2v2h-2zM318.1 219.8h2v2h-2zM288.1 221.8h2v2h-2zM312.1 221.8h2v2h-2zM316.1 221.8h2v2h-2zM314.1 223.8h2v2h-2zM340.1 223.8h2v2h-2zM340.1 225.8h2v2h-2zM290.1 227.8h2v2h-2zM290.1 229.8h2v2h-2zM338.1 229.8h2v2h-2zM290.1 231.8h2v2h-2zM338.1 231.8h2v2h-2zM290.1 233.8h2v2h-2zM338.1 233.8h2v2h-2zM290.1 235.8h2v2h-2zM338.1 235.8h2v2h-2zM290.1 237.8h2v2h-2zM338.1 237.8h2v2h-2zM290.1 239.8h2v2h-2zM338.1 239.8h2v2h-2zM292.1 241.8h2v2h-2zM338.1 241.8h2v2h-2zM292.1 243.8h2v2h-2zM336.1 243.8h2v2h-2zM292.1 245.8h4v2h-4zM336.1 245.8h2v2h-2zM294.1 247.8h2v2h-2zM334.1 247.8h2v2h-2zM296.1 249.8h2v2h-2zM332.1 249.8h2v2h-2zM298.1 251.8h2v2h-2zM330.1 251.8h2v2h-2zM300.1 253.8h2v2h-2zM328.1 253.8h2v2h-2zM302.1 255.8h2v2h-2zM326.1 255.8h2v2h-2zM304.1 257.8h2v2h-2zM324.1 257.8h2v2h-2zM304.1 259.8h4v2h-4zM322.1 259.8h4v2h-4zM306.1 261.8h4v2h-4zM320.1 261.8h4v2h-4zM308.1 263.8h6v2h-6zM316.1 263.8h6v2h-6zM310.1 265.8h10v2h-10z"/><path fill="#d4d4fc" d="M304.1 209.8h2v2h-2zM286.1 211.8h2v2h-2zM324.1 211.8h2v2h-2zM306.1 213.8h2v2h-2zM342.1 213.8h2v2h-2zM322.1 215.8h2v2h-2zM288.1 217.8h2v2h-2zM308.1 217.8h2v2h-2zM320.1 219.8h2v2h-2zM340.1 219.8h2v2h-2zM318.1 221.8h2v2h-2zM340.1 221.8h2v2h-2zM290.1 223.8h2v2h-2zM316.1 223.8h2v2h-2zM290.1 225.8h2v2h-2zM338.1 225.8h2v2h-2zM338.1 227.8h2v2h-2zM292.1 231.8h2v2h-2zM292.1 233.8h2v2h-2zM292.1 235.8h2v2h-2zM336.1 235.8h2v2h-2zM292.1 237.8h2v2h-2zM336.1 237.8h2v2h-2zM292.1 239.8h2v2h-2zM336.1 239.8h2v2h-2zM294.1 241.8h2v2h-2zM336.1 241.8h2v2h-2zM294.1 243.8h2v2h-2zM334.1 243.8h2v2h-2zM296.1 245.8h2v2h-2zM334.1 245.8h2v2h-2zM296.1 247.8h2v2h-2zM332.1 247.8h2v2h-2zM298.1 249.8h2v2h-2zM330.1 249.8h2v2h-2zM300.1 251.8h2v2h-2zM328.1 251.8h2v2h-2zM302.1 253.8h2v2h-2zM326.1 253.8h2v2h-2zM304.1 255.8h2v2h-2zM324.1 255.8h2v2h-2zM306.1 257.8h2v2h-2zM322.1 257.8h2v2h-2zM308.1 259.8h2v2h-2zM320.1 259.8h2v2h-2zM310.1 261.8h10v2h-10zM314.1 263.8h2v2h-2z"/><path fill="#d0d0fb" d="M286.1 209.8h2v2h-2zM326.1 209.8h2v2h-2zM304.1 211.8h2v2h-2zM342.1 211.8h2v2h-2zM288.1 213.8h2v2h-2zM324.1 213.8h2v2h-2zM288.1 215.8h2v2h-2zM306.1 215.8h2v2h-2zM322.1 217.8h2v2h-2zM340.1 217.8h2v2h-2zM308.1 219.8h2v2h-2zM290.1 221.8h2v2h-2zM310.1 221.8h2v2h-2zM312.1 223.8h2v2h-2zM338.1 223.8h2v2h-2zM314.1 225.8h2v2h-2zM292.1 227.8h2v2h-2zM292.1 229.8h2v2h-2zM336.1 231.8h2v2h-2zM336.1 233.8h2v2h-2zM294.1 237.8h2v2h-2zM294.1 239.8h2v2h-2zM334.1 239.8h2v2h-2zM334.1 241.8h2v2h-2zM296.1 243.8h2v2h-2zM332.1 245.8h2v2h-2zM298.1 247.8h2v2h-2zM330.1 247.8h2v2h-2zM300.1 249.8h2v2h-2zM328.1 249.8h2v2h-2zM302.1 251.8h2v2h-2zM326.1 251.8h2v2h-2zM304.1 253.8h2v2h-2zM324.1 253.8h2v2h-2zM306.1 255.8h2v2h-2zM322.1 255.8h2v2h-2zM308.1 257.8h4v2h-4zM320.1 257.8h2v2h-2zM310.1 259.8h10v2h-10z"/><path fill="#cbcbfb" d="M302.1 209.8h2v2h-2zM342.1 209.8h2v2h-2zM288.1 211.8h2v2h-2zM326.1 211.8h2v2h-2zM304.1 213.8h2v2h-2zM324.1 215.8h2v2h-2zM340.1 215.8h2v2h-2zM290.1 217.8h2v2h-2zM306.1 217.8h2v2h-2zM290.1 219.8h2v2h-2zM320.1 221.8h2v2h-2zM338.1 221.8h2v2h-2zM318.1 223.8h2v2h-2zM292.1 225.8h2v2h-2zM336.1 227.8h2v2h-2zM336.1 229.8h2v2h-2zM294.1 233.8h2v2h-2zM294.1 235.8h2v2h-2zM334.1 235.8h2v2h-2zM334.1 237.8h2v2h-2zM296.1 241.8h2v2h-2zM332.1 241.8h2v2h-2zM332.1 243.8h2v2h-2zM298.1 245.8h2v2h-2zM330.1 245.8h2v2h-2zM300.1 247.8h2v2h-2zM328.1 247.8h2v2h-2zM302.1 249.8h2v2h-2zM326.1 249.8h2v2h-2zM304.1 251.8h2v2h-2zM324.1 251.8h2v2h-2zM306.1 253.8h2v2h-2zM322.1 253.8h2v2h-2zM308.1 255.8h2v2h-2zM320.1 255.8h2v2h-2zM312.1 257.8h8v2h-8z"/><path fill="#c6c6fa" d="M288.1 209.8h2v2h-2zM302.1 211.8h2v2h-2zM340.1 211.8h2v2h-2zM326.1 213.8h2v2h-2zM340.1 213.8h2v2h-2zM290.1 215.8h2v2h-2zM304.1 215.8h2v2h-2zM322.1 219.8h2v2h-2zM338.1 219.8h2v2h-2zM308.1 221.8h2v2h-2zM292.1 223.8h2v2h-2zM310.1 223.8h2v2h-2zM312.1 225.8h2v2h-2zM316.1 225.8h2v2h-2zM336.1 225.8h2v2h-2zM294.1 229.8h2v2h-2zM294.1 231.8h2v2h-2zM334.1 233.8h2v2h-2zM296.1 237.8h2v2h-2zM296.1 239.8h2v2h-2zM332.1 239.8h2v2h-2zM298.1 243.8h2v2h-2zM330.1 243.8h2v2h-2zM300.1 245.8h2v2h-2zM306.1 251.8h2v2h-2zM308.1 253.8h2v2h-2zM320.1 253.8h2v2h-2zM310.1 255.8h4v2h-4zM316.1 255.8h4v2h-4z"/><path fill="#c1c1fa" d="M328.1 209.8h2v2h-2zM340.1 209.8h2v2h-2zM290.1 213.8h2v2h-2zM338.1 215.8h2v2h-2zM324.1 217.8h2v2h-2zM338.1 217.8h2v2h-2zM306.1 219.8h2v2h-2zM292.1 221.8h2v2h-2zM336.1 223.8h2v2h-2zM294.1 227.8h2v2h-2zM334.1 231.8h2v2h-2zM296.1 235.8h2v2h-2zM332.1 237.8h2v2h-2zM298.1 241.8h2v2h-2zM328.1 245.8h2v2h-2zM302.1 247.8h2v2h-2zM326.1 247.8h2v2h-2zM304.1 249.8h2v2h-2zM324.1 249.8h2v2h-2zM322.1 251.8h2v2h-2zM310.1 253.8h2v2h-2zM318.1 253.8h2v2h-2zM314.1 255.8h2v2h-2z"/><path fill="#bdbdfa" d="M300.1 209.8h2v2h-2zM290.1 211.8h2v2h-2zM328.1 211.8h2v2h-2zM302.1 213.8h2v2h-2zM338.1 213.8h2v2h-2zM326.1 215.8h2v2h-2zM292.1 217.8h2v2h-2zM304.1 217.8h2v2h-2zM292.1 219.8h2v2h-2zM322.1 221.8h2v2h-2zM336.1 221.8h2v2h-2zM320.1 223.8h2v2h-2zM294.1 225.8h2v2h-2zM318.1 225.8h2v2h-2zM314.1 227.8h2v2h-2zM334.1 229.8h2v2h-2zM296.1 233.8h2v2h-2zM332.1 235.8h2v2h-2zM298.1 239.8h2v2h-2zM330.1 241.8h2v2h-2zM300.1 243.8h2v2h-2zM328.1 243.8h2v2h-2zM302.1 245.8h2v2h-2zM304.1 247.8h2v2h-2zM306.1 249.8h2v2h-2zM322.1 249.8h2v2h-2zM308.1 251.8h2v2h-2zM320.1 251.8h2v2h-2zM312.1 253.8h6v2h-6z"/><path fill="#b8b8f9" d="M290.1 209.8h2v2h-2zM300.1 211.8h2v2h-2zM328.1 213.8h2v2h-2zM292.1 215.8h2v2h-2zM302.1 215.8h2v2h-2zM324.1 219.8h2v2h-2zM336.1 219.8h2v2h-2zM294.1 223.8h2v2h-2zM308.1 223.8h2v2h-2zM310.1 225.8h2v2h-2zM316.1 227.8h2v2h-2zM334.1 227.8h2v2h-2zM296.1 231.8h2v2h-2zM332.1 233.8h2v2h-2zM298.1 237.8h2v2h-2zM330.1 239.8h2v2h-2zM326.1 245.8h2v2h-2zM324.1 247.8h2v2h-2zM310.1 251.8h2v2h-2zM318.1 251.8h2v2h-2z"/><path fill="#b3b3f9" d="M330.1 209.8h2v2h-2zM338.1 209.8h2v2h-2zM338.1 211.8h2v2h-2zM292.1 213.8h2v2h-2zM326.1 217.8h2v2h-2zM336.1 217.8h2v2h-2zM304.1 219.8h2v2h-2zM294.1 221.8h2v2h-2zM306.1 221.8h2v2h-2zM334.1 225.8h2v2h-2zM312.1 227.8h2v2h-2zM296.1 229.8h2v2h-2zM332.1 231.8h2v2h-2zM300.1 241.8h2v2h-2zM328.1 241.8h2v2h-2zM302.1 243.8h2v2h-2zM306.1 247.8h2v2h-2zM308.1 249.8h2v2h-2zM320.1 249.8h2v2h-2zM312.1 251.8h6v2h-6z"/><path fill="#aeaef8" d="M298.1 209.8h2v2h-2zM292.1 211.8h2v2h-2zM330.1 211.8h2v2h-2zM300.1 213.8h2v2h-2zM336.1 213.8h2v2h-2zM328.1 215.8h2v2h-2zM336.1 215.8h2v2h-2zM302.1 217.8h2v2h-2zM294.1 219.8h2v2h-2zM322.1 223.8h2v2h-2zM334.1 223.8h2v2h-2zM320.1 225.8h2v2h-2zM296.1 227.8h2v2h-2zM298.1 235.8h2v2h-2zM330.1 237.8h2v2h-2zM300.1 239.8h2v2h-2zM326.1 243.8h2v2h-2zM304.1 245.8h2v2h-2zM324.1 245.8h2v2h-2zM322.1 247.8h2v2h-2zM310.1 249.8h2v2h-2zM318.1 249.8h2v2h-2z"/><path fill="#aaaaf8" d="M292.1 209.8h2v2h-2zM332.1 209.8h2v2h-2zM298.1 211.8h2v2h-2zM336.1 211.8h2v2h-2zM330.1 213.8h2v2h-2zM294.1 215.8h2v2h-2zM300.1 215.8h2v2h-2zM294.1 217.8h2v2h-2zM326.1 219.8h2v2h-2zM334.1 219.8h2v2h-2zM324.1 221.8h2v2h-2zM334.1 221.8h2v2h-2zM296.1 225.8h2v2h-2zM318.1 227.8h2v2h-2zM314.1 229.8h2v2h-2zM332.1 229.8h2v2h-2zM298.1 233.8h2v2h-2zM330.1 235.8h2v2h-2zM312.1 249.8h2v2h-2zM316.1 249.8h2v2h-2z"/><path fill="#a5a5f8" d="M294.1 209.8h4v2h-4zM334.1 209.8h4v2h-4zM294.1 211.8h4v2h-4zM332.1 211.8h4v2h-4zM294.1 213.8h2v2h-2zM298.1 213.8h2v2h-2zM332.1 213.8h4v2h-4zM330.1 215.8h2v2h-2zM334.1 215.8h2v2h-2zM328.1 217.8h2v2h-2zM334.1 217.8h2v2h-2zM302.1 219.8h2v2h-2zM304.1 221.8h2v2h-2zM296.1 223.8h2v2h-2zM306.1 223.8h2v2h-2zM308.1 225.8h2v2h-2zM310.1 227.8h2v2h-2zM332.1 227.8h2v2h-2zM298.1 231.8h2v2h-2zM300.1 237.8h2v2h-2zM328.1 239.8h2v2h-2zM302.1 241.8h2v2h-2zM306.1 245.8h2v2h-2zM308.1 247.8h2v2h-2zM320.1 247.8h2v2h-2zM314.1 249.8h2v2h-2z"/><path fill="#a0a0f7" d="M296.1 213.8h2v2h-2zM296.1 215.8h4v2h-4zM332.1 215.8h2v2h-2zM296.1 217.8h2v2h-2zM300.1 217.8h2v2h-2zM296.1 219.8h2v2h-2zM296.1 221.8h2v2h-2zM332.1 223.8h2v2h-2zM332.1 225.8h2v2h-2zM316.1 229.8h2v2h-2zM330.1 233.8h2v2h-2zM326.1 241.8h2v2h-2zM304.1 243.8h2v2h-2zM322.1 245.8h2v2h-2zM310.1 247.8h2v2h-2z"/><path fill="#9b9bf7" d="M298.1 217.8h2v2h-2zM330.1 217.8h4v2h-4zM300.1 219.8h2v2h-2zM328.1 219.8h2v2h-2zM332.1 219.8h2v2h-2zM326.1 221.8h2v2h-2zM332.1 221.8h2v2h-2zM324.1 223.8h2v2h-2zM322.1 225.8h2v2h-2zM298.1 227.8h2v2h-2zM320.1 227.8h2v2h-2zM298.1 229.8h2v2h-2zM312.1 229.8h2v2h-2zM330.1 231.8h2v2h-2zM300.1 235.8h2v2h-2zM328.1 237.8h2v2h-2zM324.1 243.8h2v2h-2zM318.1 247.8h2v2h-2z"/><path fill="#9797f7" d="M298.1 219.8h2v2h-2zM330.1 219.8h2v2h-2zM298.1 221.8h2v2h-2zM302.1 221.8h2v2h-2zM298.1 223.8h2v2h-2zM304.1 223.8h2v2h-2zM298.1 225.8h2v2h-2zM306.1 225.8h2v2h-2zM330.1 229.8h2v2h-2zM302.1 239.8h2v2h-2zM308.1 245.8h2v2h-2zM312.1 247.8h6v2h-6z"/><path fill="#9292f6" d="M300.1 221.8h2v2h-2zM328.1 221.8h4v2h-4zM326.1 223.8h2v2h-2zM330.1 223.8h2v2h-2zM330.1 225.8h2v2h-2zM308.1 227.8h2v2h-2zM330.1 227.8h2v2h-2zM318.1 229.8h2v2h-2zM300.1 233.8h2v2h-2zM328.1 235.8h2v2h-2zM326.1 239.8h2v2h-2zM304.1 241.8h2v2h-2zM306.1 243.8h2v2h-2zM320.1 245.8h2v2h-2z"/><path fill="#8d8df6" d="M300.1 223.8h4v2h-4zM328.1 223.8h2v2h-2zM324.1 225.8h2v2h-2zM302.1 237.8h2v2h-2zM322.1 243.8h2v2h-2z"/><path fill="#8888f5" d="M300.1 225.8h2v2h-2zM304.1 225.8h2v2h-2zM322.1 227.8h2v2h-2zM300.1 229.8h2v2h-2zM310.1 229.8h2v2h-2zM300.1 231.8h2v2h-2zM314.1 231.8h2v2h-2zM328.1 233.8h2v2h-2zM324.1 241.8h2v2h-2zM310.1 245.8h2v2h-2zM318.1 245.8h2v2h-2z"/><path fill="#8484f5" d="M302.1 225.8h2v2h-2zM326.1 225.8h4v2h-4zM300.1 227.8h2v2h-2zM306.1 227.8h2v2h-2zM328.1 231.8h2v2h-2zM326.1 237.8h2v2h-2z"/><path fill="#7f7ff5" d="M324.1 227.8h2v2h-2zM328.1 227.8h2v2h-2zM320.1 229.8h2v2h-2zM328.1 229.8h2v2h-2zM316.1 231.8h2v2h-2zM302.1 235.8h2v2h-2zM304.1 239.8h2v2h-2zM308.1 243.8h2v2h-2zM312.1 245.8h6v2h-6z"/><path fill="#7a7af4" d="M302.1 227.8h4v2h-4zM326.1 227.8h2v2h-2zM308.1 229.8h2v2h-2zM312.1 231.8h2v2h-2zM302.1 233.8h2v2h-2zM324.1 239.8h2v2h-2zM306.1 241.8h2v2h-2zM320.1 243.8h2v2h-2z"/><path fill="#7575f4" d="M302.1 229.8h2v2h-2zM302.1 231.8h2v2h-2zM318.1 231.8h2v2h-2zM326.1 235.8h2v2h-2zM322.1 241.8h2v2h-2z"/><path fill="#7171f3" d="M306.1 229.8h2v2h-2zM322.1 229.8h2v2h-2zM326.1 229.8h2v2h-2zM326.1 233.8h2v2h-2zM304.1 237.8h2v2h-2zM310.1 243.8h2v2h-2z"/><path fill="#6c6cf3" d="M304.1 229.8h2v2h-2zM324.1 229.8h2v2h-2zM310.1 231.8h2v2h-2zM326.1 231.8h2v2h-2zM318.1 243.8h2v2h-2z"/><path fill="#6767f3" d="M320.1 231.8h2v2h-2zM304.1 235.8h2v2h-2zM324.1 237.8h2v2h-2zM306.1 239.8h2v2h-2zM308.1 241.8h2v2h-2z"/><path fill="#6262f2" d="M304.1 231.8h2v2h-2zM308.1 231.8h2v2h-2zM324.1 231.8h2v2h-2zM304.1 233.8h2v2h-2zM312.1 243.8h2v2h-2zM316.1 243.8h2v2h-2z"/><path fill="#5e5ef2" d="M306.1 231.8h2v2h-2zM322.1 231.8h2v2h-2zM314.1 233.8h4v2h-4zM324.1 235.8h2v2h-2zM322.1 239.8h2v2h-2zM320.1 241.8h2v2h-2zM314.1 243.8h2v2h-2z"/><path fill="#5959f2" d="M312.1 233.8h2v2h-2zM324.1 233.8h2v2h-2z"/><path fill="#5454f1" d="M306.1 233.8h2v2h-2zM318.1 233.8h2v2h-2zM306.1 237.8h2v2h-2zM310.1 241.8h2v2h-2z"/><path fill="#4f4ff1" d="M310.1 233.8h2v2h-2zM320.1 233.8h4v2h-4zM306.1 235.8h2v2h-2zM322.1 237.8h2v2h-2zM308.1 239.8h2v2h-2zM318.1 241.8h2v2h-2z"/><path fill="#4b4bf0" d="M308.1 233.8h2v2h-2zM322.1 235.8h2v2h-2z"/><path fill="#4646f0" d="M308.1 235.8h14v2h-14zM308.1 237.8h14v2h-14zM310.1 239.8h12v2h-12zM312.1 241.8h6v2h-6z"/></g></g>
<g clip-path="url(#c3)"><g filter="url(#sm)"><path fill="#f6f6fe" d="M465.0 209.4h8v2h-8zM467.0 211.4h6v2h-6zM467.0 213.4h6v2h-6zM469.0 215.4h4v2h-4z"/><path fill="#f1f1fe" d="M415.0 209.4h2v2h-2zM459.0 209.4h6v2h-6zM459.0 211.4h8v2h-8zM457.0 213.4h10v2h-10zM457.0 215.4h12v2h-12zM457.0 217.4h16v2h-16zM455.0 219.4h18v2h-18zM455.0 221.4h18v2h-18zM455.0 223.4h18v2h-18zM453.0 225.4h20v2h-20zM453.0 227.4h20v2h-20zM453.0 229.4h20v2h-20zM451.0 231.4h22v2h-22zM451.0 233.4h22v2h-22zM451.0 235.4h22v2h-22zM451.0 237.4h22v2h-22zM451.0 239.4h22v2h-22zM451.0 241.4h22v2h-22zM451.0 243.4h22v2h-22zM451.0 245.4h22v2h-22zM453.0 247.4h20v2h-20zM455.0 249.4h18v2h-18z"/><path fill="#ececfd" d="M409.0 209.4h6v2h-6zM417.0 209.4h8v2h-8zM455.0 209.4h4v2h-4zM413.0 211.4h10v2h-10zM455.0 211.4h4v2h-4zM415.0 213.4h6v2h-6zM453.0 213.4h4v2h-4zM453.0 215.4h4v2h-4zM451.0 217.4h6v2h-6zM451.0 219.4h4v2h-4zM449.0 221.4h6v2h-6zM449.0 223.4h6v2h-6zM447.0 225.4h6v2h-6zM447.0 227.4h6v2h-6zM447.0 229.4h6v2h-6zM445.0 231.4h6v2h-6zM445.0 233.4h6v2h-6zM445.0 235.4h6v2h-6zM445.0 237.4h6v2h-6zM443.0 239.4h8v2h-8zM443.0 241.4h8v2h-8zM443.0 243.4h8v2h-8zM443.0 245.4h8v2h-8zM443.0 247.4h10v2h-10zM441.0 249.4h14v2h-14zM441.0 251.4h32v2h-32zM439.0 253.4h34v2h-34zM439.0 255.4h34v2h-34zM437.0 257.4h36v2h-36zM435.0 259.4h38v2h-38zM435.0 261.4h38v2h-38zM433.0 263.4h40v2h-40zM433.0 265.4h40v2h-40zM433.0 267.4h40v2h-40zM431.0 269.4h42v2h-42zM431.0 271.4h42v2h-42zM433.0 273.4h40v2h-40zM433.0 275.4h40v2h-40zM433.0 277.4h40v2h-40zM435.0 279.4h38v2h-38z"/><path fill="#e7e7fd" d="M407.0 209.4h2v2h-2zM425.0 209.4h4v2h-4zM451.0 209.4h4v2h-4zM409.0 211.4h4v2h-4zM423.0 211.4h4v2h-4zM451.0 211.4h4v2h-4zM411.0 213.4h4v2h-4zM421.0 213.4h4v2h-4zM451.0 213.4h2v2h-2zM415.0 215.4h8v2h-8zM449.0 215.4h4v2h-4zM417.0 217.4h2v2h-2zM449.0 217.4h2v2h-2zM367.0 219.4h2v2h-2zM447.0 219.4h4v2h-4zM367.0 221.4h4v2h-4zM447.0 221.4h2v2h-2zM367.0 223.4h6v2h-6zM445.0 223.4h4v2h-4zM367.0 225.4h8v2h-8zM445.0 225.4h2v2h-2zM367.0 227.4h10v2h-10zM445.0 227.4h2v2h-2zM367.0 229.4h14v2h-14zM443.0 229.4h4v2h-4zM367.0 231.4h16v2h-16zM443.0 231.4h2v2h-2zM367.0 233.4h18v2h-18zM441.0 233.4h4v2h-4zM367.0 235.4h18v2h-18zM441.0 235.4h4v2h-4zM367.0 237.4h20v2h-20zM441.0 237.4h4v2h-4zM367.0 239.4h20v2h-20zM441.0 239.4h2v2h-2zM367.0 241.4h20v2h-20zM441.0 241.4h2v2h-2zM367.0 243.4h20v2h-20zM441.0 243.4h2v2h-2zM367.0 245.4h20v2h-20zM439.0 245.4h4v2h-4zM367.0 247.4h18v2h-18zM439.0 247.4h4v2h-4zM367.0 249.4h18v2h-18zM439.0 249.4h2v2h-2zM367.0 251.4h16v2h-16zM437.0 251.4h4v2h-4zM367.0 253.4h14v2h-14zM435.0 253.4h4v2h-4zM367.0 255.4h12v2h-12zM433.0 255.4h6v2h-6zM367.0 257.4h10v2h-10zM431.0 257.4h6v2h-6zM367.0 259.4h6v2h-6zM429.0 259.4h6v2h-6zM367.0 261.4h2v2h-2zM427.0 261.4h8v2h-8zM427.0 263.4h6v2h-6zM425.0 265.4h8v2h-8zM425.0 267.4h8v2h-8zM423.0 269.4h8v2h-8zM423.0 271.4h8v2h-8zM423.0 273.4h10v2h-10zM421.0 275.4h12v2h-12zM421.0 277.4h12v2h-12zM421.0 279.4h14v2h-14z"/><path fill="#e3e3fd" d="M405.0 209.4h2v2h-2zM429.0 209.4h2v2h-2zM407.0 211.4h2v2h-2zM427.0 211.4h2v2h-2zM449.0 211.4h2v2h-2zM409.0 213.4h2v2h-2zM425.0 213.4h2v2h-2zM449.0 213.4h2v2h-2zM411.0 215.4h4v2h-4zM423.0 215.4h2v2h-2zM447.0 215.4h2v2h-2zM367.0 217.4h2v2h-2zM415.0 217.4h2v2h-2zM419.0 217.4h4v2h-4zM447.0 217.4h2v2h-2zM369.0 219.4h2v2h-2zM417.0 219.4h4v2h-4zM445.0 219.4h2v2h-2zM371.0 221.4h2v2h-2zM445.0 221.4h2v2h-2zM373.0 223.4h2v2h-2zM443.0 223.4h2v2h-2zM375.0 225.4h4v2h-4zM443.0 225.4h2v2h-2zM377.0 227.4h4v2h-4zM443.0 227.4h2v2h-2zM381.0 229.4h2v2h-2zM441.0 229.4h2v2h-2zM383.0 231.4h2v2h-2zM441.0 231.4h2v2h-2zM385.0 233.4h2v2h-2zM439.0 233.4h2v2h-2zM385.0 235.4h4v2h-4zM439.0 235.4h2v2h-2zM387.0 237.4h4v2h-4zM439.0 237.4h2v2h-2zM387.0 239.4h4v2h-4zM439.0 239.4h2v2h-2zM387.0 241.4h4v2h-4zM439.0 241.4h2v2h-2zM387.0 243.4h4v2h-4zM439.0 243.4h2v2h-2zM387.0 245.4h4v2h-4zM437.0 245.4h2v2h-2zM385.0 247.4h6v2h-6zM437.0 247.4h2v2h-2zM385.0 249.4h6v2h-6zM435.0 249.4h4v2h-4zM383.0 251.4h6v2h-6zM433.0 251.4h4v2h-4zM381.0 253.4h6v2h-6zM431.0 253.4h4v2h-4zM379.0 255.4h8v2h-8zM429.0 255.4h4v2h-4zM377.0 257.4h8v2h-8zM427.0 257.4h4v2h-4zM373.0 259.4h10v2h-10zM425.0 259.4h4v2h-4zM369.0 261.4h12v2h-12zM423.0 261.4h4v2h-4zM367.0 263.4h14v2h-14zM423.0 263.4h4v2h-4zM367.0 265.4h12v2h-12zM421.0 265.4h4v2h-4zM367.0 267.4h10v2h-10zM421.0 267.4h4v2h-4zM367.0 269.4h8v2h-8zM419.0 269.4h4v2h-4zM367.0 271.4h6v2h-6zM419.0 271.4h4v2h-4zM367.0 273.4h4v2h-4zM417.0 273.4h6v2h-6zM367.0 275.4h2v2h-2zM417.0 275.4h4v2h-4zM367.0 277.4h2v2h-2zM417.0 277.4h4v2h-4zM415.0 279.4h6v2h-6z"/><path fill="#dedefc" d="M403.0 209.4h2v2h-2zM431.0 209.4h2v2h-2zM449.0 209.4h2v2h-2zM405.0 211.4h2v2h-2zM429.0 211.4h2v2h-2zM407.0 213.4h2v2h-2zM427.0 213.4h2v2h-2zM447.0 213.4h2v2h-2zM367.0 215.4h2v2h-2zM425.0 215.4h2v2h-2zM445.0 215.4h2v2h-2zM369.0 217.4h2v2h-2zM413.0 217.4h2v2h-2zM423.0 217.4h2v2h-2zM445.0 217.4h2v2h-2zM371.0 219.4h2v2h-2zM415.0 219.4h2v2h-2zM421.0 219.4h2v2h-2zM373.0 221.4h2v2h-2zM417.0 221.4h4v2h-4zM443.0 221.4h2v2h-2zM375.0 223.4h4v2h-4zM379.0 225.4h2v2h-2zM441.0 225.4h2v2h-2zM381.0 227.4h2v2h-2zM441.0 227.4h2v2h-2zM383.0 229.4h2v2h-2zM439.0 229.4h2v2h-2zM385.0 231.4h2v2h-2zM439.0 231.4h2v2h-2zM387.0 233.4h2v2h-2zM389.0 235.4h2v2h-2zM391.0 237.4h2v2h-2zM437.0 237.4h2v2h-2zM391.0 239.4h2v2h-2zM437.0 239.4h2v2h-2zM391.0 241.4h4v2h-4zM437.0 241.4h2v2h-2zM391.0 243.4h4v2h-4zM437.0 243.4h2v2h-2zM391.0 245.4h4v2h-4zM435.0 245.4h2v2h-2zM391.0 247.4h4v2h-4zM435.0 247.4h2v2h-2zM391.0 249.4h2v2h-2zM433.0 249.4h2v2h-2zM389.0 251.4h4v2h-4zM431.0 251.4h2v2h-2zM387.0 253.4h4v2h-4zM429.0 253.4h2v2h-2zM387.0 255.4h4v2h-4zM427.0 255.4h2v2h-2zM385.0 257.4h4v2h-4zM425.0 257.4h2v2h-2zM383.0 259.4h4v2h-4zM423.0 259.4h2v2h-2zM381.0 261.4h6v2h-6zM421.0 261.4h2v2h-2zM381.0 263.4h4v2h-4zM419.0 263.4h4v2h-4zM379.0 265.4h4v2h-4zM417.0 265.4h4v2h-4zM377.0 267.4h6v2h-6zM417.0 267.4h4v2h-4zM375.0 269.4h6v2h-6zM415.0 269.4h4v2h-4zM373.0 271.4h6v2h-6zM415.0 271.4h4v2h-4zM371.0 273.4h6v2h-6zM415.0 273.4h2v2h-2zM369.0 275.4h8v2h-8zM413.0 275.4h4v2h-4zM369.0 277.4h6v2h-6zM413.0 277.4h4v2h-4zM367.0 279.4h8v2h-8zM411.0 279.4h4v2h-4z"/><path fill="#d9d9fc" d="M433.0 209.4h2v2h-2zM447.0 209.4h2v2h-2zM367.0 211.4h2v2h-2zM431.0 211.4h2v2h-2zM447.0 211.4h2v2h-2zM367.0 213.4h2v2h-2zM429.0 213.4h2v2h-2zM445.0 213.4h2v2h-2zM369.0 215.4h2v2h-2zM409.0 215.4h2v2h-2zM427.0 215.4h2v2h-2zM371.0 217.4h2v2h-2zM411.0 217.4h2v2h-2zM425.0 217.4h2v2h-2zM443.0 217.4h2v2h-2zM373.0 219.4h2v2h-2zM423.0 219.4h2v2h-2zM443.0 219.4h2v2h-2zM375.0 221.4h2v2h-2zM421.0 221.4h2v2h-2zM441.0 223.4h2v2h-2zM381.0 225.4h2v2h-2zM383.0 227.4h2v2h-2zM439.0 227.4h2v2h-2zM385.0 229.4h2v2h-2zM387.0 231.4h2v2h-2zM389.0 233.4h2v2h-2zM437.0 233.4h2v2h-2zM391.0 235.4h2v2h-2zM437.0 235.4h2v2h-2zM393.0 239.4h2v2h-2zM435.0 241.4h2v2h-2zM395.0 243.4h2v2h-2zM435.0 243.4h2v2h-2zM395.0 245.4h2v2h-2zM395.0 247.4h2v2h-2zM433.0 247.4h2v2h-2zM393.0 249.4h4v2h-4zM431.0 249.4h2v2h-2zM393.0 251.4h2v2h-2zM429.0 251.4h2v2h-2zM391.0 253.4h4v2h-4zM427.0 253.4h2v2h-2zM391.0 255.4h2v2h-2zM423.0 255.4h4v2h-4zM389.0 257.4h4v2h-4zM421.0 257.4h4v2h-4zM387.0 259.4h4v2h-4zM419.0 259.4h4v2h-4zM387.0 261.4h4v2h-4zM417.0 261.4h4v2h-4zM385.0 263.4h4v2h-4zM417.0 263.4h2v2h-2zM383.0 265.4h4v2h-4zM415.0 265.4h2v2h-2zM383.0 267.4h2v2h-2zM413.0 267.4h4v2h-4zM381.0 269.4h4v2h-4zM413.0 269.4h2v2h-2zM379.0 271.4h4v2h-4zM411.0 271.4h4v2h-4zM377.0 273.4h4v2h-4zM411.0 273.4h4v2h-4zM377.0 275.4h4v2h-4zM411.0 275.4h2v2h-2zM375.0 277.4h4v2h-4zM409.0 277.4h4v2h-4zM375.0 279.4h2v2h-2zM409.0 279.4h2v2h-2z"/><path fill="#d4d4fc" d="M367.0 209.4h2v2h-2zM401.0 209.4h2v2h-2zM403.0 211.4h2v2h-2zM445.0 211.4h2v2h-2zM369.0 213.4h2v2h-2zM405.0 213.4h2v2h-2zM407.0 215.4h2v2h-2zM443.0 215.4h2v2h-2zM413.0 219.4h2v2h-2zM441.0 219.4h2v2h-2zM377.0 221.4h2v2h-2zM441.0 221.4h2v2h-2zM379.0 223.4h2v2h-2zM419.0 223.4h2v2h-2zM439.0 225.4h2v2h-2zM385.0 227.4h2v2h-2zM387.0 229.4h2v2h-2zM389.0 231.4h2v2h-2zM437.0 231.4h2v2h-2zM391.0 233.4h2v2h-2zM393.0 237.4h2v2h-2zM435.0 237.4h2v2h-2zM395.0 239.4h2v2h-2zM435.0 239.4h2v2h-2zM395.0 241.4h2v2h-2zM397.0 245.4h2v2h-2zM433.0 245.4h2v2h-2zM397.0 247.4h2v2h-2zM431.0 247.4h2v2h-2zM397.0 249.4h2v2h-2zM429.0 249.4h2v2h-2zM395.0 251.4h4v2h-4zM427.0 251.4h2v2h-2zM395.0 253.4h2v2h-2zM423.0 253.4h4v2h-4zM393.0 255.4h4v2h-4zM421.0 255.4h2v2h-2zM393.0 257.4h2v2h-2zM419.0 257.4h2v2h-2zM391.0 259.4h4v2h-4zM417.0 259.4h2v2h-2zM391.0 261.4h2v2h-2zM415.0 261.4h2v2h-2zM389.0 263.4h2v2h-2zM413.0 263.4h4v2h-4zM387.0 265.4h4v2h-4zM411.0 265.4h4v2h-4zM385.0 267.4h4v2h-4zM411.0 267.4h2v2h-2zM385.0 269.4h2v2h-2zM409.0 269.4h4v2h-4zM383.0 271.4h4v2h-4zM409.0 271.4h2v2h-2zM381.0 273.4h4v2h-4zM409.0 273.4h2v2h-2zM381.0 275.4h2v2h-2zM407.0 275.4h4v2h-4zM379.0 277.4h4v2h-4zM407.0 277.4h2v2h-2zM377.0 279.4h4v2h-4zM405.0 279.4h4v2h-4z"/><path fill="#d0d0fb" d="M435.0 209.4h2v2h-2zM445.0 209.4h2v2h-2zM433.0 211.4h2v2h-2zM443.0 211.4h2v2h-2zM431.0 213.4h2v2h-2zM443.0 213.4h2v2h-2zM371.0 215.4h2v2h-2zM429.0 215.4h2v2h-2zM441.0 215.4h2v2h-2zM373.0 217.4h2v2h-2zM409.0 217.4h2v2h-2zM427.0 217.4h2v2h-2zM441.0 217.4h2v2h-2zM375.0 219.4h2v2h-2zM425.0 219.4h2v2h-2zM415.0 221.4h2v2h-2zM423.0 221.4h2v2h-2zM381.0 223.4h2v2h-2zM417.0 223.4h2v2h-2zM421.0 223.4h2v2h-2zM439.0 223.4h2v2h-2zM383.0 225.4h2v2h-2zM437.0 229.4h2v2h-2zM393.0 235.4h2v2h-2zM435.0 235.4h2v2h-2zM395.0 237.4h2v2h-2zM397.0 241.4h2v2h-2zM433.0 241.4h2v2h-2zM397.0 243.4h2v2h-2zM433.0 243.4h2v2h-2zM399.0 245.4h2v2h-2zM431.0 245.4h2v2h-2zM399.0 247.4h2v2h-2zM429.0 247.4h2v2h-2zM399.0 249.4h2v2h-2zM427.0 249.4h2v2h-2zM399.0 251.4h2v2h-2zM425.0 251.4h2v2h-2zM397.0 253.4h4v2h-4zM421.0 253.4h2v2h-2zM397.0 255.4h4v2h-4zM417.0 255.4h4v2h-4zM395.0 257.4h4v2h-4zM415.0 257.4h4v2h-4zM395.0 259.4h4v2h-4zM413.0 259.4h4v2h-4zM393.0 261.4h4v2h-4zM411.0 261.4h4v2h-4zM391.0 263.4h4v2h-4zM409.0 263.4h4v2h-4zM391.0 265.4h4v2h-4zM409.0 265.4h2v2h-2zM389.0 267.4h4v2h-4zM407.0 267.4h4v2h-4zM387.0 269.4h4v2h-4zM407.0 269.4h2v2h-2zM387.0 271.4h2v2h-2zM405.0 271.4h4v2h-4zM385.0 273.4h4v2h-4zM405.0 273.4h4v2h-4zM383.0 275.4h4v2h-4zM405.0 275.4h2v2h-2zM383.0 277.4h2v2h-2zM403.0 277.4h4v2h-4zM381.0 279.4h4v2h-4zM403.0 279.4h2v2h-2z"/><path fill="#cbcbfb" d="M399.0 209.4h2v2h-2zM437.0 209.4h2v2h-2zM443.0 209.4h2v2h-2zM369.0 211.4h2v2h-2zM401.0 211.4h2v2h-2zM435.0 211.4h2v2h-2zM371.0 213.4h2v2h-2zM403.0 213.4h2v2h-2zM441.0 213.4h2v2h-2zM411.0 219.4h2v2h-2zM379.0 221.4h2v2h-2zM413.0 221.4h2v2h-2zM439.0 221.4h2v2h-2zM419.0 225.4h2v2h-2zM387.0 227.4h2v2h-2zM437.0 227.4h2v2h-2zM389.0 229.4h2v2h-2zM391.0 231.4h2v2h-2zM393.0 233.4h2v2h-2zM435.0 233.4h2v2h-2zM397.0 239.4h2v2h-2zM433.0 239.4h2v2h-2zM399.0 243.4h2v2h-2zM401.0 247.4h2v2h-2zM401.0 249.4h2v2h-2zM401.0 251.4h2v2h-2zM423.0 251.4h2v2h-2zM401.0 253.4h4v2h-4zM419.0 253.4h2v2h-2zM401.0 255.4h4v2h-4zM413.0 255.4h4v2h-4zM399.0 257.4h6v2h-6zM409.0 257.4h6v2h-6zM399.0 259.4h14v2h-14zM397.0 261.4h14v2h-14zM395.0 263.4h14v2h-14zM395.0 265.4h14v2h-14zM393.0 267.4h6v2h-6zM401.0 267.4h6v2h-6zM391.0 269.4h6v2h-6zM401.0 269.4h6v2h-6zM389.0 271.4h6v2h-6zM401.0 271.4h4v2h-4zM389.0 273.4h4v2h-4zM401.0 273.4h4v2h-4zM387.0 275.4h4v2h-4zM399.0 275.4h6v2h-6zM385.0 277.4h4v2h-4zM399.0 277.4h4v2h-4zM385.0 279.4h4v2h-4zM399.0 279.4h4v2h-4z"/><path fill="#c6c6fa" d="M369.0 209.4h2v2h-2zM439.0 209.4h4v2h-4zM437.0 211.4h6v2h-6zM433.0 213.4h2v2h-2zM439.0 213.4h2v2h-2zM373.0 215.4h2v2h-2zM405.0 215.4h2v2h-2zM431.0 215.4h2v2h-2zM439.0 215.4h2v2h-2zM375.0 217.4h2v2h-2zM407.0 217.4h2v2h-2zM429.0 217.4h2v2h-2zM439.0 217.4h2v2h-2zM377.0 219.4h2v2h-2zM427.0 219.4h2v2h-2zM439.0 219.4h2v2h-2zM425.0 221.4h2v2h-2zM383.0 223.4h2v2h-2zM415.0 223.4h2v2h-2zM423.0 223.4h2v2h-2zM385.0 225.4h2v2h-2zM421.0 225.4h2v2h-2zM437.0 225.4h2v2h-2zM435.0 231.4h2v2h-2zM395.0 235.4h2v2h-2zM433.0 237.4h2v2h-2zM399.0 241.4h2v2h-2zM431.0 243.4h2v2h-2zM401.0 245.4h2v2h-2zM429.0 245.4h2v2h-2zM427.0 247.4h2v2h-2zM403.0 249.4h2v2h-2zM425.0 249.4h2v2h-2zM403.0 251.4h4v2h-4zM421.0 251.4h2v2h-2zM405.0 253.4h4v2h-4zM413.0 253.4h6v2h-6zM405.0 255.4h8v2h-8zM405.0 257.4h4v2h-4zM399.0 267.4h2v2h-2zM397.0 269.4h4v2h-4zM395.0 271.4h6v2h-6zM393.0 273.4h8v2h-8zM391.0 275.4h8v2h-8zM389.0 277.4h10v2h-10zM389.0 279.4h10v2h-10z"/><path fill="#c1c1fa" d="M397.0 209.4h2v2h-2zM371.0 211.4h2v2h-2zM435.0 213.4h4v2h-4zM433.0 215.4h2v2h-2zM409.0 219.4h2v2h-2zM381.0 221.4h2v2h-2zM437.0 223.4h2v2h-2zM419.0 227.4h2v2h-2zM391.0 229.4h2v2h-2zM435.0 229.4h2v2h-2zM433.0 235.4h2v2h-2zM397.0 237.4h2v2h-2zM431.0 241.4h2v2h-2zM401.0 243.4h2v2h-2zM403.0 247.4h2v2h-2zM405.0 249.4h2v2h-2zM423.0 249.4h2v2h-2zM407.0 251.4h4v2h-4zM419.0 251.4h2v2h-2zM409.0 253.4h4v2h-4z"/><path fill="#bdbdfa" d="M399.0 211.4h2v2h-2zM373.0 213.4h2v2h-2zM401.0 213.4h2v2h-2zM403.0 215.4h2v2h-2zM435.0 215.4h4v2h-4zM431.0 217.4h2v2h-2zM437.0 217.4h2v2h-2zM379.0 219.4h2v2h-2zM429.0 219.4h2v2h-2zM437.0 219.4h2v2h-2zM411.0 221.4h2v2h-2zM427.0 221.4h2v2h-2zM437.0 221.4h2v2h-2zM425.0 223.4h2v2h-2zM387.0 225.4h2v2h-2zM417.0 225.4h2v2h-2zM389.0 227.4h2v2h-2zM435.0 227.4h2v2h-2zM393.0 231.4h2v2h-2zM395.0 233.4h2v2h-2zM433.0 233.4h2v2h-2zM399.0 239.4h2v2h-2zM429.0 243.4h2v2h-2zM403.0 245.4h2v2h-2zM427.0 245.4h2v2h-2zM425.0 247.4h2v2h-2zM407.0 249.4h2v2h-2zM421.0 249.4h2v2h-2zM411.0 251.4h8v2h-8z"/><path fill="#b8b8f9" d="M371.0 209.4h2v2h-2zM375.0 215.4h2v2h-2zM377.0 217.4h2v2h-2zM405.0 217.4h2v2h-2zM433.0 217.4h4v2h-4zM407.0 219.4h2v2h-2zM385.0 223.4h2v2h-2zM413.0 223.4h2v2h-2zM423.0 225.4h2v2h-2zM435.0 225.4h2v2h-2zM421.0 227.4h2v2h-2zM433.0 231.4h2v2h-2zM397.0 235.4h2v2h-2zM431.0 239.4h2v2h-2zM401.0 241.4h2v2h-2zM405.0 247.4h2v2h-2zM423.0 247.4h2v2h-2zM409.0 249.4h4v2h-4zM419.0 249.4h2v2h-2z"/><path fill="#b3b3f9" d="M395.0 209.4h2v2h-2zM373.0 211.4h2v2h-2zM431.0 219.4h2v2h-2zM435.0 219.4h2v2h-2zM383.0 221.4h2v2h-2zM429.0 221.4h2v2h-2zM435.0 221.4h2v2h-2zM435.0 223.4h2v2h-2zM415.0 225.4h2v2h-2zM399.0 237.4h2v2h-2zM431.0 237.4h2v2h-2zM403.0 243.4h2v2h-2zM405.0 245.4h2v2h-2zM425.0 245.4h2v2h-2zM409.0 247.4h2v2h-2zM413.0 249.4h2v2h-2zM417.0 249.4h2v2h-2z"/><path fill="#aeaef8" d="M397.0 211.4h2v2h-2zM375.0 213.4h2v2h-2zM399.0 213.4h2v2h-2zM381.0 219.4h2v2h-2zM433.0 219.4h2v2h-2zM409.0 221.4h2v2h-2zM427.0 223.4h2v2h-2zM389.0 225.4h2v2h-2zM425.0 225.4h2v2h-2zM391.0 227.4h2v2h-2zM393.0 229.4h2v2h-2zM419.0 229.4h2v2h-2zM433.0 229.4h2v2h-2zM395.0 231.4h2v2h-2zM401.0 239.4h2v2h-2zM429.0 241.4h2v2h-2zM427.0 243.4h2v2h-2zM407.0 247.4h2v2h-2zM421.0 247.4h2v2h-2zM415.0 249.4h2v2h-2z"/><path fill="#aaaaf8" d="M377.0 215.4h2v2h-2zM401.0 215.4h2v2h-2zM379.0 217.4h2v2h-2zM403.0 217.4h2v2h-2zM431.0 221.4h4v2h-4zM387.0 223.4h2v2h-2zM411.0 223.4h2v2h-2zM433.0 223.4h2v2h-2zM433.0 225.4h2v2h-2zM417.0 227.4h2v2h-2zM423.0 227.4h2v2h-2zM433.0 227.4h2v2h-2zM397.0 233.4h2v2h-2zM431.0 235.4h2v2h-2zM403.0 241.4h2v2h-2zM411.0 247.4h2v2h-2z"/><path fill="#a5a5f8" d="M373.0 209.4h2v2h-2zM405.0 219.4h2v2h-2zM385.0 221.4h2v2h-2zM429.0 223.4h4v2h-4zM413.0 225.4h2v2h-2zM421.0 229.4h2v2h-2zM431.0 233.4h2v2h-2zM399.0 235.4h2v2h-2zM429.0 239.4h2v2h-2zM405.0 243.4h2v2h-2zM407.0 245.4h2v2h-2zM423.0 245.4h2v2h-2zM419.0 247.4h2v2h-2z"/><path fill="#a0a0f7" d="M393.0 209.4h2v2h-2zM375.0 211.4h2v2h-2zM395.0 211.4h2v2h-2zM383.0 219.4h2v2h-2zM407.0 221.4h2v2h-2zM391.0 225.4h2v2h-2zM427.0 225.4h2v2h-2zM431.0 225.4h2v2h-2zM393.0 227.4h2v2h-2zM395.0 229.4h2v2h-2zM431.0 231.4h2v2h-2zM401.0 237.4h2v2h-2zM427.0 241.4h2v2h-2zM425.0 243.4h2v2h-2zM413.0 247.4h2v2h-2z"/><path fill="#9b9bf7" d="M377.0 213.4h2v2h-2zM397.0 213.4h2v2h-2zM379.0 215.4h2v2h-2zM399.0 215.4h2v2h-2zM381.0 217.4h2v2h-2zM389.0 223.4h2v2h-2zM409.0 223.4h2v2h-2zM429.0 225.4h2v2h-2zM415.0 227.4h2v2h-2zM425.0 227.4h2v2h-2zM431.0 227.4h2v2h-2zM431.0 229.4h2v2h-2zM397.0 231.4h2v2h-2zM403.0 239.4h2v2h-2zM415.0 247.4h4v2h-4z"/><path fill="#9797f7" d="M375.0 209.4h2v2h-2zM401.0 217.4h2v2h-2zM403.0 219.4h2v2h-2zM387.0 221.4h2v2h-2zM423.0 229.4h2v2h-2zM399.0 233.4h2v2h-2zM429.0 237.4h2v2h-2zM405.0 241.4h2v2h-2zM411.0 245.4h2v2h-2zM421.0 245.4h2v2h-2z"/><path fill="#9292f6" d="M377.0 211.4h2v2h-2zM385.0 219.4h2v2h-2zM405.0 221.4h2v2h-2zM411.0 225.4h2v2h-2zM427.0 227.4h4v2h-4zM417.0 229.4h2v2h-2zM401.0 235.4h2v2h-2zM429.0 235.4h2v2h-2zM407.0 243.4h2v2h-2zM423.0 243.4h2v2h-2zM409.0 245.4h2v2h-2z"/><path fill="#8d8df6" d="M391.0 209.4h2v2h-2zM393.0 211.4h2v2h-2zM379.0 213.4h2v2h-2zM395.0 213.4h2v2h-2zM381.0 215.4h2v2h-2zM383.0 217.4h2v2h-2zM391.0 223.4h2v2h-2zM407.0 223.4h2v2h-2zM393.0 225.4h2v2h-2zM395.0 227.4h2v2h-2zM425.0 229.4h2v2h-2zM429.0 229.4h2v2h-2zM419.0 231.4h4v2h-4zM429.0 231.4h2v2h-2zM429.0 233.4h2v2h-2zM427.0 239.4h2v2h-2zM425.0 241.4h2v2h-2z"/><path fill="#8888f5" d="M397.0 215.4h2v2h-2zM399.0 217.4h2v2h-2zM389.0 221.4h2v2h-2zM413.0 227.4h2v2h-2zM397.0 229.4h2v2h-2zM427.0 229.4h2v2h-2zM399.0 231.4h2v2h-2zM403.0 237.4h2v2h-2zM413.0 245.4h2v2h-2zM419.0 245.4h2v2h-2z"/><path fill="#8484f5" d="M377.0 209.4h2v2h-2zM387.0 219.4h2v2h-2zM401.0 219.4h2v2h-2zM403.0 221.4h2v2h-2zM409.0 225.4h2v2h-2zM423.0 231.4h2v2h-2zM405.0 239.4h2v2h-2z"/><path fill="#7f7ff5" d="M389.0 209.4h2v2h-2zM379.0 211.4h2v2h-2zM391.0 211.4h2v2h-2zM381.0 213.4h2v2h-2zM383.0 215.4h2v2h-2zM385.0 217.4h2v2h-2zM393.0 223.4h2v2h-2zM395.0 225.4h2v2h-2zM415.0 229.4h2v2h-2zM425.0 231.4h4v2h-4zM401.0 233.4h2v2h-2zM427.0 237.4h2v2h-2zM407.0 241.4h2v2h-2zM409.0 243.4h2v2h-2zM421.0 243.4h2v2h-2zM415.0 245.4h4v2h-4z"/><path fill="#7a7af4" d="M393.0 213.4h2v2h-2zM395.0 215.4h2v2h-2zM397.0 217.4h2v2h-2zM391.0 221.4h2v2h-2zM405.0 223.4h2v2h-2zM397.0 227.4h2v2h-2zM411.0 227.4h2v2h-2zM427.0 233.4h2v2h-2zM403.0 235.4h2v2h-2zM427.0 235.4h2v2h-2zM425.0 239.4h2v2h-2z"/><path fill="#7575f4" d="M379.0 209.4h2v2h-2zM387.0 217.4h2v2h-2zM389.0 219.4h2v2h-2zM399.0 219.4h2v2h-2zM401.0 221.4h2v2h-2zM407.0 225.4h2v2h-2zM399.0 229.4h2v2h-2zM417.0 231.4h2v2h-2zM423.0 241.4h2v2h-2z"/><path fill="#7171f3" d="M387.0 209.4h2v2h-2zM381.0 211.4h2v2h-2zM389.0 211.4h2v2h-2zM383.0 213.4h2v2h-2zM391.0 213.4h2v2h-2zM385.0 215.4h2v2h-2zM393.0 215.4h2v2h-2zM393.0 221.4h2v2h-2zM395.0 223.4h2v2h-2zM403.0 223.4h2v2h-2zM397.0 225.4h2v2h-2zM413.0 229.4h2v2h-2zM401.0 231.4h2v2h-2zM417.0 233.4h2v2h-2zM425.0 233.4h2v2h-2zM405.0 237.4h2v2h-2z"/><path fill="#6c6cf3" d="M381.0 209.4h2v2h-2zM385.0 209.4h2v2h-2zM389.0 217.4h2v2h-2zM395.0 217.4h2v2h-2zM391.0 219.4h2v2h-2zM397.0 219.4h2v2h-2zM399.0 221.4h2v2h-2zM399.0 227.4h2v2h-2zM409.0 227.4h2v2h-2zM403.0 233.4h2v2h-2zM419.0 233.4h6v2h-6zM425.0 237.4h2v2h-2zM407.0 239.4h2v2h-2zM419.0 243.4h2v2h-2z"/><path fill="#6767f3" d="M383.0 209.4h2v2h-2zM383.0 211.4h6v2h-6zM385.0 213.4h6v2h-6zM387.0 215.4h6v2h-6zM391.0 217.4h4v2h-4zM393.0 219.4h4v2h-4zM395.0 221.4h4v2h-4zM397.0 223.4h2v2h-2zM401.0 223.4h2v2h-2zM405.0 225.4h2v2h-2zM401.0 229.4h2v2h-2zM425.0 235.4h2v2h-2zM409.0 241.4h2v2h-2zM411.0 243.4h4v2h-4z"/><path fill="#6262f2" d="M399.0 223.4h2v2h-2zM399.0 225.4h2v2h-2zM403.0 225.4h2v2h-2zM415.0 231.4h2v2h-2zM405.0 235.4h2v2h-2zM423.0 239.4h2v2h-2zM421.0 241.4h2v2h-2z"/><path fill="#5e5ef2" d="M401.0 225.4h2v2h-2zM401.0 227.4h2v2h-2zM407.0 227.4h2v2h-2zM411.0 229.4h2v2h-2zM403.0 231.4h2v2h-2z"/><path fill="#5959f2" d="M403.0 227.4h4v2h-4zM403.0 229.4h2v2h-2zM423.0 235.4h2v2h-2zM407.0 237.4h2v2h-2zM415.0 243.4h4v2h-4z"/><path fill="#5454f1" d="M409.0 229.4h2v2h-2zM413.0 231.4h2v2h-2zM405.0 233.4h2v2h-2zM423.0 237.4h2v2h-2zM409.0 239.4h2v2h-2zM411.0 241.4h2v2h-2z"/><path fill="#4f4ff1" d="M405.0 229.4h4v2h-4zM405.0 231.4h2v2h-2zM421.0 235.4h2v2h-2z"/><path fill="#4b4bf0" d="M415.0 233.4h2v2h-2zM407.0 235.4h2v2h-2zM417.0 235.4h4v2h-4zM421.0 239.4h2v2h-2zM419.0 241.4h2v2h-2z"/><path fill="#4646f0" d="M407.0 231.4h6v2h-6zM407.0 233.4h8v2h-8zM409.0 235.4h8v2h-8zM409.0 237.4h14v2h-14zM411.0 239.4h10v2h-10zM413.0 241.4h6v2h-6z"/></g></g>
<rect x="32.00" y="78.50" width="96.40" height="115.50" fill="none" stroke="#4d4d4d" stroke-width="1.0"/>
<rect x="32.00" y="198.00" width="96.40" height="80.20" fill="none" stroke="#4d4d4d" stroke-width="1.0"/>
<path d="M48.00,78.5 v-1.6 M48.00,194.0 v1.6 M48.00,198.0 v-1.6 M48.00,278.2 v1.6 M64.10,78.5 v-1.6 M64.10,194.0 v1.6 M64.10,198.0 v-1.6 M64.10,278.2 v1.6 M80.20,78.5 v-1.6 M80.20,194.0 v1.6 M80.20,198.0 v-1.6 M80.20,278.2 v1.6 M96.30,78.5 v-1.6 M96.30,194.0 v1.6 M96.30,198.0 v-1.6 M96.30,278.2 v1.6 M112.40,78.5 v-1.6 M112.40,194.0 v1.6 M112.40,198.0 v-1.6 M112.40,278.2 v1.6 M32.0,92.90 h-1.6 M32.0,107.30 h-1.6 M32.0,121.70 h-1.6 M32.0,136.10 h-1.6 M32.0,150.50 h-1.6 M32.0,164.90 h-1.6 M32.0,179.30 h-1.6 M32.0,214.40 h-1.6 M128.4,214.40 h1.6 M32.0,230.30 h-1.6 M128.4,230.30 h1.6 M32.0,246.20 h-1.6 M128.4,246.20 h1.6 M32.0,262.10 h-1.6 M128.4,262.10 h1.6" stroke="#4d4d4d" stroke-width="1.0" fill="none"/>
<rect x="133.90" y="78.20" width="96.40" height="115.10" fill="none" stroke="#4d4d4d" stroke-width="1.0"/>
<rect x="133.90" y="197.50" width="96.40" height="80.70" fill="none" stroke="#4d4d4d" stroke-width="1.0"/>
<path d="M149.90,78.2 v-1.6 M149.90,193.3 v1.6 M149.90,197.5 v-1.6 M149.90,278.2 v1.6 M166.00,78.2 v-1.6 M166.00,193.3 v1.6 M166.00,197.5 v-1.6 M166.00,278.2 v1.6 M182.10,78.2 v-1.6 M182.10,193.3 v1.6 M182.10,197.5 v-1.6 M182.10,278.2 v1.6 M198.20,78.2 v-1.6 M198.20,193.3 v1.6 M198.20,197.5 v-1.6 M198.20,278.2 v1.6 M214.30,78.2 v-1.6 M214.30,193.3 v1.6 M214.30,197.5 v-1.6 M214.30,278.2 v1.6 M133.9,214.10 h-1.6 M230.3,214.10 h1.6 M133.9,230.00 h-1.6 M230.3,230.00 h1.6 M133.9,245.90 h-1.6 M230.3,245.90 h1.6 M133.9,261.80 h-1.6 M230.3,261.80 h1.6" stroke="#4d4d4d" stroke-width="1.0" fill="none"/>
<rect x="268.10" y="78.70" width="96.30" height="114.60" fill="none" stroke="#4d4d4d" stroke-width="1.0"/>
<rect x="268.10" y="197.40" width="96.30" height="80.20" fill="none" stroke="#4d4d4d" stroke-width="1.0"/>
<path d="M284.05,78.7 v-1.6 M284.05,193.3 v1.6 M284.05,197.4 v-1.6 M284.05,277.6 v1.6 M300.15,78.7 v-1.6 M300.15,193.3 v1.6 M300.15,197.4 v-1.6 M300.15,277.6 v1.6 M316.25,78.7 v-1.6 M316.25,193.3 v1.6 M316.25,197.4 v-1.6 M316.25,277.6 v1.6 M332.35,78.7 v-1.6 M332.35,193.3 v1.6 M332.35,197.4 v-1.6 M332.35,277.6 v1.6 M348.45,78.7 v-1.6 M348.45,193.3 v1.6 M348.45,197.4 v-1.6 M348.45,277.6 v1.6 M268.1,95.30 h-1.6 M268.1,111.90 h-1.6 M268.1,128.50 h-1.6 M268.1,145.10 h-1.6 M268.1,161.70 h-1.6 M268.1,178.30 h-1.6 M268.1,213.80 h-1.6 M364.4,213.80 h1.6 M268.1,229.70 h-1.6 M364.4,229.70 h1.6 M268.1,245.60 h-1.6 M364.4,245.60 h1.6 M268.1,261.50 h-1.6 M364.4,261.50 h1.6" stroke="#4d4d4d" stroke-width="1.0" fill="none"/>
<rect x="371.00" y="79.00" width="96.60" height="113.60" fill="none" stroke="#4d4d4d" stroke-width="1.0"/>
<rect x="371.00" y="197.20" width="96.60" height="80.20" fill="none" stroke="#4d4d4d" stroke-width="1.0"/>
<path d="M387.10,79.0 v-1.6 M387.10,192.6 v1.6 M387.10,197.2 v-1.6 M387.10,277.4 v1.6 M403.20,79.0 v-1.6 M403.20,192.6 v1.6 M403.20,197.2 v-1.6 M403.20,277.4 v1.6 M419.30,79.0 v-1.6 M419.30,192.6 v1.6 M419.30,197.2 v-1.6 M419.30,277.4 v1.6 M435.40,79.0 v-1.6 M435.40,192.6 v1.6 M435.40,197.2 v-1.6 M435.40,277.4 v1.6 M451.50,79.0 v-1.6 M451.50,192.6 v1.6 M451.50,197.2 v-1.6 M451.50,277.4 v1.6 M371.0,213.40 h-1.6 M467.6,213.40 h1.6 M371.0,229.30 h-1.6 M467.6,229.30 h1.6 M371.0,245.20 h-1.6 M467.6,245.20 h1.6 M371.0,261.10 h-1.6 M467.6,261.10 h1.6" stroke="#4d4d4d" stroke-width="1.0" fill="none"/>
<line x1="32.00" y1="214.4" x2="128.40" y2="214.4" stroke="#555" stroke-width="1.15" stroke-dasharray="8.05 8.05" stroke-dashoffset="4.20"/>
<line x1="133.90" y1="214.1" x2="230.30" y2="214.1" stroke="#555" stroke-width="1.15" stroke-dasharray="16 16" stroke-dashoffset="8.3"/>
<line x1="268.10" y1="213.8" x2="364.40" y2="213.8" stroke="#555" stroke-width="1.15" stroke-dasharray="8.05 8.05" stroke-dashoffset="4.00"/>
<line x1="371.00" y1="213.4" x2="467.60" y2="213.4" stroke="#555" stroke-width="1.15" stroke-dasharray="8.05 8.05" stroke-dashoffset="5.10"/>
<text x="101.52" y="211.4" font-size="11.5" fill="#2b2b2b" font-family='"Liberation Serif", serif'>α</text>
<text x="137.8" y="209.8" font-size="10.5" fill="#2b2b2b" font-family='"Liberation Serif", serif'>γ</text>
<text x="150.5" y="209.6" font-size="10.5" fill="#2b2b2b" font-family='"Liberation Serif", serif'>β</text>
<text x="337.82" y="210.9" font-size="10.5" fill="#2b2b2b" font-family='"Liberation Serif", serif'>α</text>
<text x="375.3" y="209.4" font-size="10.3" fill="#2b2b2b" font-family='"Liberation Serif", serif'>γ<tspan dx="1.6">+</tspan><tspan dx="2.4">β</tspan></text>
<text x="37.90" y="92.10" font-size="9.4" text-anchor="start" font-weight="normal" font-style="normal" fill="#2b2b2b" >LH</text>
<text x="37.90" y="103.20" font-size="9.4" text-anchor="start" font-weight="normal" font-style="normal" fill="#2b2b2b" >polarization</text>
<text x="178.30" y="92.10" font-size="9.4" text-anchor="start" font-weight="normal" font-style="normal" fill="#2b2b2b" >LV</text>
<text x="178.30" y="102.60" font-size="9.4" text-anchor="start" font-weight="normal" font-style="normal" fill="#2b2b2b" >polarization</text>
<text x="274.20" y="89.80" font-size="9.4" text-anchor="start" font-weight="normal" font-style="normal" fill="#2b2b2b" >LH</text>
<text x="274.00" y="100.60" font-size="9.4" text-anchor="start" font-weight="normal" font-style="normal" fill="#2b2b2b" >polarization</text>
<text x="407.10" y="89.30" font-size="9.4" text-anchor="start" font-weight="normal" font-style="normal" fill="#2b2b2b" >LV</text>
<text x="407.10" y="100.20" font-size="9.4" text-anchor="start" font-weight="normal" font-style="normal" fill="#2b2b2b" >polarization</text>
<text x="45.40" y="288.30" font-size="9.2" text-anchor="middle" font-weight="normal" font-style="normal" fill="#2b2b2b" >−0.1</text>
<text x="80.20" y="288.30" font-size="9.2" text-anchor="middle" font-weight="normal" font-style="normal" fill="#2b2b2b" >0</text>
<text x="112.40" y="288.30" font-size="9.2" text-anchor="middle" font-weight="normal" font-style="normal" fill="#2b2b2b" >0.1</text>
<text x="67.90" y="300.2" font-size="9.2" fill="#2b2b2b"><tspan font-style="italic">k</tspan> (Å<tspan font-size="6.2" dy="-3.3">−1</tspan><tspan dy="3.3">)</tspan></text>
<text x="147.30" y="288.30" font-size="9.2" text-anchor="middle" font-weight="normal" font-style="normal" fill="#2b2b2b" >−0.1</text>
<text x="182.10" y="288.30" font-size="9.2" text-anchor="middle" font-weight="normal" font-style="normal" fill="#2b2b2b" >0</text>
<text x="214.30" y="288.30" font-size="9.2" text-anchor="middle" font-weight="normal" font-style="normal" fill="#2b2b2b" >0.1</text>
<text x="169.80" y="300.2" font-size="9.2" fill="#2b2b2b"><tspan font-style="italic">k</tspan> (Å<tspan font-size="6.2" dy="-3.3">−1</tspan><tspan dy="3.3">)</tspan></text>
<text x="281.45" y="288.30" font-size="9.2" text-anchor="middle" font-weight="normal" font-style="normal" fill="#2b2b2b" >−0.1</text>
<text x="316.25" y="288.30" font-size="9.2" text-anchor="middle" font-weight="normal" font-style="normal" fill="#2b2b2b" >0</text>
<text x="348.45" y="288.30" font-size="9.2" text-anchor="middle" font-weight="normal" font-style="normal" fill="#2b2b2b" >0.1</text>
<text x="303.95" y="300.2" font-size="9.2" fill="#2b2b2b"><tspan font-style="italic">k</tspan> (Å<tspan font-size="6.2" dy="-3.3">−1</tspan><tspan dy="3.3">)</tspan></text>
<text x="384.50" y="288.30" font-size="9.2" text-anchor="middle" font-weight="normal" font-style="normal" fill="#2b2b2b" >−0.1</text>
<text x="419.30" y="288.30" font-size="9.2" text-anchor="middle" font-weight="normal" font-style="normal" fill="#2b2b2b" >0</text>
<text x="451.50" y="288.30" font-size="9.2" text-anchor="middle" font-weight="normal" font-style="normal" fill="#2b2b2b" >0.1</text>
<text x="407.00" y="300.2" font-size="9.2" fill="#2b2b2b"><tspan font-style="italic">k</tspan> (Å<tspan font-size="6.2" dy="-3.3">−1</tspan><tspan dy="3.3">)</tspan></text>
<text x="29.30" y="217.70" font-size="9.2" text-anchor="end" font-weight="normal" font-style="normal" fill="#2b2b2b" >0</text>
<text x="29.30" y="249.50" font-size="9.2" text-anchor="end" font-weight="normal" font-style="normal" fill="#2b2b2b" >−0.1</text>
<text x="29.30" y="281.30" font-size="9.2" text-anchor="end" font-weight="normal" font-style="normal" fill="#2b2b2b" >−0.2</text>
<text transform="translate(7.0,241.4) rotate(-90)" font-size="9.2" text-anchor="middle" fill="#2b2b2b"><tspan font-style="italic">E</tspan> − <tspan font-style="italic">E</tspan><tspan font-size="6.2" dy="2.4">F</tspan><tspan dy="-2.4"> (eV)</tspan></text>
<text transform="translate(21.6,136.5) rotate(-90)" font-size="9.2" text-anchor="middle" fill="#2b2b2b">Intensity (a.u.)</text>
<line x1="246.9" y1="68" x2="246.9" y2="272.6" stroke="#9e4a7c" stroke-width="1.9" stroke-dasharray="6.8 6.8" stroke-dashoffset="3"/>
<defs><linearGradient id="cb" x1="0" x2="1" y1="0" y2="0"><stop offset="0" stop-color="#ffffff"/><stop offset="1" stop-color="#3a3aec"/></linearGradient></defs>
<rect x="215.3" y="291.2" width="63.5" height="10.3" fill="url(#cb)" stroke="#444" stroke-width="0.9"/>
<text x="207.40" y="311.60" font-size="9.2" text-anchor="start" font-weight="normal" font-style="normal" fill="#2b2b2b" >Min.</text>
<text x="269.80" y="311.60" font-size="9.2" text-anchor="start" font-weight="normal" font-style="normal" fill="#2b2b2b" >Max.</text>
<circle cx="550.39" cy="83.80" r="1.1" fill="none" stroke="#444" stroke-width="0.45" opacity="1.0"/><circle cx="601.83" cy="99.69" r="1.1" fill="none" stroke="#444" stroke-width="0.45" opacity="1.0"/><circle cx="539.85" cy="83.04" r="1.1" fill="none" stroke="#444" stroke-width="0.45" opacity="1.0"/><circle cx="630.89" cy="106.93" r="1.1" fill="none" stroke="#444" stroke-width="0.45" opacity="1.0"/><circle cx="549.35" cy="84.44" r="1.1" fill="none" stroke="#444" stroke-width="0.45" opacity="1.0"/><circle cx="615.85" cy="102.62" r="1.1" fill="none" stroke="#444" stroke-width="0.45" opacity="1.0"/><circle cx="575.26" cy="93.18" r="1.1" fill="none" stroke="#444" stroke-width="0.45" opacity="1.0"/><circle cx="596.14" cy="99.06" r="1.1" fill="none" stroke="#444" stroke-width="0.45" opacity="1.0"/><circle cx="616.16" cy="103.73" r="1.1" fill="none" stroke="#444" stroke-width="0.45" opacity="1.0"/><circle cx="526.63" cy="77.04" r="1.1" fill="none" stroke="#444" stroke-width="0.45" opacity="1.0"/><circle cx="570.16" cy="91.31" r="1.1" fill="none" stroke="#444" stroke-width="0.45" opacity="1.0"/><circle cx="640.48" cy="110.29" r="1.1" fill="none" stroke="#444" stroke-width="0.45" opacity="1.0"/><circle cx="630.86" cy="107.42" r="1.1" fill="none" stroke="#444" stroke-width="0.45" opacity="1.0"/><circle cx="633.22" cy="107.62" r="1.1" fill="none" stroke="#444" stroke-width="0.45" opacity="1.0"/><circle cx="614.84" cy="101.80" r="1.1" fill="none" stroke="#444" stroke-width="0.45" opacity="1.0"/><circle cx="545.77" cy="84.83" r="1.1" fill="none" stroke="#444" stroke-width="0.45" opacity="1.0"/><circle cx="636.78" cy="107.01" r="1.1" fill="none" stroke="#444" stroke-width="0.45" opacity="1.0"/><circle cx="605.74" cy="101.30" r="1.1" fill="none" stroke="#444" stroke-width="0.45" opacity="1.0"/><circle cx="534.85" cy="80.98" r="1.1" fill="none" stroke="#444" stroke-width="0.45" opacity="1.0"/><circle cx="643.25" cy="110.72" r="1.1" fill="none" stroke="#444" stroke-width="0.45" opacity="1.0"/><circle cx="602.87" cy="99.93" r="1.1" fill="none" stroke="#444" stroke-width="0.45" opacity="1.0"/><circle cx="572.63" cy="91.50" r="1.1" fill="none" stroke="#444" stroke-width="0.45" opacity="1.0"/><circle cx="586.78" cy="94.33" r="1.1" fill="none" stroke="#444" stroke-width="0.45" opacity="1.0"/><circle cx="571.66" cy="90.67" r="1.1" fill="none" stroke="#444" stroke-width="0.45" opacity="1.0"/><circle cx="525.59" cy="78.10" r="1.1" fill="none" stroke="#444" stroke-width="0.45" opacity="1.0"/><circle cx="527.52" cy="78.94" r="1.1" fill="none" stroke="#444" stroke-width="0.45" opacity="1.0"/><circle cx="585.67" cy="95.10" r="1.1" fill="none" stroke="#444" stroke-width="0.45" opacity="1.0"/><circle cx="544.12" cy="83.73" r="1.1" fill="none" stroke="#444" stroke-width="0.45" opacity="1.0"/><circle cx="613.70" cy="102.19" r="1.1" fill="none" stroke="#444" stroke-width="0.45" opacity="1.0"/><circle cx="591.05" cy="96.97" r="1.1" fill="none" stroke="#444" stroke-width="0.45" opacity="1.0"/><circle cx="559.52" cy="86.85" r="1.1" fill="none" stroke="#444" stroke-width="0.45" opacity="1.0"/><circle cx="651.60" cy="111.93" r="1.1" fill="none" stroke="#444" stroke-width="0.45" opacity="1.0"/><circle cx="656.26" cy="114.76" r="1.1" fill="none" stroke="#444" stroke-width="0.45" opacity="1.0"/><circle cx="626.95" cy="106.07" r="1.1" fill="none" stroke="#444" stroke-width="0.45" opacity="1.0"/><circle cx="640.39" cy="109.60" r="1.1" fill="none" stroke="#444" stroke-width="0.45" opacity="1.0"/><circle cx="608.89" cy="99.75" r="1.1" fill="none" stroke="#444" stroke-width="0.45" opacity="1.0"/><circle cx="572.89" cy="91.10" r="1.1" fill="none" stroke="#444" stroke-width="0.45" opacity="1.0"/><circle cx="640.45" cy="110.99" r="1.1" fill="none" stroke="#444" stroke-width="0.45" opacity="1.0"/><circle cx="649.17" cy="111.42" r="1.1" fill="none" stroke="#444" stroke-width="0.45" opacity="1.0"/><circle cx="625.94" cy="104.86" r="1.1" fill="none" stroke="#444" stroke-width="0.45" opacity="1.0"/><circle cx="622.79" cy="103.44" r="1.1" fill="none" stroke="#444" stroke-width="0.45" opacity="1.0"/><circle cx="571.23" cy="90.90" r="1.1" fill="none" stroke="#444" stroke-width="0.45" opacity="1.0"/><circle cx="597.77" cy="97.78" r="1.1" fill="none" stroke="#444" stroke-width="0.45" opacity="1.0"/><circle cx="569.48" cy="90.68" r="1.1" fill="none" stroke="#444" stroke-width="0.45" opacity="1.0"/><circle cx="567.62" cy="91.04" r="1.1" fill="none" stroke="#444" stroke-width="0.45" opacity="1.0"/><circle cx="573.47" cy="91.49" r="1.1" fill="none" stroke="#444" stroke-width="0.45" opacity="1.0"/><circle cx="557.05" cy="87.28" r="1.1" fill="none" stroke="#444" stroke-width="0.45" opacity="1.0"/><circle cx="542.77" cy="84.22" r="1.1" fill="none" stroke="#444" stroke-width="0.45" opacity="1.0"/><circle cx="525.76" cy="79.54" r="1.1" fill="none" stroke="#444" stroke-width="0.45" opacity="1.0"/><circle cx="583.83" cy="93.62" r="1.1" fill="none" stroke="#444" stroke-width="0.45" opacity="1.0"/><circle cx="600.16" cy="98.51" r="1.1" fill="none" stroke="#444" stroke-width="0.45" opacity="1.0"/><circle cx="533.59" cy="81.46" r="1.1" fill="none" stroke="#444" stroke-width="0.45" opacity="1.0"/><circle cx="564.75" cy="88.73" r="1.1" fill="none" stroke="#444" stroke-width="0.45" opacity="1.0"/><circle cx="597.84" cy="99.42" r="1.1" fill="none" stroke="#444" stroke-width="0.45" opacity="1.0"/><circle cx="649.01" cy="110.61" r="1.1" fill="none" stroke="#444" stroke-width="0.45" opacity="1.0"/><circle cx="602.09" cy="100.91" r="1.1" fill="none" stroke="#444" stroke-width="0.45" opacity="1.0"/><circle cx="535.40" cy="81.94" r="1.1" fill="none" stroke="#444" stroke-width="0.45" opacity="1.0"/><circle cx="655.64" cy="114.54" r="1.1" fill="none" stroke="#444" stroke-width="0.45" opacity="1.0"/><circle cx="572.10" cy="91.35" r="1.1" fill="none" stroke="#444" stroke-width="0.45" opacity="1.0"/><circle cx="639.85" cy="108.32" r="1.1" fill="none" stroke="#444" stroke-width="0.45" opacity="1.0"/><circle cx="533.78" cy="79.07" r="1.1" fill="none" stroke="#444" stroke-width="0.45" opacity="1.0"/><circle cx="561.35" cy="88.53" r="1.1" fill="none" stroke="#444" stroke-width="0.45" opacity="1.0"/><circle cx="558.92" cy="88.23" r="1.1" fill="none" stroke="#444" stroke-width="0.45" opacity="1.0"/><circle cx="560.32" cy="88.14" r="1.1" fill="none" stroke="#444" stroke-width="0.45" opacity="1.0"/><circle cx="618.13" cy="103.65" r="1.1" fill="none" stroke="#444" stroke-width="0.45" opacity="1.0"/><circle cx="551.35" cy="86.57" r="1.1" fill="none" stroke="#444" stroke-width="0.45" opacity="1.0"/><circle cx="604.68" cy="100.74" r="1.1" fill="none" stroke="#444" stroke-width="0.45" opacity="1.0"/><circle cx="550.86" cy="84.57" r="1.1" fill="none" stroke="#444" stroke-width="0.45" opacity="1.0"/><circle cx="622.04" cy="105.70" r="1.1" fill="none" stroke="#444" stroke-width="0.45" opacity="1.0"/><circle cx="535.31" cy="81.12" r="1.1" fill="none" stroke="#444" stroke-width="0.45" opacity="1.0"/><circle cx="617.89" cy="141.64" r="1.4" fill="none" stroke="#e0484c" stroke-width="0.5" opacity="0.8"/><circle cx="540.52" cy="89.10" r="1.4" fill="none" stroke="#e0484c" stroke-width="0.5" opacity="0.8"/><circle cx="546.44" cy="89.66" r="1.4" fill="none" stroke="#e0484c" stroke-width="0.5" opacity="0.8"/><circle cx="598.39" cy="126.50" r="1.4" fill="none" stroke="#e0484c" stroke-width="0.5" opacity="0.8"/><circle cx="630.93" cy="148.92" r="1.4" fill="none" stroke="#e0484c" stroke-width="0.5" opacity="0.8"/><circle cx="610.97" cy="137.74" r="1.4" fill="none" stroke="#e0484c" stroke-width="0.5" opacity="0.8"/><circle cx="599.43" cy="125.29" r="1.4" fill="none" stroke="#e0484c" stroke-width="0.5" opacity="0.8"/><circle cx="563.64" cy="107.45" r="1.4" fill="none" stroke="#e0484c" stroke-width="0.5" opacity="0.8"/><circle cx="531.41" cy="84.19" r="1.4" fill="none" stroke="#e0484c" stroke-width="0.5" opacity="0.8"/><circle cx="596.83" cy="127.00" r="1.4" fill="none" stroke="#e0484c" stroke-width="0.5" opacity="0.8"/><circle cx="563.27" cy="101.94" r="1.4" fill="none" stroke="#e0484c" stroke-width="0.5" opacity="0.8"/><circle cx="554.36" cy="99.60" r="1.4" fill="none" stroke="#e0484c" stroke-width="0.5" opacity="0.8"/><circle cx="578.09" cy="120.10" r="1.4" fill="none" stroke="#e0484c" stroke-width="0.5" opacity="0.8"/><circle cx="589.68" cy="122.52" r="1.4" fill="none" stroke="#e0484c" stroke-width="0.5" opacity="0.8"/><circle cx="608.08" cy="134.95" r="1.4" fill="none" stroke="#e0484c" stroke-width="0.5" opacity="0.8"/><circle cx="562.65" cy="105.95" r="1.4" fill="none" stroke="#e0484c" stroke-width="0.5" opacity="0.8"/><circle cx="541.21" cy="91.86" r="1.4" fill="none" stroke="#e0484c" stroke-width="0.5" opacity="0.8"/><circle cx="613.03" cy="140.70" r="1.4" fill="none" stroke="#e0484c" stroke-width="0.5" opacity="0.8"/><circle cx="573.47" cy="114.06" r="1.4" fill="none" stroke="#e0484c" stroke-width="0.5" opacity="0.8"/><circle cx="586.75" cy="117.59" r="1.4" fill="none" stroke="#e0484c" stroke-width="0.5" opacity="0.8"/><circle cx="600.40" cy="127.29" r="1.4" fill="none" stroke="#e0484c" stroke-width="0.5" opacity="0.8"/><circle cx="593.98" cy="122.89" r="1.4" fill="none" stroke="#e0484c" stroke-width="0.5" opacity="0.8"/><circle cx="554.45" cy="102.99" r="1.4" fill="none" stroke="#e0484c" stroke-width="0.5" opacity="0.8"/><circle cx="606.61" cy="133.23" r="1.4" fill="none" stroke="#e0484c" stroke-width="0.5" opacity="0.8"/><circle cx="560.36" cy="99.19" r="1.4" fill="none" stroke="#e0484c" stroke-width="0.5" opacity="0.8"/><circle cx="613.65" cy="139.99" r="1.4" fill="none" stroke="#e0484c" stroke-width="0.5" opacity="0.8"/><circle cx="556.80" cy="100.67" r="1.4" fill="none" stroke="#e0484c" stroke-width="0.5" opacity="0.8"/><circle cx="584.98" cy="120.25" r="1.4" fill="none" stroke="#e0484c" stroke-width="0.5" opacity="0.8"/><circle cx="525.84" cy="80.80" r="1.4" fill="none" stroke="#e0484c" stroke-width="0.5" opacity="0.8"/><circle cx="579.51" cy="113.24" r="1.4" fill="none" stroke="#e0484c" stroke-width="0.5" opacity="0.8"/><circle cx="566.49" cy="103.81" r="1.4" fill="none" stroke="#e0484c" stroke-width="0.5" opacity="0.8"/><circle cx="638.60" cy="153.87" r="1.4" fill="none" stroke="#e0484c" stroke-width="0.5" opacity="0.8"/><circle cx="535.14" cy="91.20" r="1.4" fill="none" stroke="#e0484c" stroke-width="0.5" opacity="0.8"/><circle cx="528.01" cy="83.22" r="1.4" fill="none" stroke="#e0484c" stroke-width="0.5" opacity="0.8"/><circle cx="582.51" cy="118.11" r="1.4" fill="none" stroke="#e0484c" stroke-width="0.5" opacity="0.8"/><circle cx="588.65" cy="123.77" r="1.4" fill="none" stroke="#e0484c" stroke-width="0.5" opacity="0.8"/><circle cx="566.85" cy="112.64" r="1.4" fill="none" stroke="#e0484c" stroke-width="0.5" opacity="0.8"/><circle cx="541.97" cy="93.30" r="1.4" fill="none" stroke="#e0484c" stroke-width="0.5" opacity="0.8"/><circle cx="630.77" cy="151.84" r="1.4" fill="none" stroke="#e0484c" stroke-width="0.5" opacity="0.8"/><circle cx="543.44" cy="96.61" r="1.4" fill="none" stroke="#e0484c" stroke-width="0.5" opacity="0.8"/><circle cx="552.70" cy="99.18" r="1.4" fill="none" stroke="#e0484c" stroke-width="0.5" opacity="0.8"/><circle cx="637.77" cy="149.37" r="1.4" fill="none" stroke="#e0484c" stroke-width="0.5" opacity="0.8"/><circle cx="564.39" cy="105.92" r="1.4" fill="none" stroke="#e0484c" stroke-width="0.5" opacity="0.8"/><circle cx="616.86" cy="137.37" r="1.4" fill="none" stroke="#e0484c" stroke-width="0.5" opacity="0.8"/><circle cx="628.70" cy="147.52" r="1.4" fill="none" stroke="#e0484c" stroke-width="0.5" opacity="0.8"/><circle cx="537.20" cy="88.43" r="1.4" fill="none" stroke="#e0484c" stroke-width="0.5" opacity="0.8"/><circle cx="599.03" cy="127.15" r="1.4" fill="none" stroke="#e0484c" stroke-width="0.5" opacity="0.8"/><circle cx="571.01" cy="110.68" r="1.4" fill="none" stroke="#e0484c" stroke-width="0.5" opacity="0.8"/><circle cx="589.68" cy="121.42" r="1.4" fill="none" stroke="#e0484c" stroke-width="0.5" opacity="0.8"/><circle cx="571.94" cy="115.77" r="1.4" fill="none" stroke="#e0484c" stroke-width="0.5" opacity="0.8"/><circle cx="596.92" cy="123.87" r="1.4" fill="none" stroke="#e0484c" stroke-width="0.5" opacity="0.8"/><circle cx="550.57" cy="97.04" r="1.4" fill="none" stroke="#e0484c" stroke-width="0.5" opacity="0.8"/><circle cx="574.69" cy="114.35" r="1.4" fill="none" stroke="#e0484c" stroke-width="0.5" opacity="0.8"/><circle cx="551.41" cy="98.78" r="1.4" fill="none" stroke="#e0484c" stroke-width="0.5" opacity="0.8"/><circle cx="598.71" cy="131.71" r="1.4" fill="none" stroke="#e0484c" stroke-width="0.5" opacity="0.8"/><circle cx="559.12" cy="104.21" r="1.4" fill="none" stroke="#e0484c" stroke-width="0.5" opacity="0.8"/><circle cx="590.30" cy="122.39" r="1.4" fill="none" stroke="#e0484c" stroke-width="0.5" opacity="0.8"/><circle cx="542.82" cy="95.27" r="1.4" fill="none" stroke="#e0484c" stroke-width="0.5" opacity="0.8"/><circle cx="555.54" cy="96.57" r="1.4" fill="none" stroke="#e0484c" stroke-width="0.5" opacity="0.8"/><circle cx="611.23" cy="136.69" r="1.4" fill="none" stroke="#e0484c" stroke-width="0.5" opacity="0.8"/><circle cx="562.93" cy="103.21" r="1.4" fill="none" stroke="#e0484c" stroke-width="0.5" opacity="0.8"/><circle cx="580.64" cy="117.38" r="1.4" fill="none" stroke="#e0484c" stroke-width="0.5" opacity="0.8"/><circle cx="603.32" cy="129.87" r="1.4" fill="none" stroke="#e0484c" stroke-width="0.5" opacity="0.8"/><circle cx="593.52" cy="121.49" r="1.4" fill="none" stroke="#e0484c" stroke-width="0.5" opacity="0.8"/><circle cx="626.33" cy="146.39" r="1.4" fill="none" stroke="#e0484c" stroke-width="0.5" opacity="0.8"/><circle cx="548.93" cy="97.71" r="1.4" fill="none" stroke="#e0484c" stroke-width="0.5" opacity="0.8"/><circle cx="614.48" cy="136.39" r="1.4" fill="none" stroke="#e0484c" stroke-width="0.5" opacity="0.8"/><circle cx="624.09" cy="146.02" r="1.4" fill="none" stroke="#e0484c" stroke-width="0.5" opacity="0.8"/><circle cx="569.02" cy="106.91" r="1.4" fill="none" stroke="#5068b8" stroke-width="0.5" opacity="0.8"/><circle cx="646.85" cy="155.98" r="1.4" fill="none" stroke="#5068b8" stroke-width="0.5" opacity="0.8"/><circle cx="535.88" cy="85.68" r="1.4" fill="none" stroke="#5068b8" stroke-width="0.5" opacity="0.8"/><circle cx="619.44" cy="137.66" r="1.4" fill="none" stroke="#5068b8" stroke-width="0.5" opacity="0.8"/><circle cx="546.02" cy="92.68" r="1.4" fill="none" stroke="#5068b8" stroke-width="0.5" opacity="0.8"/><circle cx="545.18" cy="93.31" r="1.4" fill="none" stroke="#5068b8" stroke-width="0.5" opacity="0.8"/><circle cx="573.85" cy="111.81" r="1.4" fill="none" stroke="#5068b8" stroke-width="0.5" opacity="0.8"/><circle cx="636.22" cy="147.47" r="1.4" fill="none" stroke="#5068b8" stroke-width="0.5" opacity="0.8"/><circle cx="625.89" cy="142.70" r="1.4" fill="none" stroke="#5068b8" stroke-width="0.5" opacity="0.8"/><circle cx="614.09" cy="137.14" r="1.4" fill="none" stroke="#5068b8" stroke-width="0.5" opacity="0.8"/><circle cx="561.44" cy="101.64" r="1.4" fill="none" stroke="#5068b8" stroke-width="0.5" opacity="0.8"/><circle cx="584.31" cy="116.06" r="1.4" fill="none" stroke="#5068b8" stroke-width="0.5" opacity="0.8"/><circle cx="571.20" cy="108.07" r="1.4" fill="none" stroke="#5068b8" stroke-width="0.5" opacity="0.8"/><circle cx="590.85" cy="119.24" r="1.4" fill="none" stroke="#5068b8" stroke-width="0.5" opacity="0.8"/><circle cx="550.42" cy="92.89" r="1.4" fill="none" stroke="#5068b8" stroke-width="0.5" opacity="0.8"/><circle cx="613.62" cy="135.08" r="1.4" fill="none" stroke="#5068b8" stroke-width="0.5" opacity="0.8"/><circle cx="551.81" cy="94.74" r="1.4" fill="none" stroke="#5068b8" stroke-width="0.5" opacity="0.8"/><circle cx="547.72" cy="89.94" r="1.4" fill="none" stroke="#5068b8" stroke-width="0.5" opacity="0.8"/><circle cx="575.46" cy="105.59" r="1.4" fill="none" stroke="#5068b8" stroke-width="0.5" opacity="0.8"/><circle cx="574.99" cy="109.87" r="1.4" fill="none" stroke="#5068b8" stroke-width="0.5" opacity="0.8"/><circle cx="559.54" cy="103.93" r="1.4" fill="none" stroke="#5068b8" stroke-width="0.5" opacity="0.8"/><circle cx="618.91" cy="137.08" r="1.4" fill="none" stroke="#5068b8" stroke-width="0.5" opacity="0.8"/><circle cx="566.19" cy="104.82" r="1.4" fill="none" stroke="#5068b8" stroke-width="0.5" opacity="0.8"/><circle cx="542.73" cy="90.50" r="1.4" fill="none" stroke="#5068b8" stroke-width="0.5" opacity="0.8"/><circle cx="539.77" cy="85.15" r="1.4" fill="none" stroke="#5068b8" stroke-width="0.5" opacity="0.8"/><circle cx="598.81" cy="124.93" r="1.4" fill="none" stroke="#5068b8" stroke-width="0.5" opacity="0.8"/><circle cx="576.50" cy="113.79" r="1.4" fill="none" stroke="#5068b8" stroke-width="0.5" opacity="0.8"/><circle cx="609.91" cy="132.36" r="1.4" fill="none" stroke="#5068b8" stroke-width="0.5" opacity="0.8"/><circle cx="597.36" cy="121.19" r="1.4" fill="none" stroke="#5068b8" stroke-width="0.5" opacity="0.8"/><circle cx="647.77" cy="155.50" r="1.4" fill="none" stroke="#5068b8" stroke-width="0.5" opacity="0.8"/><circle cx="635.32" cy="148.04" r="1.4" fill="none" stroke="#5068b8" stroke-width="0.5" opacity="0.8"/><circle cx="571.40" cy="105.49" r="1.4" fill="none" stroke="#5068b8" stroke-width="0.5" opacity="0.8"/><circle cx="583.00" cy="116.86" r="1.4" fill="none" stroke="#5068b8" stroke-width="0.5" opacity="0.8"/><circle cx="579.12" cy="112.09" r="1.4" fill="none" stroke="#5068b8" stroke-width="0.5" opacity="0.8"/><circle cx="581.95" cy="118.69" r="1.4" fill="none" stroke="#5068b8" stroke-width="0.5" opacity="0.8"/><circle cx="535.40" cy="90.00" r="1.4" fill="none" stroke="#5068b8" stroke-width="0.5" opacity="0.8"/><circle cx="604.70" cy="130.19" r="1.4" fill="none" stroke="#5068b8" stroke-width="0.5" opacity="0.8"/><circle cx="605.05" cy="128.36" r="1.4" fill="none" stroke="#5068b8" stroke-width="0.5" opacity="0.8"/><circle cx="578.15" cy="111.88" r="1.4" fill="none" stroke="#5068b8" stroke-width="0.5" opacity="0.8"/><circle cx="548.16" cy="93.90" r="1.4" fill="none" stroke="#5068b8" stroke-width="0.5" opacity="0.8"/><circle cx="631.75" cy="147.08" r="1.4" fill="none" stroke="#5068b8" stroke-width="0.5" opacity="0.8"/><circle cx="540.49" cy="83.38" r="1.4" fill="none" stroke="#5068b8" stroke-width="0.5" opacity="0.8"/><circle cx="614.63" cy="133.88" r="1.4" fill="none" stroke="#5068b8" stroke-width="0.5" opacity="0.8"/><circle cx="597.93" cy="127.05" r="1.4" fill="none" stroke="#5068b8" stroke-width="0.5" opacity="0.8"/><circle cx="571.10" cy="107.36" r="1.4" fill="none" stroke="#5068b8" stroke-width="0.5" opacity="0.8"/><circle cx="620.61" cy="139.00" r="1.4" fill="none" stroke="#5068b8" stroke-width="0.5" opacity="0.8"/><circle cx="632.95" cy="144.25" r="1.4" fill="none" stroke="#5068b8" stroke-width="0.5" opacity="0.8"/><circle cx="561.76" cy="99.03" r="1.4" fill="none" stroke="#5068b8" stroke-width="0.5" opacity="0.8"/><circle cx="578.37" cy="109.54" r="1.4" fill="none" stroke="#5068b8" stroke-width="0.5" opacity="0.8"/><circle cx="616.70" cy="134.59" r="1.4" fill="none" stroke="#5068b8" stroke-width="0.5" opacity="0.8"/><circle cx="605.27" cy="130.70" r="1.4" fill="none" stroke="#5068b8" stroke-width="0.5" opacity="0.8"/><circle cx="612.68" cy="132.70" r="1.4" fill="none" stroke="#5068b8" stroke-width="0.5" opacity="0.8"/><circle cx="597.25" cy="126.57" r="1.4" fill="none" stroke="#5068b8" stroke-width="0.5" opacity="0.8"/><circle cx="560.48" cy="99.27" r="1.4" fill="none" stroke="#5068b8" stroke-width="0.5" opacity="0.8"/><circle cx="639.31" cy="149.98" r="1.4" fill="none" stroke="#5068b8" stroke-width="0.5" opacity="0.8"/><circle cx="589.23" cy="118.47" r="1.4" fill="none" stroke="#5068b8" stroke-width="0.5" opacity="0.8"/><circle cx="589.61" cy="116.75" r="1.4" fill="none" stroke="#5068b8" stroke-width="0.5" opacity="0.8"/>
<line x1="524.8" y1="78.6" x2="658" y2="114.1" stroke="#222" stroke-width="0.9"/>
<line x1="524.8" y1="78.6" x2="647.5" y2="157" stroke="#3a52a0" stroke-width="0.9"/>
<line x1="524.8" y1="78.6" x2="639" y2="151.5" stroke="#e0484c" stroke-width="1.0"/>
<circle cx="550.50" cy="205.36" r="1.55" fill="none" stroke="#e0585c" stroke-width="0.6" opacity="0.9"/><circle cx="585.25" cy="197.13" r="1.55" fill="none" stroke="#e0585c" stroke-width="0.6" opacity="0.9"/><circle cx="584.70" cy="170.39" r="1.55" fill="none" stroke="#e0585c" stroke-width="0.6" opacity="0.9"/><circle cx="552.47" cy="191.62" r="1.55" fill="none" stroke="#e0585c" stroke-width="0.6" opacity="0.9"/><circle cx="544.98" cy="199.95" r="1.55" fill="none" stroke="#e0585c" stroke-width="0.6" opacity="0.9"/><circle cx="597.88" cy="172.33" r="1.55" fill="none" stroke="#e0585c" stroke-width="0.6" opacity="0.9"/><circle cx="619.00" cy="185.10" r="1.55" fill="none" stroke="#e0585c" stroke-width="0.6" opacity="0.9"/><circle cx="530.39" cy="191.54" r="1.55" fill="none" stroke="#e0585c" stroke-width="0.6" opacity="0.9"/><circle cx="568.58" cy="195.78" r="1.55" fill="none" stroke="#e0585c" stroke-width="0.6" opacity="0.9"/><circle cx="539.40" cy="186.01" r="1.55" fill="none" stroke="#e0585c" stroke-width="0.6" opacity="0.9"/><circle cx="542.88" cy="196.93" r="1.55" fill="none" stroke="#e0585c" stroke-width="0.6" opacity="0.9"/><circle cx="565.80" cy="193.31" r="1.55" fill="none" stroke="#e0585c" stroke-width="0.6" opacity="0.9"/><circle cx="616.26" cy="165.93" r="1.55" fill="none" stroke="#e0585c" stroke-width="0.6" opacity="0.9"/><circle cx="535.44" cy="198.18" r="1.55" fill="none" stroke="#e0585c" stroke-width="0.6" opacity="0.9"/><circle cx="570.20" cy="200.00" r="1.55" fill="none" stroke="#e0585c" stroke-width="0.6" opacity="0.9"/><circle cx="576.27" cy="186.33" r="1.55" fill="none" stroke="#e0585c" stroke-width="0.6" opacity="0.9"/><circle cx="579.55" cy="189.31" r="1.55" fill="none" stroke="#e0585c" stroke-width="0.6" opacity="0.9"/><circle cx="542.44" cy="185.03" r="1.55" fill="none" stroke="#e0585c" stroke-width="0.6" opacity="0.9"/><circle cx="602.36" cy="172.33" r="1.55" fill="none" stroke="#e0585c" stroke-width="0.6" opacity="0.9"/><circle cx="552.35" cy="200.76" r="1.55" fill="none" stroke="#e0585c" stroke-width="0.6" opacity="0.9"/><circle cx="567.40" cy="185.38" r="1.55" fill="none" stroke="#e0585c" stroke-width="0.6" opacity="0.9"/><circle cx="527.51" cy="207.96" r="1.55" fill="none" stroke="#e0585c" stroke-width="0.6" opacity="0.9"/><circle cx="548.20" cy="192.97" r="1.55" fill="none" stroke="#e0585c" stroke-width="0.6" opacity="0.9"/><circle cx="545.66" cy="194.99" r="1.55" fill="none" stroke="#e0585c" stroke-width="0.6" opacity="0.9"/><circle cx="606.65" cy="176.06" r="1.55" fill="none" stroke="#e0585c" stroke-width="0.6" opacity="0.9"/><circle cx="552.83" cy="200.42" r="1.55" fill="none" stroke="#e0585c" stroke-width="0.6" opacity="0.9"/><circle cx="619.76" cy="181.96" r="1.55" fill="none" stroke="#e0585c" stroke-width="0.6" opacity="0.9"/><circle cx="622.55" cy="177.92" r="1.55" fill="none" stroke="#e0585c" stroke-width="0.6" opacity="0.9"/><circle cx="548.29" cy="183.50" r="1.55" fill="none" stroke="#e0585c" stroke-width="0.6" opacity="0.9"/><circle cx="595.32" cy="186.79" r="1.55" fill="none" stroke="#e0585c" stroke-width="0.6" opacity="0.9"/><circle cx="567.49" cy="197.09" r="1.55" fill="none" stroke="#e0585c" stroke-width="0.6" opacity="0.9"/><circle cx="566.99" cy="191.66" r="1.55" fill="none" stroke="#e0585c" stroke-width="0.6" opacity="0.9"/><circle cx="606.02" cy="175.13" r="1.55" fill="none" stroke="#e0585c" stroke-width="0.6" opacity="0.9"/><circle cx="598.75" cy="186.92" r="1.55" fill="none" stroke="#e0585c" stroke-width="0.6" opacity="0.9"/><circle cx="617.12" cy="169.38" r="1.55" fill="none" stroke="#e0585c" stroke-width="0.6" opacity="0.9"/><circle cx="590.89" cy="187.92" r="1.55" fill="none" stroke="#e0585c" stroke-width="0.6" opacity="0.9"/><circle cx="630.00" cy="176.98" r="1.55" fill="none" stroke="#e0585c" stroke-width="0.6" opacity="0.9"/><circle cx="605.94" cy="195.97" r="1.55" fill="none" stroke="#e0585c" stroke-width="0.6" opacity="0.9"/><circle cx="567.58" cy="185.87" r="1.55" fill="none" stroke="#e0585c" stroke-width="0.6" opacity="0.9"/><circle cx="533.50" cy="194.10" r="1.55" fill="none" stroke="#e0585c" stroke-width="0.6" opacity="0.9"/><circle cx="610.93" cy="169.10" r="1.55" fill="none" stroke="#e0585c" stroke-width="0.6" opacity="0.9"/><circle cx="581.62" cy="191.19" r="1.55" fill="none" stroke="#e0585c" stroke-width="0.6" opacity="0.9"/><circle cx="627.35" cy="170.71" r="1.55" fill="none" stroke="#e0585c" stroke-width="0.6" opacity="0.9"/><circle cx="592.48" cy="179.80" r="1.55" fill="none" stroke="#e0585c" stroke-width="0.6" opacity="0.9"/><circle cx="577.77" cy="172.14" r="1.55" fill="none" stroke="#e0585c" stroke-width="0.6" opacity="0.9"/><circle cx="572.38" cy="191.15" r="1.55" fill="none" stroke="#e0585c" stroke-width="0.6" opacity="0.9"/><circle cx="579.02" cy="191.93" r="1.55" fill="none" stroke="#e0585c" stroke-width="0.6" opacity="0.9"/><circle cx="581.01" cy="179.94" r="1.55" fill="none" stroke="#e0585c" stroke-width="0.6" opacity="0.9"/><circle cx="583.33" cy="189.41" r="1.55" fill="none" stroke="#e0585c" stroke-width="0.6" opacity="0.9"/><circle cx="609.17" cy="166.33" r="1.55" fill="none" stroke="#e0585c" stroke-width="0.6" opacity="0.9"/><circle cx="570.89" cy="199.19" r="1.55" fill="none" stroke="#e0585c" stroke-width="0.6" opacity="0.9"/><circle cx="588.09" cy="185.73" r="1.55" fill="none" stroke="#e0585c" stroke-width="0.6" opacity="0.9"/><circle cx="612.42" cy="175.75" r="1.55" fill="none" stroke="#e0585c" stroke-width="0.6" opacity="0.9"/><circle cx="550.44" cy="190.88" r="1.55" fill="none" stroke="#e0585c" stroke-width="0.6" opacity="0.9"/><circle cx="534.22" cy="201.09" r="1.55" fill="none" stroke="#e0585c" stroke-width="0.6" opacity="0.9"/><circle cx="535.47" cy="196.11" r="1.55" fill="none" stroke="#e0585c" stroke-width="0.6" opacity="0.9"/><circle cx="610.62" cy="173.53" r="1.55" fill="none" stroke="#e0585c" stroke-width="0.6" opacity="0.9"/><circle cx="602.45" cy="177.40" r="1.55" fill="none" stroke="#e0585c" stroke-width="0.6" opacity="0.9"/><circle cx="605.85" cy="174.83" r="1.55" fill="none" stroke="#e0585c" stroke-width="0.6" opacity="0.9"/><circle cx="603.58" cy="178.31" r="1.55" fill="none" stroke="#e0585c" stroke-width="0.6" opacity="0.9"/><circle cx="572.73" cy="164.72" r="1.55" fill="none" stroke="#e0585c" stroke-width="0.6" opacity="0.9"/><circle cx="617.80" cy="160.25" r="1.55" fill="none" stroke="#e0585c" stroke-width="0.6" opacity="0.9"/><circle cx="624.03" cy="175.80" r="1.55" fill="none" stroke="#e0585c" stroke-width="0.6" opacity="0.9"/><circle cx="584.06" cy="189.49" r="1.55" fill="none" stroke="#e0585c" stroke-width="0.6" opacity="0.9"/><circle cx="526.18" cy="208.16" r="1.55" fill="none" stroke="#e0585c" stroke-width="0.6" opacity="0.9"/><circle cx="555.14" cy="192.71" r="1.55" fill="none" stroke="#e0585c" stroke-width="0.6" opacity="0.9"/><circle cx="560.87" cy="190.89" r="1.55" fill="none" stroke="#e0585c" stroke-width="0.6" opacity="0.9"/><circle cx="588.29" cy="197.64" r="1.55" fill="none" stroke="#e0585c" stroke-width="0.6" opacity="0.9"/><circle cx="583.24" cy="182.25" r="1.55" fill="none" stroke="#e0585c" stroke-width="0.6" opacity="0.9"/><circle cx="559.91" cy="192.82" r="1.55" fill="none" stroke="#e0585c" stroke-width="0.6" opacity="0.9"/><circle cx="623.45" cy="176.59" r="1.55" fill="none" stroke="#e0585c" stroke-width="0.6" opacity="0.9"/><circle cx="554.55" cy="179.32" r="1.55" fill="none" stroke="#e0585c" stroke-width="0.6" opacity="0.9"/><circle cx="548.33" cy="204.08" r="1.55" fill="none" stroke="#e0585c" stroke-width="0.6" opacity="0.9"/><circle cx="567.74" cy="192.21" r="1.55" fill="none" stroke="#e0585c" stroke-width="0.6" opacity="0.9"/><circle cx="577.96" cy="176.12" r="1.55" fill="none" stroke="#e0585c" stroke-width="0.6" opacity="0.9"/><circle cx="566.83" cy="190.19" r="1.55" fill="none" stroke="#e0585c" stroke-width="0.6" opacity="0.9"/><circle cx="616.06" cy="179.33" r="1.55" fill="none" stroke="#e0585c" stroke-width="0.6" opacity="0.9"/><circle cx="588.34" cy="198.81" r="1.55" fill="none" stroke="#e0585c" stroke-width="0.6" opacity="0.9"/><circle cx="531.28" cy="196.94" r="1.55" fill="none" stroke="#e0585c" stroke-width="0.6" opacity="0.9"/><circle cx="571.71" cy="196.49" r="1.55" fill="none" stroke="#e0585c" stroke-width="0.6" opacity="0.9"/><circle cx="589.34" cy="179.81" r="1.55" fill="none" stroke="#e0585c" stroke-width="0.6" opacity="0.9"/><circle cx="615.46" cy="179.71" r="1.55" fill="none" stroke="#e0585c" stroke-width="0.6" opacity="0.9"/><circle cx="558.44" cy="188.80" r="1.55" fill="none" stroke="#e0585c" stroke-width="0.6" opacity="0.9"/><circle cx="592.41" cy="168.43" r="1.55" fill="none" stroke="#e0585c" stroke-width="0.6" opacity="0.9"/><circle cx="576.87" cy="193.83" r="1.55" fill="none" stroke="#e0585c" stroke-width="0.6" opacity="0.9"/><circle cx="624.72" cy="168.21" r="1.55" fill="none" stroke="#e0585c" stroke-width="0.6" opacity="0.9"/><circle cx="532.02" cy="190.55" r="1.55" fill="none" stroke="#e0585c" stroke-width="0.6" opacity="0.9"/><circle cx="531.03" cy="204.99" r="1.55" fill="none" stroke="#e0585c" stroke-width="0.6" opacity="0.9"/><circle cx="622.98" cy="181.08" r="1.55" fill="none" stroke="#e0585c" stroke-width="0.6" opacity="0.9"/><circle cx="545.86" cy="200.45" r="1.55" fill="none" stroke="#e0585c" stroke-width="0.6" opacity="0.9"/><circle cx="640.34" cy="189.38" r="1.55" fill="none" stroke="#4a5eac" stroke-width="0.6" opacity="0.9"/><circle cx="587.53" cy="210.43" r="1.55" fill="none" stroke="#4a5eac" stroke-width="0.6" opacity="0.9"/><circle cx="609.39" cy="205.24" r="1.55" fill="none" stroke="#4a5eac" stroke-width="0.6" opacity="0.9"/><circle cx="551.77" cy="220.96" r="1.55" fill="none" stroke="#4a5eac" stroke-width="0.6" opacity="0.9"/><circle cx="629.87" cy="207.71" r="1.55" fill="none" stroke="#4a5eac" stroke-width="0.6" opacity="0.9"/><circle cx="551.26" cy="233.71" r="1.55" fill="none" stroke="#4a5eac" stroke-width="0.6" opacity="0.9"/><circle cx="538.06" cy="236.10" r="1.55" fill="none" stroke="#4a5eac" stroke-width="0.6" opacity="0.9"/><circle cx="643.88" cy="201.57" r="1.55" fill="none" stroke="#4a5eac" stroke-width="0.6" opacity="0.9"/><circle cx="577.13" cy="214.87" r="1.55" fill="none" stroke="#4a5eac" stroke-width="0.6" opacity="0.9"/><circle cx="638.28" cy="195.09" r="1.55" fill="none" stroke="#4a5eac" stroke-width="0.6" opacity="0.9"/><circle cx="610.90" cy="207.64" r="1.55" fill="none" stroke="#4a5eac" stroke-width="0.6" opacity="0.9"/><circle cx="612.12" cy="207.72" r="1.55" fill="none" stroke="#4a5eac" stroke-width="0.6" opacity="0.9"/><circle cx="530.70" cy="233.25" r="1.55" fill="none" stroke="#4a5eac" stroke-width="0.6" opacity="0.9"/><circle cx="554.47" cy="220.29" r="1.55" fill="none" stroke="#4a5eac" stroke-width="0.6" opacity="0.9"/><circle cx="597.97" cy="207.93" r="1.55" fill="none" stroke="#4a5eac" stroke-width="0.6" opacity="0.9"/><circle cx="544.67" cy="232.67" r="1.55" fill="none" stroke="#4a5eac" stroke-width="0.6" opacity="0.9"/><circle cx="639.03" cy="193.79" r="1.55" fill="none" stroke="#4a5eac" stroke-width="0.6" opacity="0.9"/><circle cx="544.41" cy="235.49" r="1.55" fill="none" stroke="#4a5eac" stroke-width="0.6" opacity="0.9"/><circle cx="625.02" cy="207.32" r="1.55" fill="none" stroke="#4a5eac" stroke-width="0.6" opacity="0.9"/><circle cx="529.60" cy="230.82" r="1.55" fill="none" stroke="#4a5eac" stroke-width="0.6" opacity="0.9"/><circle cx="572.81" cy="216.03" r="1.55" fill="none" stroke="#4a5eac" stroke-width="0.6" opacity="0.9"/><circle cx="593.44" cy="209.24" r="1.55" fill="none" stroke="#4a5eac" stroke-width="0.6" opacity="0.9"/><circle cx="537.15" cy="221.27" r="1.55" fill="none" stroke="#4a5eac" stroke-width="0.6" opacity="0.9"/><circle cx="579.02" cy="218.18" r="1.55" fill="none" stroke="#4a5eac" stroke-width="0.6" opacity="0.9"/><circle cx="610.02" cy="214.01" r="1.55" fill="none" stroke="#4a5eac" stroke-width="0.6" opacity="0.9"/><circle cx="540.70" cy="234.24" r="1.55" fill="none" stroke="#4a5eac" stroke-width="0.6" opacity="0.9"/><circle cx="640.45" cy="209.51" r="1.55" fill="none" stroke="#4a5eac" stroke-width="0.6" opacity="0.9"/><circle cx="591.03" cy="212.44" r="1.55" fill="none" stroke="#4a5eac" stroke-width="0.6" opacity="0.9"/><circle cx="561.70" cy="216.85" r="1.55" fill="none" stroke="#4a5eac" stroke-width="0.6" opacity="0.9"/><circle cx="587.32" cy="220.66" r="1.55" fill="none" stroke="#4a5eac" stroke-width="0.6" opacity="0.9"/><circle cx="641.26" cy="202.23" r="1.55" fill="none" stroke="#4a5eac" stroke-width="0.6" opacity="0.9"/><circle cx="633.07" cy="203.10" r="1.55" fill="none" stroke="#4a5eac" stroke-width="0.6" opacity="0.9"/><circle cx="599.92" cy="207.94" r="1.55" fill="none" stroke="#4a5eac" stroke-width="0.6" opacity="0.9"/><circle cx="542.89" cy="226.84" r="1.55" fill="none" stroke="#4a5eac" stroke-width="0.6" opacity="0.9"/><circle cx="559.26" cy="229.97" r="1.55" fill="none" stroke="#4a5eac" stroke-width="0.6" opacity="0.9"/><circle cx="553.78" cy="218.06" r="1.55" fill="none" stroke="#4a5eac" stroke-width="0.6" opacity="0.9"/><circle cx="640.61" cy="204.25" r="1.55" fill="none" stroke="#4a5eac" stroke-width="0.6" opacity="0.9"/><circle cx="645.94" cy="197.37" r="1.55" fill="none" stroke="#4a5eac" stroke-width="0.6" opacity="0.9"/><circle cx="568.37" cy="226.50" r="1.55" fill="none" stroke="#4a5eac" stroke-width="0.6" opacity="0.9"/><circle cx="531.73" cy="228.29" r="1.55" fill="none" stroke="#4a5eac" stroke-width="0.6" opacity="0.9"/><circle cx="566.98" cy="216.47" r="1.55" fill="none" stroke="#4a5eac" stroke-width="0.6" opacity="0.9"/><circle cx="617.92" cy="205.71" r="1.55" fill="none" stroke="#4a5eac" stroke-width="0.6" opacity="0.9"/><circle cx="547.77" cy="226.89" r="1.55" fill="none" stroke="#4a5eac" stroke-width="0.6" opacity="0.9"/><circle cx="534.14" cy="225.96" r="1.55" fill="none" stroke="#4a5eac" stroke-width="0.6" opacity="0.9"/><circle cx="595.12" cy="216.71" r="1.55" fill="none" stroke="#4a5eac" stroke-width="0.6" opacity="0.9"/><circle cx="623.60" cy="206.39" r="1.55" fill="none" stroke="#4a5eac" stroke-width="0.6" opacity="0.9"/><circle cx="599.65" cy="208.83" r="1.55" fill="none" stroke="#4a5eac" stroke-width="0.6" opacity="0.9"/><circle cx="589.41" cy="213.54" r="1.55" fill="none" stroke="#4a5eac" stroke-width="0.6" opacity="0.9"/><circle cx="537.60" cy="227.39" r="1.55" fill="none" stroke="#4a5eac" stroke-width="0.6" opacity="0.9"/><circle cx="597.46" cy="208.65" r="1.55" fill="none" stroke="#4a5eac" stroke-width="0.6" opacity="0.9"/><circle cx="569.43" cy="214.10" r="1.55" fill="none" stroke="#4a5eac" stroke-width="0.6" opacity="0.9"/><circle cx="545.90" cy="231.70" r="1.55" fill="none" stroke="#4a5eac" stroke-width="0.6" opacity="0.9"/><circle cx="546.63" cy="230.44" r="1.55" fill="none" stroke="#4a5eac" stroke-width="0.6" opacity="0.9"/><circle cx="630.37" cy="199.14" r="1.55" fill="none" stroke="#4a5eac" stroke-width="0.6" opacity="0.9"/><circle cx="634.24" cy="196.75" r="1.55" fill="none" stroke="#4a5eac" stroke-width="0.6" opacity="0.9"/><circle cx="537.20" cy="229.47" r="1.55" fill="none" stroke="#4a5eac" stroke-width="0.6" opacity="0.9"/><circle cx="634.94" cy="203.70" r="1.55" fill="none" stroke="#4a5eac" stroke-width="0.6" opacity="0.9"/><circle cx="592.23" cy="216.29" r="1.55" fill="none" stroke="#4a5eac" stroke-width="0.6" opacity="0.9"/><circle cx="540.14" cy="225.30" r="1.55" fill="none" stroke="#4a5eac" stroke-width="0.6" opacity="0.9"/><circle cx="592.17" cy="212.98" r="1.55" fill="none" stroke="#4a5eac" stroke-width="0.6" opacity="0.9"/><circle cx="588.59" cy="211.25" r="1.55" fill="none" stroke="#4a5eac" stroke-width="0.6" opacity="0.9"/><circle cx="575.76" cy="219.84" r="1.55" fill="none" stroke="#4a5eac" stroke-width="0.6" opacity="0.9"/><circle cx="550.83" cy="227.56" r="1.55" fill="none" stroke="#4a5eac" stroke-width="0.6" opacity="0.9"/><circle cx="634.01" cy="202.29" r="1.55" fill="none" stroke="#4a5eac" stroke-width="0.6" opacity="0.9"/><circle cx="587.97" cy="214.33" r="1.55" fill="none" stroke="#4a5eac" stroke-width="0.6" opacity="0.9"/><circle cx="642.94" cy="196.37" r="1.55" fill="none" stroke="#4a5eac" stroke-width="0.6" opacity="0.9"/><circle cx="586.31" cy="215.83" r="1.55" fill="none" stroke="#4a5eac" stroke-width="0.6" opacity="0.9"/><circle cx="611.28" cy="200.28" r="1.55" fill="none" stroke="#4a5eac" stroke-width="0.6" opacity="0.9"/><circle cx="554.04" cy="223.99" r="1.55" fill="none" stroke="#4a5eac" stroke-width="0.6" opacity="0.9"/><circle cx="558.39" cy="219.78" r="1.55" fill="none" stroke="#4a5eac" stroke-width="0.6" opacity="0.9"/><circle cx="529.35" cy="226.78" r="1.55" fill="none" stroke="#4a5eac" stroke-width="0.6" opacity="0.9"/><circle cx="561.85" cy="225.37" r="1.55" fill="none" stroke="#4a5eac" stroke-width="0.6" opacity="0.9"/><circle cx="636.37" cy="204.59" r="1.55" fill="none" stroke="#4a5eac" stroke-width="0.6" opacity="0.9"/><circle cx="554.62" cy="227.14" r="1.55" fill="none" stroke="#4a5eac" stroke-width="0.6" opacity="0.9"/><circle cx="599.61" cy="211.79" r="1.55" fill="none" stroke="#4a5eac" stroke-width="0.6" opacity="0.9"/><circle cx="533.24" cy="222.63" r="1.55" fill="none" stroke="#4a5eac" stroke-width="0.6" opacity="0.9"/><circle cx="556.10" cy="211.78" r="1.55" fill="none" stroke="#4a5eac" stroke-width="0.6" opacity="0.9"/><circle cx="530.63" cy="222.80" r="1.55" fill="none" stroke="#4a5eac" stroke-width="0.6" opacity="0.9"/><circle cx="602.47" cy="205.96" r="1.55" fill="none" stroke="#4a5eac" stroke-width="0.6" opacity="0.9"/><circle cx="568.09" cy="211.14" r="1.55" fill="none" stroke="#4a5eac" stroke-width="0.6" opacity="0.9"/>
<line x1="524.8" y1="202.6" x2="637.4" y2="167.5" stroke="#e0484c" stroke-width="0.9"/>
<line x1="524.8" y1="232.9" x2="649.9" y2="194.8" stroke="#3a52a0" stroke-width="0.9"/>
<rect x="524.8" y="57.9" width="150.20" height="219.70" fill="none" stroke="#4d4d4d" stroke-width="1.0"/>
<line x1="524.8" y1="157.0" x2="675.0" y2="157.0" stroke="#4d4d4d" stroke-width="1.0"/>
<path d="M549.80,57.9 v-1.6 M549.80,155.4 v3.2 M549.80,277.6 v1.6 M574.80,57.9 v-1.6 M574.80,155.4 v3.2 M574.80,277.6 v1.6 M599.80,57.9 v-1.6 M599.80,155.4 v3.2 M599.80,277.6 v1.6 M624.80,57.9 v-1.6 M624.80,155.4 v3.2 M624.80,277.6 v1.6 M649.80,57.9 v-1.6 M649.80,155.4 v3.2 M649.80,277.6 v1.6 M524.8,78.60 h-1.6 M524.8,98.20 h-1.6 M524.8,117.80 h-1.6 M524.8,137.40 h-1.6 M524.8,157.00 h-1.6 M524.8,256.70 h-1.6 M524.8,236.90 h-1.6 M524.8,217.10 h-1.6 M524.8,197.30 h-1.6 M524.8,177.50 h-1.6" stroke="#4d4d4d" stroke-width="0.9" fill="none"/>
<text x="520.70" y="81.90" font-size="9.4" text-anchor="end" font-weight="normal" font-style="normal" fill="#2b2b2b" >0</text>
<text x="521.00" y="121.10" font-size="9.4" text-anchor="end" font-weight="normal" font-style="normal" fill="#2b2b2b" >−0.02</text>
<text x="520.60" y="180.90" font-size="9.4" text-anchor="end" font-weight="normal" font-style="normal" fill="#2b2b2b" >0.025</text>
<text x="520.60" y="220.50" font-size="9.4" text-anchor="end" font-weight="normal" font-style="normal" fill="#2b2b2b" >0.015</text>
<text x="520.60" y="260.10" font-size="9.4" text-anchor="end" font-weight="normal" font-style="normal" fill="#2b2b2b" >0.005</text>
<text x="524.80" y="289.00" font-size="9.4" text-anchor="middle" font-weight="normal" font-style="normal" fill="#2b2b2b" >0</text>
<text x="574.80" y="289.00" font-size="9.4" text-anchor="middle" font-weight="normal" font-style="normal" fill="#2b2b2b" >0.01</text>
<text x="624.80" y="289.00" font-size="9.4" text-anchor="middle" font-weight="normal" font-style="normal" fill="#2b2b2b" >0.02</text>
<text x="674.80" y="289.00" font-size="9.4" text-anchor="middle" font-weight="normal" font-style="normal" fill="#2b2b2b" >0.03</text>
<text x="534.10" y="149.60" font-size="9.3" text-anchor="start" font-weight="normal" font-style="normal" fill="#2b2b2b" >MDC fit</text>
<text x="668.7" y="270.2" font-size="9.3" text-anchor="end" fill="#2b2b2b">Δ<tspan font-style="italic">k</tspan> versus <tspan font-style="italic">k</tspan></text>
<text x="578" y="303.2" font-size="9.3" fill="#2b2b2b"><tspan font-style="italic">k</tspan> − <tspan font-style="italic">k</tspan><tspan font-size="6.2" dy="2.3">F</tspan><tspan dy="-2.3" dx="2.5"> (Å</tspan><tspan font-size="6.2" dy="-3.3">−1</tspan><tspan dy="3.3">)</tspan></text>
<text transform="translate(488.6,114.9) rotate(-90)" font-size="8.9" text-anchor="middle" fill="#2b2b2b"><tspan font-style="italic">E</tspan> − <tspan font-style="italic">E</tspan><tspan font-size="6.2" dy="2.4">F</tspan><tspan dy="-2.4"> (eV)</tspan></text>
<text transform="translate(487.0,226.3) rotate(-90)" font-size="9.3" text-anchor="middle" fill="#2b2b2b">Δ<tspan font-style="italic">k</tspan> (Å<tspan font-size="6.2" dy="-3.3">−1</tspan><tspan dy="3.3">)</tspan></text>
<circle cx="540.7" cy="45.4" r="1.45" fill="none" stroke="#4a62b0" stroke-width="0.9"/>
<text x="546.5" y="48.4" font-size="9.5" fill="#2b2b2b"><tspan font-family='"Liberation Serif", serif' font-size="10.5">α</tspan><tspan dx="1.7">6 K</tspan></text>
<circle cx="582.8" cy="45.4" r="1.45" fill="none" stroke="#e25a5e" stroke-width="0.9"/>
<text x="587.2" y="48.4" font-size="9.5" fill="#2b2b2b"><tspan font-family='"Liberation Serif", serif' font-size="10.5">α</tspan><tspan dx="1.7">70 K</tspan></text>
<circle cx="628" cy="45.2" r="1.2" fill="#333"/>
<text x="632.6" y="48.4" font-size="9.5" fill="#2b2b2b"><tspan font-family='"Liberation Serif", serif' font-size="10">β</tspan><tspan dx="1.7">6 K</tspan></text></svg></body></html>
